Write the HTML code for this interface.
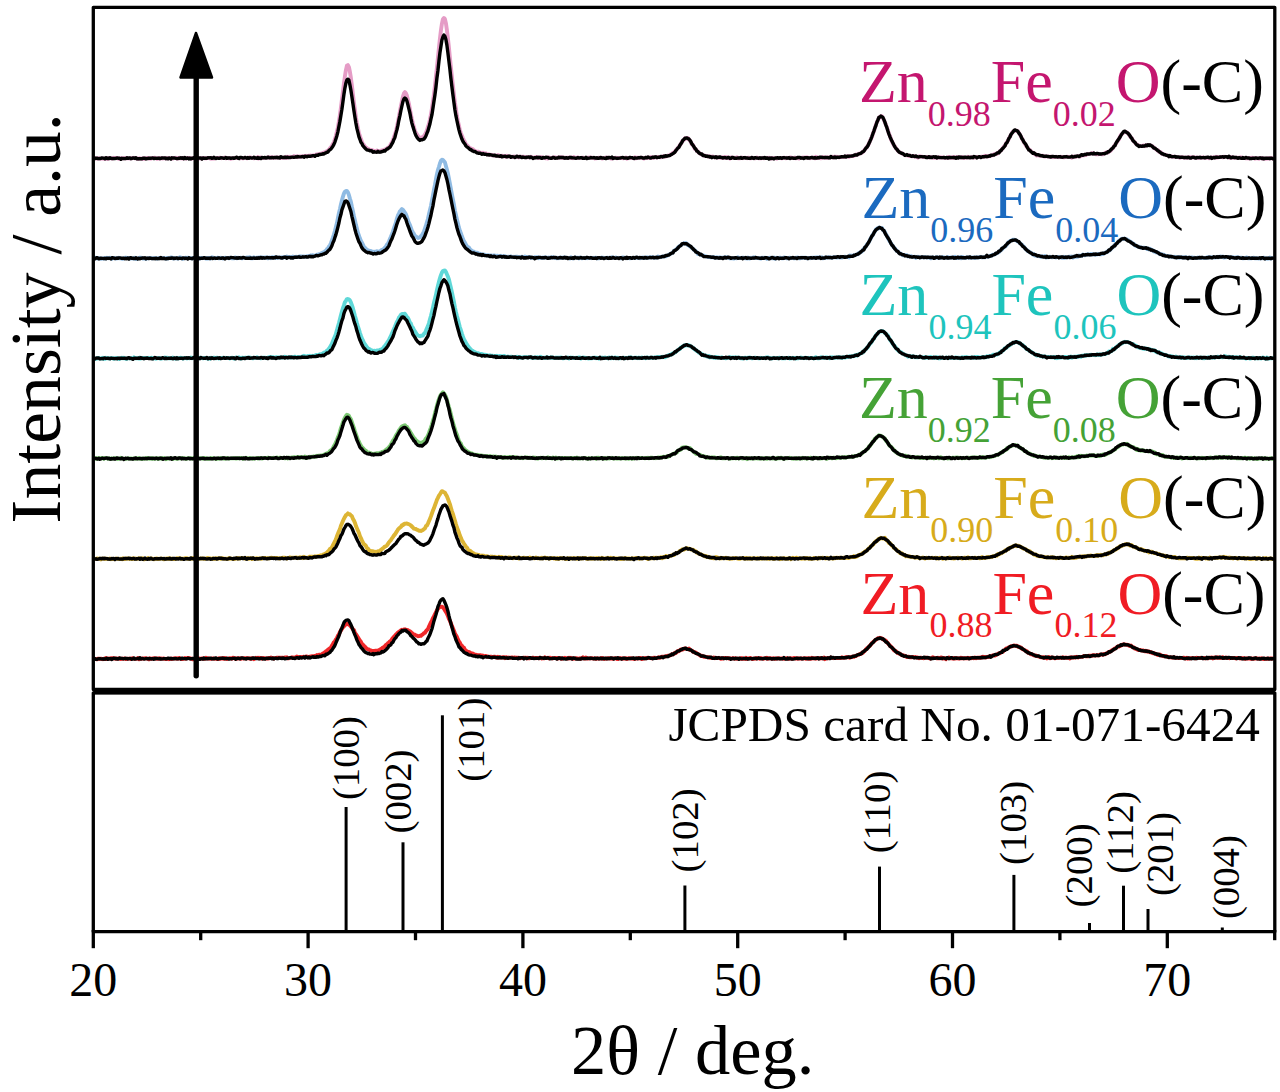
<!DOCTYPE html><html><head><meta charset="utf-8"><style>html,body{margin:0;padding:0;background:#fff;overflow:hidden}svg{display:block}</style></head><body><svg width="1280" height="1092" viewBox="0 0 1280 1092">
<rect width="1280" height="1092" fill="#fff"/>
<g fill="none" stroke-linejoin="round" stroke-linecap="round">
<path d="M94.9,158.0 95.9,158.4 96.9,158.6 97.9,158.5 98.9,158.1 99.9,158.7 100.9,158.6 101.9,158.6 102.9,158.6 103.9,158.7 104.9,159.0 105.9,158.2 106.9,158.4 107.9,158.9 108.9,157.9 109.9,158.4 110.9,158.1 111.9,158.3 112.9,158.5 113.9,157.8 114.9,158.0 115.9,157.9 116.9,158.3 117.9,158.1 118.9,158.8 119.9,158.2 120.9,158.8 121.9,158.2 122.9,158.4 123.9,158.3 124.9,158.3 125.9,158.0 126.9,158.4 127.9,158.4 128.9,158.4 129.9,158.5 130.9,158.1 131.9,158.2 132.9,158.1 133.9,157.8 134.9,158.4 135.9,158.1 136.9,158.3 137.9,159.0 138.9,158.4 139.9,158.3 140.9,158.6 141.9,158.7 142.9,158.8 143.9,158.1 144.9,158.8 145.9,158.3 146.9,158.0 147.9,158.0 148.9,158.6 149.9,158.5 150.9,158.7 151.9,158.0 152.9,158.2 153.9,157.9 154.9,157.7 155.9,158.3 156.9,158.8 157.9,158.6 158.9,158.0 159.9,158.6 160.9,158.1 161.9,158.4 162.9,158.5 163.9,158.1 164.9,158.0 165.9,158.5 166.9,158.2 167.9,158.1 168.9,158.4 169.9,158.2 170.9,158.4 171.9,158.0 172.9,158.5 173.9,158.0 174.9,158.1 175.9,157.7 176.9,158.6 177.9,158.3 178.9,158.4 179.9,157.7 180.9,158.3 181.9,158.1 182.9,158.6 183.9,157.8 184.9,158.3 185.9,158.5 186.9,157.9 187.9,158.2 188.9,157.9 189.9,158.2 190.9,158.3 191.9,158.6 192.9,158.2 193.9,158.0 194.9,158.4 195.9,158.2 196.9,158.5 197.9,158.0 198.9,158.6 199.9,158.2 200.9,158.2 201.9,158.5 202.9,158.0 203.9,158.0 204.9,158.3 205.9,158.1 206.9,158.2 207.9,158.0 208.9,158.0 209.9,158.4 210.9,158.7 211.9,157.7 212.9,158.6 213.9,158.3 214.9,158.5 215.9,158.2 216.9,157.9 217.9,158.0 218.9,157.8 219.9,157.6 220.9,158.1 221.9,158.2 222.9,158.0 223.9,158.1 224.9,157.6 225.9,158.4 226.9,158.0 227.9,158.1 228.9,158.3 229.9,157.9 230.9,158.8 231.9,158.4 232.9,158.4 233.9,158.1 234.9,157.8 235.9,158.1 236.9,157.8 237.9,158.1 238.9,158.0 239.9,158.3 240.9,158.1 241.9,158.0 242.9,158.4 243.9,157.9 244.9,157.8 245.9,157.8 246.9,158.4 247.9,157.9 248.9,157.7 249.9,157.3 250.9,157.6 251.9,158.0 252.9,158.0 253.9,158.3 254.9,157.6 255.9,158.0 256.9,158.2 257.9,157.1 258.9,158.5 259.9,157.4 260.9,157.4 261.9,158.0 262.9,157.9 263.9,158.1 264.9,157.9 265.9,157.8 266.9,157.6 267.9,157.4 268.9,157.8 269.9,157.1 270.9,157.6 271.9,157.8 272.9,157.2 273.9,157.8 274.9,157.8 275.9,157.5 276.9,157.4 277.9,157.6 278.9,157.6 279.9,157.3 280.9,158.0 281.9,157.8 282.9,157.6 283.9,157.7 284.9,157.7 285.9,156.8 286.9,158.0 287.9,156.8 288.9,157.2 289.9,156.8 290.9,157.3 291.9,157.2 292.9,157.1 293.9,156.1 294.9,157.1 295.9,156.9 296.9,156.2 297.9,157.2 298.9,156.6 299.9,156.4 300.9,156.7 301.9,156.3 302.9,156.5 303.9,156.2 304.9,156.0 305.9,155.8 306.9,156.3 307.9,156.0 308.9,155.7 309.9,155.6 310.9,155.4 311.9,156.2 312.9,155.5 313.9,155.3 314.9,155.5 315.9,154.7 316.9,154.4 317.9,154.3 318.9,154.3 319.9,153.9 320.9,153.6 321.9,153.5 322.9,152.9 323.9,152.4 324.9,152.5 325.9,151.7 326.9,151.1 327.9,150.7 328.9,149.8 329.9,148.4 330.9,147.3 331.9,145.7 332.9,143.9 333.9,142.2 334.9,139.2 335.9,135.7 336.9,131.5 337.9,127.5 338.9,121.4 339.9,115.1 340.9,107.8 341.9,99.7 342.9,91.9 343.9,83.6 344.9,76.4 345.9,70.1 346.9,65.7 347.9,65.0 348.9,67.0 349.9,71.7 350.9,77.9 351.9,85.6 352.9,94.2 353.9,102.4 354.9,109.5 355.9,117.3 356.9,123.1 357.9,128.0 358.9,133.2 359.9,135.8 360.9,139.0 361.9,141.4 362.9,144.1 363.9,145.0 364.9,146.7 365.9,147.6 366.9,148.1 367.9,149.0 368.9,149.1 369.9,150.1 370.9,149.9 371.9,150.2 372.9,150.9 373.9,150.7 374.9,151.5 375.9,151.4 376.9,150.5 377.9,151.1 378.9,150.9 379.9,151.5 380.9,150.6 381.9,150.4 382.9,150.3 383.9,149.9 384.9,149.4 385.9,149.2 386.9,148.4 387.9,147.6 388.9,147.4 389.9,145.8 390.9,144.0 391.9,142.2 392.9,140.3 393.9,137.4 394.9,134.3 395.9,131.4 396.9,126.8 397.9,122.0 398.9,117.0 399.9,111.4 400.9,106.1 401.9,101.5 402.9,96.6 403.9,93.5 404.9,92.1 405.9,93.3 406.9,95.6 407.9,99.6 408.9,103.7 409.9,109.2 410.9,114.3 411.9,119.2 412.9,123.4 413.9,127.0 414.9,130.6 415.9,132.8 416.9,134.2 417.9,135.9 418.9,137.2 419.9,137.9 420.9,137.6 421.9,137.3 422.9,137.2 423.9,136.1 424.9,134.6 425.9,132.8 426.9,130.2 427.9,126.9 428.9,123.9 429.9,119.6 430.9,114.7 431.9,108.6 432.9,101.8 433.9,94.4 434.9,86.2 435.9,76.7 436.9,67.7 437.9,57.9 438.9,48.3 439.9,39.0 440.9,30.5 441.9,23.8 442.9,19.2 443.9,18.0 444.9,19.0 445.9,23.1 446.9,30.0 447.9,38.2 448.9,47.1 449.9,57.6 450.9,67.2 451.9,76.7 452.9,85.7 453.9,94.2 454.9,102.5 455.9,108.7 456.9,116.0 457.9,121.1 458.9,125.5 459.9,130.1 460.9,133.1 461.9,135.6 462.9,138.3 463.9,140.2 464.9,142.0 465.9,144.4 466.9,145.1 467.9,146.1 468.9,147.3 469.9,148.1 470.9,148.4 471.9,149.0 472.9,149.2 473.9,150.6 474.9,150.7 475.9,151.5 476.9,151.6 477.9,151.6 478.9,152.1 479.9,153.0 480.9,152.7 481.9,153.3 482.9,152.7 483.9,153.4 484.9,154.1 485.9,153.4 486.9,154.5 487.9,154.2 488.9,154.3 489.9,155.1 490.9,154.7 491.9,155.3 492.9,155.0 493.9,155.3 494.9,155.7 495.9,155.8 496.9,155.5 497.9,155.0 498.9,156.3 499.9,155.7 500.9,156.3 501.9,155.8 502.9,155.9 503.9,156.2 504.9,156.2 505.9,156.9 506.9,155.8 507.9,156.2 508.9,156.5 509.9,156.6 510.9,156.6 511.9,156.7 512.9,157.0 513.9,156.5 514.9,156.6 515.9,156.8 516.9,157.0 517.9,156.4 518.9,157.5 519.9,156.8 520.9,156.8 521.9,156.9 522.9,156.7 523.9,156.8 524.9,157.0 525.9,157.3 526.9,157.4 527.9,157.1 528.9,157.1 529.9,157.4 530.9,156.7 531.9,157.2 532.9,157.6 533.9,157.8 534.9,157.3 535.9,157.0 536.9,157.2 537.9,157.8 538.9,158.0 539.9,157.4 540.9,157.0 541.9,157.5 542.9,157.7 543.9,157.8 544.9,157.6 545.9,158.3 546.9,157.6 547.9,158.4 548.9,157.3 549.9,158.0 550.9,158.0 551.9,157.9 552.9,157.4 553.9,157.6 554.9,157.3 555.9,157.7 556.9,157.8 557.9,157.9 558.9,157.3 559.9,157.5 560.9,157.1 561.9,157.8 562.9,157.4 563.9,158.1 564.9,157.6 565.9,157.9 566.9,157.7 567.9,157.8 568.9,157.7 569.9,157.4 570.9,158.1 571.9,157.5 572.9,158.2 573.9,157.1 574.9,157.7 575.9,158.1 576.9,158.1 577.9,157.3 578.9,157.9 579.9,157.9 580.9,157.9 581.9,157.7 582.9,157.6 583.9,157.9 584.9,158.0 585.9,158.2 586.9,157.9 587.9,157.6 588.9,158.1 589.9,157.5 590.9,157.7 591.9,157.7 592.9,157.9 593.9,158.0 594.9,158.5 595.9,158.1 596.9,158.2 597.9,157.8 598.9,157.6 599.9,157.8 600.9,157.8 601.9,158.6 602.9,158.4 603.9,158.2 604.9,157.9 605.9,157.5 606.9,157.8 607.9,157.8 608.9,157.7 609.9,158.1 610.9,158.5 611.9,158.6 612.9,157.9 613.9,158.0 614.9,158.0 615.9,157.7 616.9,158.3 617.9,158.1 618.9,158.0 619.9,158.1 620.9,157.8 621.9,157.9 622.9,158.3 623.9,158.2 624.9,158.0 625.9,157.5 626.9,158.7 627.9,158.0 628.9,158.2 629.9,157.6 630.9,158.1 631.9,158.1 632.9,158.0 633.9,158.2 634.9,157.3 635.9,158.2 636.9,157.7 637.9,157.7 638.9,157.8 639.9,157.9 640.9,157.8 641.9,157.7 642.9,157.9 643.9,158.6 644.9,157.9 645.9,157.6 646.9,158.0 647.9,157.9 648.9,157.4 649.9,158.0 650.9,157.1 651.9,157.7 652.9,158.0 653.9,157.1 654.9,157.2 655.9,157.1 656.9,157.7 657.9,157.0 658.9,157.1 659.9,157.2 660.9,157.2 661.9,157.1 662.9,156.4 663.9,156.0 664.9,156.7 665.9,156.2 666.9,156.2 667.9,155.5 668.9,155.4 669.9,155.4 670.9,154.1 671.9,153.9 672.9,152.8 673.9,152.9 674.9,151.6 675.9,150.2 676.9,148.9 677.9,148.1 678.9,146.7 679.9,145.1 680.9,144.0 681.9,141.7 682.9,140.8 683.9,139.8 684.9,138.3 685.9,138.3 686.9,138.5 687.9,138.1 688.9,139.3 689.9,140.3 690.9,142.3 691.9,144.3 692.9,144.8 693.9,146.8 694.9,149.0 695.9,149.3 696.9,150.8 697.9,151.8 698.9,152.4 699.9,153.6 700.9,154.1 701.9,154.5 702.9,155.0 703.9,155.8 704.9,155.8 705.9,155.8 706.9,156.1 707.9,156.5 708.9,156.7 709.9,156.3 710.9,157.1 711.9,156.6 712.9,156.5 713.9,157.0 714.9,157.3 715.9,157.6 716.9,157.0 717.9,157.3 718.9,157.7 719.9,157.5 720.9,157.9 721.9,157.8 722.9,157.1 723.9,157.4 724.9,157.9 725.9,157.0 726.9,158.0 727.9,157.7 728.9,157.5 729.9,158.5 730.9,157.5 731.9,157.6 732.9,157.7 733.9,157.7 734.9,158.0 735.9,158.0 736.9,157.2 737.9,158.2 738.9,158.2 739.9,158.2 740.9,158.1 741.9,157.5 742.9,158.2 743.9,157.8 744.9,157.6 745.9,158.0 746.9,158.2 747.9,157.7 748.9,157.7 749.9,158.2 750.9,158.3 751.9,157.8 752.9,158.1 753.9,158.0 754.9,158.4 755.9,158.1 756.9,157.5 757.9,157.8 758.9,158.4 759.9,158.4 760.9,158.4 761.9,158.0 762.9,157.8 763.9,158.3 764.9,158.0 765.9,158.0 766.9,157.8 767.9,158.1 768.9,157.8 769.9,157.9 770.9,158.6 771.9,158.0 772.9,158.4 773.9,158.1 774.9,158.2 775.9,158.1 776.9,158.7 777.9,158.1 778.9,158.1 779.9,158.1 780.9,157.9 781.9,158.4 782.9,157.8 783.9,157.6 784.9,158.1 785.9,158.2 786.9,157.7 787.9,158.1 788.9,158.0 789.9,157.5 790.9,157.4 791.9,158.1 792.9,158.0 793.9,158.2 794.9,157.6 795.9,158.3 796.9,158.0 797.9,158.1 798.9,158.5 799.9,157.9 800.9,157.9 801.9,157.8 802.9,157.5 803.9,157.9 804.9,157.5 805.9,157.6 806.9,157.3 807.9,158.1 808.9,157.8 809.9,158.2 810.9,157.7 811.9,157.7 812.9,157.6 813.9,157.5 814.9,158.3 815.9,156.9 816.9,158.1 817.9,158.1 818.9,157.6 819.9,157.7 820.9,158.2 821.9,157.7 822.9,157.0 823.9,157.4 824.9,158.0 825.9,157.3 826.9,157.9 827.9,157.4 828.9,157.7 829.9,157.3 830.9,157.2 831.9,157.3 832.9,156.7 833.9,157.5 834.9,156.6 835.9,157.2 836.9,156.8 837.9,157.2 838.9,157.5 839.9,157.0 840.9,156.9 841.9,157.0 842.9,157.0 843.9,157.0 844.9,156.5 845.9,156.9 846.9,156.2 847.9,156.3 848.9,156.9 849.9,156.2 850.9,156.2 851.9,156.0 852.9,155.8 853.9,156.1 854.9,155.3 855.9,154.5 856.9,154.7 857.9,154.5 858.9,153.8 859.9,153.4 860.9,153.4 861.9,152.5 862.9,152.1 863.9,150.8 864.9,149.4 865.9,148.4 866.9,147.0 867.9,145.3 868.9,143.8 869.9,141.0 870.9,139.1 871.9,137.1 872.9,133.6 873.9,131.3 874.9,128.1 875.9,124.7 876.9,122.1 877.9,120.3 878.9,117.8 879.9,116.7 880.9,116.2 881.9,116.2 882.9,118.1 883.9,119.9 884.9,122.2 885.9,124.7 886.9,127.4 887.9,130.3 888.9,133.8 889.9,135.6 890.9,139.1 891.9,141.3 892.9,143.4 893.9,145.2 894.9,146.5 895.9,148.0 896.9,149.5 897.9,150.7 898.9,151.8 899.9,152.3 900.9,153.0 901.9,153.2 902.9,154.2 903.9,154.4 904.9,155.2 905.9,155.2 906.9,155.2 907.9,155.0 908.9,156.0 909.9,155.5 910.9,156.0 911.9,156.3 912.9,156.4 913.9,155.9 914.9,156.1 915.9,156.8 916.9,156.8 917.9,157.6 918.9,156.5 919.9,156.3 920.9,156.5 921.9,156.6 922.9,156.8 923.9,157.1 924.9,157.1 925.9,157.0 926.9,156.9 927.9,157.3 928.9,157.0 929.9,157.5 930.9,157.2 931.9,157.1 932.9,157.7 933.9,157.7 934.9,157.8 935.9,157.1 936.9,157.7 937.9,157.8 938.9,157.5 939.9,157.2 940.9,157.4 941.9,157.7 942.9,157.5 943.9,157.5 944.9,157.8 945.9,158.1 946.9,158.0 947.9,157.2 948.9,157.0 949.9,158.0 950.9,157.9 951.9,157.5 952.9,157.0 953.9,158.0 954.9,157.4 955.9,157.3 956.9,157.4 957.9,157.5 958.9,157.0 959.9,157.1 960.9,157.5 961.9,157.5 962.9,157.0 963.9,158.1 964.9,157.8 965.9,157.6 966.9,157.6 967.9,156.7 968.9,157.3 969.9,157.5 970.9,157.3 971.9,157.3 972.9,157.4 973.9,157.6 974.9,157.5 975.9,156.9 976.9,157.4 977.9,156.9 978.9,157.0 979.9,157.0 980.9,156.8 981.9,156.7 982.9,156.8 983.9,156.7 984.9,155.8 985.9,156.4 986.9,156.0 987.9,156.6 988.9,156.0 989.9,155.6 990.9,155.8 991.9,155.4 992.9,155.3 993.9,154.2 994.9,154.3 995.9,153.7 996.9,153.9 997.9,153.1 998.9,152.1 999.9,151.4 1000.9,150.5 1001.9,149.3 1002.9,148.0 1003.9,146.5 1004.9,145.8 1005.9,143.6 1006.9,142.3 1007.9,140.6 1008.9,138.7 1009.9,136.6 1010.9,135.0 1011.9,133.0 1012.9,131.6 1013.9,131.2 1014.9,130.6 1015.9,130.7 1016.9,130.8 1017.9,131.2 1018.9,133.0 1019.9,134.5 1020.9,136.8 1021.9,138.1 1022.9,140.5 1023.9,142.1 1024.9,143.8 1025.9,145.4 1026.9,147.0 1027.9,147.8 1028.9,149.7 1029.9,149.9 1030.9,151.1 1031.9,151.9 1032.9,153.0 1033.9,153.2 1034.9,154.4 1035.9,154.1 1036.9,155.5 1037.9,155.2 1038.9,155.6 1039.9,155.6 1040.9,156.0 1041.9,155.7 1042.9,155.6 1043.9,156.4 1044.9,156.5 1045.9,156.3 1046.9,156.4 1047.9,156.5 1048.9,156.6 1049.9,156.9 1050.9,156.6 1051.9,156.9 1052.9,157.2 1053.9,156.8 1054.9,157.1 1055.9,156.7 1056.9,157.0 1057.9,156.9 1058.9,157.3 1059.9,156.9 1060.9,156.7 1061.9,157.1 1062.9,156.9 1063.9,157.4 1064.9,157.1 1065.9,156.9 1066.9,156.7 1067.9,157.0 1068.9,156.9 1069.9,156.9 1070.9,156.9 1071.9,157.8 1072.9,156.5 1073.9,156.7 1074.9,156.8 1075.9,156.8 1076.9,156.3 1077.9,156.3 1078.9,156.0 1079.9,156.5 1080.9,155.5 1081.9,155.6 1082.9,155.1 1083.9,155.3 1084.9,154.6 1085.9,155.1 1086.9,154.2 1087.9,154.1 1088.9,153.9 1089.9,153.9 1090.9,153.5 1091.9,153.1 1092.9,153.1 1093.9,153.6 1094.9,154.1 1095.9,154.2 1096.9,154.1 1097.9,154.3 1098.9,154.0 1099.9,154.0 1100.9,154.2 1101.9,154.4 1102.9,154.3 1103.9,153.8 1104.9,153.0 1105.9,152.9 1106.9,152.0 1107.9,152.5 1108.9,151.6 1109.9,151.2 1110.9,150.4 1111.9,149.0 1112.9,148.1 1113.9,146.6 1114.9,144.8 1115.9,143.8 1116.9,142.2 1117.9,140.5 1118.9,139.2 1119.9,136.7 1120.9,134.9 1121.9,134.2 1122.9,133.2 1123.9,132.2 1124.9,131.7 1125.9,131.9 1126.9,132.5 1127.9,133.4 1128.9,134.4 1129.9,136.3 1130.9,137.2 1131.9,138.5 1132.9,140.3 1133.9,141.4 1134.9,142.5 1135.9,144.0 1136.9,144.3 1137.9,145.0 1138.9,145.6 1139.9,145.8 1140.9,146.1 1141.9,146.1 1142.9,145.7 1143.9,145.4 1144.9,146.2 1145.9,145.4 1146.9,145.0 1147.9,145.1 1148.9,145.1 1149.9,145.2 1150.9,145.5 1151.9,146.0 1152.9,146.6 1153.9,148.0 1154.9,148.2 1155.9,149.2 1156.9,150.1 1157.9,150.1 1158.9,151.8 1159.9,152.2 1160.9,152.3 1161.9,153.8 1162.9,154.2 1163.9,154.4 1164.9,154.6 1165.9,154.8 1166.9,155.4 1167.9,155.6 1168.9,156.2 1169.9,156.3 1170.9,156.6 1171.9,156.5 1172.9,156.6 1173.9,156.7 1174.9,156.7 1175.9,156.9 1176.9,157.1 1177.9,157.1 1178.9,157.1 1179.9,157.9 1180.9,157.3 1181.9,157.4 1182.9,157.3 1183.9,157.7 1184.9,157.7 1185.9,157.5 1186.9,157.8 1187.9,157.7 1188.9,157.2 1189.9,157.2 1190.9,157.3 1191.9,157.7 1192.9,157.4 1193.9,157.2 1194.9,157.5 1195.9,157.7 1196.9,157.7 1197.9,157.8 1198.9,157.7 1199.9,157.8 1200.9,157.7 1201.9,157.5 1202.9,157.4 1203.9,157.7 1204.9,157.9 1205.9,157.6 1206.9,157.6 1207.9,157.9 1208.9,158.2 1209.9,158.1 1210.9,157.4 1211.9,157.4 1212.9,157.4 1213.9,157.5 1214.9,157.5 1215.9,156.8 1216.9,157.7 1217.9,157.5 1218.9,157.0 1219.9,157.2 1220.9,156.9 1221.9,157.0 1222.9,157.4 1223.9,156.6 1224.9,156.8 1225.9,156.9 1226.9,157.0 1227.9,157.2 1228.9,157.2 1229.9,157.9 1230.9,157.1 1231.9,157.7 1232.9,157.4 1233.9,157.7 1234.9,157.7 1235.9,157.7 1236.9,157.6 1237.9,157.8 1238.9,157.6 1239.9,157.8 1240.9,157.3 1241.9,157.9 1242.9,157.8 1243.9,158.0 1244.9,157.8 1245.9,158.4 1246.9,158.1 1247.9,158.1 1248.9,158.5 1249.9,157.9 1250.9,158.2 1251.9,157.8 1252.9,157.9 1253.9,158.0 1254.9,158.7 1255.9,158.0 1256.9,158.4 1257.9,158.4 1258.9,158.7 1259.9,158.2 1260.9,157.9 1261.9,157.9 1262.9,158.7 1263.9,158.5 1264.9,158.7 1265.9,158.8 1266.9,158.4 1267.9,158.3 1268.9,158.5 1269.9,157.9 1270.9,158.2 1271.9,158.3 1272.9,158.5" stroke="#e59cc6" stroke-width="3.9"/>
<path d="M94.9,158.5 95.9,158.2 96.9,158.2 97.9,158.5 98.9,158.7 99.9,158.5 100.9,158.3 101.9,157.9 102.9,158.1 103.9,158.2 104.9,158.7 105.9,157.7 106.9,158.5 107.9,158.2 108.9,158.5 109.9,157.8 110.9,158.3 111.9,158.5 112.9,158.4 113.9,158.6 114.9,158.5 115.9,158.4 116.9,158.0 117.9,158.2 118.9,158.1 119.9,158.3 120.9,159.3 121.9,158.3 122.9,158.6 123.9,158.5 124.9,158.6 125.9,158.6 126.9,157.7 127.9,158.4 128.9,157.9 129.9,157.9 130.9,158.7 131.9,158.3 132.9,158.0 133.9,157.9 134.9,158.4 135.9,157.8 136.9,158.8 137.9,158.6 138.9,158.7 139.9,158.7 140.9,158.6 141.9,158.8 142.9,158.2 143.9,158.4 144.9,158.1 145.9,158.9 146.9,158.4 147.9,158.5 148.9,158.1 149.9,158.2 150.9,158.2 151.9,158.1 152.9,158.0 153.9,158.6 154.9,158.2 155.9,158.4 156.9,158.3 157.9,158.1 158.9,158.2 159.9,158.6 160.9,158.3 161.9,158.0 162.9,158.0 163.9,158.1 164.9,158.0 165.9,158.7 166.9,158.3 167.9,158.8 168.9,158.0 169.9,158.1 170.9,159.0 171.9,157.8 172.9,158.1 173.9,158.0 174.9,158.2 175.9,158.4 176.9,158.6 177.9,158.6 178.9,158.1 179.9,158.3 180.9,157.8 181.9,158.4 182.9,157.8 183.9,158.7 184.9,157.6 185.9,158.5 186.9,158.3 187.9,157.9 188.9,158.9 189.9,158.1 190.9,158.9 191.9,158.2 192.9,158.3 193.9,157.6 194.9,158.0 195.9,158.3 196.9,158.0 197.9,158.0 198.9,157.9 199.9,158.1 200.9,158.0 201.9,159.0 202.9,157.9 203.9,158.2 204.9,158.3 205.9,158.2 206.9,158.3 207.9,157.8 208.9,157.9 209.9,157.8 210.9,157.6 211.9,158.4 212.9,158.1 213.9,157.3 214.9,158.1 215.9,158.5 216.9,158.0 217.9,158.2 218.9,158.2 219.9,158.2 220.9,157.8 221.9,157.9 222.9,158.0 223.9,158.4 224.9,158.0 225.9,157.5 226.9,158.3 227.9,157.9 228.9,158.0 229.9,157.9 230.9,158.4 231.9,158.0 232.9,158.0 233.9,158.3 234.9,158.0 235.9,157.6 236.9,157.2 237.9,158.1 238.9,158.5 239.9,157.4 240.9,157.5 241.9,157.7 242.9,158.1 243.9,158.0 244.9,157.5 245.9,157.8 246.9,158.3 247.9,157.6 248.9,158.2 249.9,157.6 250.9,157.8 251.9,158.1 252.9,157.9 253.9,157.3 254.9,158.2 255.9,158.0 256.9,158.3 257.9,157.5 258.9,158.3 259.9,157.9 260.9,158.5 261.9,157.5 262.9,157.6 263.9,157.8 264.9,157.5 265.9,158.0 266.9,157.9 267.9,157.1 268.9,157.6 269.9,157.9 270.9,157.8 271.9,157.4 272.9,157.7 273.9,157.7 274.9,157.5 275.9,157.7 276.9,157.3 277.9,157.9 278.9,157.4 279.9,157.9 280.9,156.7 281.9,157.4 282.9,157.5 283.9,157.5 284.9,157.2 285.9,157.6 286.9,157.3 287.9,157.3 288.9,157.6 289.9,157.5 290.9,157.3 291.9,157.1 292.9,157.1 293.9,157.4 294.9,157.2 295.9,156.8 296.9,157.1 297.9,156.5 298.9,156.9 299.9,156.9 300.9,156.9 301.9,156.6 302.9,156.5 303.9,157.2 304.9,156.2 305.9,156.4 306.9,156.7 307.9,156.1 308.9,156.2 309.9,156.4 310.9,156.1 311.9,155.8 312.9,155.6 313.9,155.6 314.9,156.3 315.9,155.2 316.9,155.2 317.9,155.4 318.9,154.5 319.9,154.5 320.9,154.3 321.9,154.2 322.9,153.7 323.9,154.1 324.9,153.2 325.9,152.9 326.9,152.2 327.9,152.2 328.9,150.6 329.9,149.7 330.9,149.1 331.9,147.6 332.9,146.3 333.9,144.4 334.9,142.1 335.9,139.0 336.9,135.7 337.9,131.8 338.9,126.6 339.9,121.4 340.9,115.4 341.9,109.2 342.9,101.9 343.9,94.6 344.9,88.1 345.9,83.1 346.9,79.9 347.9,79.2 348.9,80.0 349.9,84.8 350.9,90.2 351.9,96.7 352.9,103.4 353.9,110.5 354.9,117.0 355.9,123.1 356.9,128.4 357.9,132.3 358.9,136.7 359.9,139.3 360.9,142.2 361.9,143.5 362.9,145.7 363.9,146.8 364.9,148.0 365.9,149.0 366.9,149.8 367.9,150.1 368.9,150.2 369.9,150.8 370.9,150.7 371.9,151.0 372.9,152.2 373.9,151.7 374.9,152.1 375.9,152.1 376.9,152.2 377.9,151.3 378.9,152.0 379.9,152.2 380.9,152.0 381.9,151.5 382.9,151.5 383.9,150.7 384.9,151.0 385.9,149.9 386.9,149.0 387.9,148.8 388.9,147.7 389.9,147.2 390.9,145.7 391.9,143.9 392.9,142.1 393.9,139.4 394.9,137.4 395.9,133.4 396.9,129.9 397.9,125.4 398.9,120.0 399.9,115.6 400.9,110.5 401.9,106.0 402.9,101.6 403.9,99.0 404.9,98.0 405.9,98.8 406.9,100.9 407.9,104.7 408.9,108.8 409.9,113.0 410.9,118.4 411.9,123.1 412.9,126.6 413.9,129.7 414.9,132.8 415.9,135.5 416.9,137.2 417.9,138.6 418.9,139.7 419.9,140.4 420.9,139.7 421.9,139.8 422.9,139.4 423.9,139.1 424.9,137.8 425.9,136.0 426.9,133.3 427.9,131.0 428.9,127.6 429.9,124.0 430.9,119.2 431.9,114.9 432.9,108.6 433.9,101.8 434.9,95.2 435.9,87.5 436.9,78.3 437.9,70.7 438.9,61.5 439.9,53.0 440.9,46.4 441.9,40.0 442.9,36.9 443.9,35.1 444.9,36.3 445.9,39.5 446.9,45.1 447.9,52.9 448.9,61.1 449.9,69.2 450.9,78.5 451.9,86.8 452.9,94.7 453.9,102.3 454.9,109.8 455.9,115.7 456.9,120.5 457.9,125.2 458.9,129.6 459.9,133.2 460.9,136.2 461.9,139.1 462.9,141.2 463.9,142.7 464.9,144.0 465.9,145.9 466.9,146.9 467.9,147.5 468.9,148.3 469.9,149.5 470.9,149.5 471.9,150.6 472.9,151.0 473.9,151.6 474.9,151.4 475.9,152.1 476.9,152.8 477.9,153.0 478.9,153.4 479.9,153.2 480.9,153.6 481.9,154.2 482.9,153.7 483.9,154.0 484.9,154.4 485.9,154.3 486.9,154.8 487.9,154.6 488.9,155.0 489.9,154.7 490.9,154.9 491.9,155.1 492.9,155.5 493.9,155.6 494.9,155.2 495.9,156.0 496.9,155.8 497.9,156.0 498.9,156.1 499.9,156.4 500.9,155.8 501.9,156.8 502.9,156.5 503.9,156.3 504.9,156.1 505.9,156.6 506.9,156.8 507.9,156.5 508.9,156.2 509.9,156.2 510.9,157.3 511.9,156.7 512.9,156.9 513.9,156.9 514.9,157.5 515.9,157.0 516.9,156.2 517.9,156.8 518.9,157.0 519.9,156.5 520.9,157.2 521.9,157.5 522.9,156.9 523.9,157.4 524.9,157.5 525.9,157.6 526.9,157.2 527.9,157.1 528.9,157.0 529.9,157.7 530.9,156.9 531.9,157.4 532.9,158.4 533.9,157.9 534.9,157.6 535.9,157.9 536.9,157.3 537.9,157.8 538.9,157.3 539.9,157.5 540.9,158.0 541.9,158.3 542.9,157.5 543.9,157.8 544.9,157.8 545.9,157.3 546.9,157.4 547.9,157.4 548.9,158.1 549.9,158.1 550.9,158.3 551.9,158.2 552.9,157.5 553.9,157.4 554.9,158.3 555.9,158.1 556.9,158.0 557.9,158.0 558.9,157.2 559.9,157.7 560.9,157.4 561.9,157.5 562.9,157.4 563.9,157.8 564.9,158.2 565.9,157.8 566.9,157.8 567.9,158.2 568.9,157.7 569.9,157.5 570.9,157.5 571.9,157.8 572.9,157.9 573.9,157.9 574.9,158.1 575.9,158.2 576.9,158.1 577.9,157.6 578.9,158.0 579.9,157.9 580.9,157.6 581.9,157.6 582.9,158.4 583.9,158.3 584.9,158.3 585.9,157.4 586.9,158.5 587.9,158.2 588.9,158.1 589.9,158.0 590.9,157.5 591.9,157.9 592.9,157.9 593.9,157.5 594.9,158.0 595.9,158.2 596.9,157.7 597.9,158.4 598.9,157.9 599.9,158.2 600.9,157.5 601.9,158.1 602.9,158.0 603.9,158.0 604.9,158.4 605.9,158.6 606.9,157.5 607.9,158.2 608.9,157.5 609.9,157.7 610.9,157.8 611.9,157.1 612.9,158.5 613.9,158.0 614.9,158.0 615.9,158.1 616.9,158.3 617.9,158.3 618.9,158.1 619.9,158.1 620.9,157.8 621.9,157.6 622.9,157.4 623.9,158.0 624.9,158.0 625.9,158.0 626.9,157.9 627.9,158.4 628.9,157.8 629.9,157.5 630.9,157.6 631.9,157.6 632.9,158.1 633.9,158.5 634.9,157.8 635.9,158.0 636.9,158.1 637.9,157.8 638.9,157.8 639.9,157.7 640.9,157.4 641.9,157.7 642.9,158.0 643.9,158.2 644.9,157.8 645.9,157.5 646.9,157.9 647.9,156.9 648.9,157.5 649.9,157.9 650.9,158.0 651.9,157.5 652.9,157.1 653.9,157.5 654.9,157.0 655.9,156.8 656.9,157.6 657.9,157.4 658.9,157.1 659.9,157.2 660.9,156.5 661.9,156.7 662.9,157.0 663.9,156.2 664.9,156.5 665.9,155.7 666.9,156.2 667.9,155.9 668.9,155.6 669.9,155.6 670.9,154.6 671.9,154.4 672.9,153.4 673.9,152.9 674.9,152.1 675.9,150.5 676.9,149.3 677.9,148.0 678.9,147.4 679.9,145.2 680.9,143.7 681.9,142.3 682.9,140.1 683.9,139.5 684.9,138.2 685.9,138.2 686.9,137.9 687.9,138.6 688.9,138.9 689.9,140.3 690.9,141.8 691.9,143.9 692.9,145.1 693.9,146.7 694.9,148.3 695.9,149.3 696.9,151.1 697.9,151.6 698.9,152.8 699.9,153.5 700.9,154.1 701.9,153.9 702.9,155.5 703.9,155.5 704.9,155.6 705.9,156.4 706.9,156.0 707.9,156.5 708.9,156.3 709.9,157.0 710.9,156.6 711.9,157.7 712.9,157.0 713.9,157.1 714.9,157.6 715.9,156.7 716.9,157.7 717.9,157.1 718.9,157.3 719.9,157.0 720.9,157.3 721.9,157.6 722.9,158.1 723.9,157.6 724.9,157.5 725.9,157.9 726.9,158.1 727.9,157.5 728.9,157.5 729.9,158.3 730.9,158.4 731.9,157.5 732.9,157.4 733.9,158.0 734.9,158.3 735.9,158.3 736.9,158.2 737.9,158.0 738.9,157.9 739.9,158.1 740.9,157.5 741.9,158.3 742.9,158.1 743.9,157.6 744.9,157.7 745.9,158.0 746.9,157.9 747.9,158.2 748.9,158.2 749.9,158.1 750.9,158.2 751.9,157.4 752.9,158.1 753.9,158.5 754.9,157.7 755.9,157.8 756.9,158.0 757.9,158.2 758.9,158.2 759.9,157.8 760.9,158.3 761.9,158.0 762.9,158.0 763.9,158.2 764.9,157.5 765.9,158.3 766.9,158.0 767.9,158.0 768.9,158.9 769.9,158.0 770.9,158.6 771.9,158.0 772.9,158.4 773.9,158.8 774.9,158.1 775.9,157.9 776.9,158.1 777.9,157.7 778.9,158.2 779.9,157.7 780.9,158.0 781.9,158.3 782.9,157.6 783.9,157.6 784.9,157.9 785.9,157.9 786.9,158.2 787.9,157.8 788.9,157.6 789.9,158.5 790.9,158.2 791.9,158.0 792.9,157.9 793.9,158.4 794.9,158.2 795.9,158.2 796.9,157.8 797.9,157.4 798.9,157.5 799.9,157.5 800.9,158.2 801.9,157.9 802.9,158.2 803.9,158.5 804.9,157.6 805.9,157.9 806.9,157.7 807.9,158.1 808.9,157.8 809.9,158.0 810.9,157.6 811.9,157.4 812.9,157.8 813.9,158.0 814.9,157.7 815.9,158.1 816.9,158.0 817.9,157.5 818.9,157.9 819.9,157.2 820.9,157.1 821.9,157.3 822.9,157.5 823.9,157.6 824.9,157.5 825.9,157.4 826.9,157.6 827.9,157.4 828.9,157.9 829.9,157.9 830.9,156.5 831.9,157.4 832.9,157.5 833.9,157.6 834.9,156.9 835.9,157.7 836.9,157.1 837.9,157.4 838.9,157.3 839.9,157.2 840.9,157.0 841.9,156.6 842.9,156.9 843.9,156.9 844.9,156.1 845.9,157.0 846.9,156.5 847.9,156.2 848.9,156.2 849.9,156.1 850.9,156.1 851.9,156.0 852.9,155.9 853.9,155.3 854.9,155.0 855.9,154.8 856.9,155.0 857.9,154.3 858.9,153.8 859.9,153.6 860.9,153.4 861.9,152.3 862.9,151.7 863.9,151.2 864.9,149.6 865.9,148.1 866.9,147.2 867.9,145.7 868.9,143.5 869.9,141.4 870.9,139.1 871.9,136.5 872.9,133.7 873.9,131.1 874.9,128.0 875.9,125.5 876.9,122.3 877.9,120.0 878.9,117.5 879.9,117.2 880.9,116.0 881.9,116.8 882.9,117.4 883.9,119.6 884.9,122.1 885.9,125.1 886.9,127.7 887.9,131.0 888.9,134.0 889.9,136.6 890.9,138.9 891.9,141.1 892.9,143.1 893.9,145.0 894.9,146.8 895.9,148.4 896.9,149.3 897.9,150.8 898.9,151.8 899.9,152.5 900.9,152.9 901.9,153.3 902.9,153.7 903.9,154.4 904.9,155.4 905.9,155.2 906.9,154.6 907.9,155.3 908.9,155.4 909.9,155.5 910.9,156.1 911.9,156.4 912.9,155.8 913.9,156.3 914.9,156.5 915.9,156.0 916.9,156.7 917.9,156.8 918.9,157.0 919.9,156.6 920.9,156.6 921.9,156.6 922.9,156.8 923.9,156.9 924.9,156.7 925.9,157.6 926.9,157.3 927.9,157.5 928.9,156.7 929.9,157.5 930.9,157.2 931.9,157.5 932.9,156.9 933.9,156.8 934.9,157.3 935.9,156.8 936.9,158.0 937.9,157.1 938.9,157.4 939.9,157.6 940.9,157.6 941.9,157.6 942.9,157.6 943.9,157.5 944.9,157.8 945.9,157.7 946.9,157.5 947.9,158.0 948.9,157.5 949.9,157.5 950.9,157.5 951.9,157.6 952.9,157.5 953.9,157.3 954.9,157.7 955.9,158.2 956.9,157.2 957.9,158.0 958.9,156.9 959.9,157.6 960.9,157.2 961.9,157.5 962.9,157.5 963.9,157.6 964.9,157.2 965.9,157.3 966.9,157.6 967.9,157.3 968.9,157.3 969.9,157.7 970.9,157.2 971.9,157.5 972.9,157.7 973.9,156.4 974.9,156.9 975.9,156.9 976.9,157.9 977.9,157.3 978.9,156.8 979.9,156.8 980.9,157.5 981.9,157.0 982.9,156.6 983.9,156.7 984.9,156.6 985.9,156.3 986.9,156.7 987.9,156.4 988.9,155.9 989.9,156.2 990.9,155.3 991.9,155.2 992.9,155.1 993.9,155.0 994.9,154.3 995.9,154.1 996.9,153.2 997.9,152.8 998.9,152.9 999.9,151.1 1000.9,150.7 1001.9,149.2 1002.9,148.3 1003.9,147.2 1004.9,146.0 1005.9,143.6 1006.9,142.6 1007.9,140.7 1008.9,138.3 1009.9,137.0 1010.9,134.5 1011.9,133.2 1012.9,132.1 1013.9,130.7 1014.9,129.9 1015.9,130.3 1016.9,130.6 1017.9,131.5 1018.9,133.1 1019.9,134.4 1020.9,136.1 1021.9,138.7 1022.9,139.9 1023.9,142.1 1024.9,143.2 1025.9,144.6 1026.9,146.7 1027.9,148.4 1028.9,150.0 1029.9,150.4 1030.9,151.5 1031.9,152.3 1032.9,153.3 1033.9,152.8 1034.9,153.7 1035.9,154.5 1036.9,154.8 1037.9,154.7 1038.9,155.0 1039.9,155.5 1040.9,155.7 1041.9,155.7 1042.9,156.0 1043.9,156.3 1044.9,156.4 1045.9,156.2 1046.9,156.3 1047.9,156.5 1048.9,156.7 1049.9,156.7 1050.9,157.0 1051.9,156.5 1052.9,156.5 1053.9,156.6 1054.9,156.7 1055.9,156.6 1056.9,156.9 1057.9,157.0 1058.9,156.6 1059.9,156.7 1060.9,157.0 1061.9,157.2 1062.9,157.1 1063.9,156.8 1064.9,156.9 1065.9,156.8 1066.9,156.8 1067.9,157.0 1068.9,157.1 1069.9,157.1 1070.9,156.9 1071.9,156.3 1072.9,157.0 1073.9,156.8 1074.9,156.5 1075.9,156.6 1076.9,156.1 1077.9,156.0 1078.9,156.5 1079.9,156.2 1080.9,155.0 1081.9,154.6 1082.9,155.3 1083.9,154.8 1084.9,154.4 1085.9,154.6 1086.9,154.0 1087.9,153.9 1088.9,154.1 1089.9,153.9 1090.9,153.4 1091.9,153.6 1092.9,154.0 1093.9,153.1 1094.9,153.8 1095.9,153.8 1096.9,153.5 1097.9,153.5 1098.9,154.0 1099.9,153.8 1100.9,154.0 1101.9,153.8 1102.9,153.6 1103.9,153.6 1104.9,153.7 1105.9,153.0 1106.9,152.9 1107.9,151.8 1108.9,151.7 1109.9,150.8 1110.9,149.8 1111.9,148.6 1112.9,148.0 1113.9,146.4 1114.9,145.7 1115.9,143.4 1116.9,141.7 1117.9,140.2 1118.9,138.8 1119.9,137.3 1120.9,135.5 1121.9,133.8 1122.9,132.7 1123.9,131.4 1124.9,131.2 1125.9,131.9 1126.9,132.6 1127.9,133.0 1128.9,134.4 1129.9,135.6 1130.9,137.4 1131.9,138.5 1132.9,140.5 1133.9,141.5 1134.9,142.3 1135.9,143.7 1136.9,145.0 1137.9,145.2 1138.9,146.5 1139.9,146.0 1140.9,146.2 1141.9,146.3 1142.9,145.9 1143.9,146.2 1144.9,145.8 1145.9,145.1 1146.9,145.7 1147.9,144.7 1148.9,145.5 1149.9,144.8 1150.9,145.5 1151.9,146.0 1152.9,147.0 1153.9,148.0 1154.9,148.2 1155.9,149.1 1156.9,149.7 1157.9,150.8 1158.9,151.3 1159.9,152.2 1160.9,152.9 1161.9,153.7 1162.9,153.8 1163.9,154.5 1164.9,154.7 1165.9,155.1 1166.9,155.4 1167.9,155.5 1168.9,156.6 1169.9,155.5 1170.9,156.3 1171.9,156.7 1172.9,156.6 1173.9,156.6 1174.9,156.4 1175.9,157.2 1176.9,156.8 1177.9,157.1 1178.9,157.0 1179.9,157.4 1180.9,157.3 1181.9,157.1 1182.9,157.3 1183.9,157.5 1184.9,157.7 1185.9,157.5 1186.9,157.7 1187.9,157.2 1188.9,157.5 1189.9,158.0 1190.9,158.0 1191.9,157.4 1192.9,157.3 1193.9,157.4 1194.9,157.8 1195.9,158.1 1196.9,157.4 1197.9,157.6 1198.9,157.5 1199.9,157.3 1200.9,157.9 1201.9,157.6 1202.9,157.6 1203.9,157.4 1204.9,157.9 1205.9,157.5 1206.9,157.4 1207.9,157.2 1208.9,157.6 1209.9,157.7 1210.9,157.3 1211.9,158.4 1212.9,157.6 1213.9,157.4 1214.9,157.8 1215.9,157.3 1216.9,157.2 1217.9,157.4 1218.9,157.4 1219.9,156.9 1220.9,157.2 1221.9,156.9 1222.9,156.7 1223.9,157.2 1224.9,156.6 1225.9,156.9 1226.9,156.8 1227.9,157.5 1228.9,156.2 1229.9,157.1 1230.9,157.8 1231.9,157.5 1232.9,157.0 1233.9,157.5 1234.9,157.7 1235.9,157.4 1236.9,157.8 1237.9,158.3 1238.9,157.6 1239.9,158.0 1240.9,158.2 1241.9,158.3 1242.9,157.5 1243.9,158.3 1244.9,158.2 1245.9,157.5 1246.9,157.8 1247.9,158.1 1248.9,157.9 1249.9,158.6 1250.9,158.5 1251.9,158.5 1252.9,158.1 1253.9,158.3 1254.9,158.2 1255.9,158.0 1256.9,158.1 1257.9,158.4 1258.9,158.2 1259.9,158.0 1260.9,158.0 1261.9,158.5 1262.9,158.0 1263.9,158.8 1264.9,158.3 1265.9,158.2 1266.9,158.2 1267.9,158.4 1268.9,158.2 1269.9,158.6 1270.9,158.2 1271.9,158.2 1272.9,158.7" stroke="#000" stroke-width="3.4"/>
<path d="M94.9,258.0 95.9,257.7 96.9,258.5 97.9,258.5 98.9,258.2 99.9,258.4 100.9,258.8 101.9,258.6 102.9,258.5 103.9,258.5 104.9,258.0 105.9,258.6 106.9,257.8 107.9,258.2 108.9,258.1 109.9,257.7 110.9,258.2 111.9,258.8 112.9,258.2 113.9,257.9 114.9,258.2 115.9,258.5 116.9,258.3 117.9,258.3 118.9,257.8 119.9,258.4 120.9,258.4 121.9,258.7 122.9,258.7 123.9,258.5 124.9,257.8 125.9,257.8 126.9,257.9 127.9,258.3 128.9,258.0 129.9,258.6 130.9,258.3 131.9,258.4 132.9,258.5 133.9,258.3 134.9,257.8 135.9,259.0 136.9,258.7 137.9,258.7 138.9,258.0 139.9,257.7 140.9,257.8 141.9,257.9 142.9,258.5 143.9,258.5 144.9,258.7 145.9,258.9 146.9,258.4 147.9,258.3 148.9,258.1 149.9,258.1 150.9,257.9 151.9,258.4 152.9,258.3 153.9,258.1 154.9,258.0 155.9,258.4 156.9,258.6 157.9,258.2 158.9,258.3 159.9,258.0 160.9,258.1 161.9,258.1 162.9,258.1 163.9,258.0 164.9,258.3 165.9,258.6 166.9,257.9 167.9,258.6 168.9,258.1 169.9,258.1 170.9,257.5 171.9,257.5 172.9,258.4 173.9,257.9 174.9,258.4 175.9,258.2 176.9,258.3 177.9,258.6 178.9,258.2 179.9,257.2 180.9,257.6 181.9,258.5 182.9,258.8 183.9,258.1 184.9,257.9 185.9,257.7 186.9,258.3 187.9,257.6 188.9,257.8 189.9,258.2 190.9,258.2 191.9,258.1 192.9,258.5 193.9,257.8 194.9,257.8 195.9,258.0 196.9,258.1 197.9,258.0 198.9,258.7 199.9,257.9 200.9,258.3 201.9,257.9 202.9,258.2 203.9,258.0 204.9,258.0 205.9,258.6 206.9,258.0 207.9,258.6 208.9,257.9 209.9,257.9 210.9,258.4 211.9,257.3 212.9,257.6 213.9,258.1 214.9,258.2 215.9,258.2 216.9,258.0 217.9,257.6 218.9,258.3 219.9,258.2 220.9,257.7 221.9,258.1 222.9,258.6 223.9,258.1 224.9,257.7 225.9,257.9 226.9,257.9 227.9,258.1 228.9,258.3 229.9,257.7 230.9,257.8 231.9,258.3 232.9,258.2 233.9,258.4 234.9,257.5 235.9,257.7 236.9,258.3 237.9,257.7 238.9,258.0 239.9,257.9 240.9,257.7 241.9,258.4 242.9,257.9 243.9,257.8 244.9,257.9 245.9,258.0 246.9,257.4 247.9,257.6 248.9,257.5 249.9,257.2 250.9,258.2 251.9,258.3 252.9,258.2 253.9,257.3 254.9,257.9 255.9,258.0 256.9,257.6 257.9,258.0 258.9,257.4 259.9,257.4 260.9,257.5 261.9,257.5 262.9,257.4 263.9,258.0 264.9,257.4 265.9,257.5 266.9,257.5 267.9,258.3 268.9,257.4 269.9,257.8 270.9,258.2 271.9,257.2 272.9,257.3 273.9,257.5 274.9,257.1 275.9,257.9 276.9,257.4 277.9,257.8 278.9,257.6 279.9,257.5 280.9,257.7 281.9,257.3 282.9,257.7 283.9,257.0 284.9,257.1 285.9,257.7 286.9,256.6 287.9,257.4 288.9,257.1 289.9,257.0 290.9,256.9 291.9,257.5 292.9,256.6 293.9,257.3 294.9,257.1 295.9,256.8 296.9,256.9 297.9,257.0 298.9,256.6 299.9,256.3 300.9,256.8 301.9,256.4 302.9,256.4 303.9,256.5 304.9,256.6 305.9,256.9 306.9,256.3 307.9,256.2 308.9,256.3 309.9,256.0 310.9,255.3 311.9,255.5 312.9,255.2 313.9,255.6 314.9,255.7 315.9,255.2 316.9,254.6 317.9,254.9 318.9,254.1 319.9,254.2 320.9,253.4 321.9,252.9 322.9,252.4 323.9,252.3 324.9,251.3 325.9,250.8 326.9,249.2 327.9,248.5 328.9,246.6 329.9,245.4 330.9,243.2 331.9,240.4 332.9,237.7 333.9,234.5 334.9,231.0 335.9,226.9 336.9,223.1 337.9,218.2 338.9,213.1 339.9,209.1 340.9,204.5 341.9,200.6 342.9,196.8 343.9,193.7 344.9,191.7 345.9,190.9 346.9,190.9 347.9,192.3 348.9,194.9 349.9,198.5 350.9,201.8 351.9,206.7 352.9,211.1 353.9,215.9 354.9,220.1 355.9,224.6 356.9,228.5 357.9,232.6 358.9,235.4 359.9,238.3 360.9,240.9 361.9,242.5 362.9,244.6 363.9,246.9 364.9,247.8 365.9,248.7 366.9,249.9 367.9,250.2 368.9,250.7 369.9,251.0 370.9,250.9 371.9,251.9 372.9,251.7 373.9,251.9 374.9,251.8 375.9,251.7 376.9,251.1 377.9,251.7 378.9,252.0 379.9,251.4 380.9,250.6 381.9,249.8 382.9,249.5 383.9,248.7 384.9,247.6 385.9,246.7 386.9,244.7 387.9,243.7 388.9,241.5 389.9,239.1 390.9,236.8 391.9,234.3 392.9,231.6 393.9,228.3 394.9,225.4 395.9,222.8 396.9,218.5 397.9,215.5 398.9,213.6 399.9,211.3 400.9,210.3 401.9,209.1 402.9,209.8 403.9,211.1 404.9,212.7 405.9,214.1 406.9,216.9 407.9,219.9 408.9,223.0 409.9,224.9 410.9,227.6 411.9,230.6 412.9,232.3 413.9,233.9 414.9,236.0 415.9,236.3 416.9,237.3 417.9,238.1 418.9,237.6 419.9,237.5 420.9,236.0 421.9,235.3 422.9,233.5 423.9,231.7 424.9,228.6 425.9,225.7 426.9,222.4 427.9,219.0 428.9,214.4 429.9,210.2 430.9,206.1 431.9,200.8 432.9,195.6 433.9,190.0 434.9,185.2 435.9,179.5 436.9,174.5 437.9,170.2 438.9,167.0 439.9,163.5 440.9,160.9 441.9,159.8 442.9,159.9 443.9,161.1 444.9,162.2 445.9,166.0 446.9,169.5 447.9,173.4 448.9,178.3 449.9,183.7 450.9,188.8 451.9,194.3 452.9,199.3 453.9,204.3 454.9,210.6 455.9,214.6 456.9,219.1 457.9,223.3 458.9,227.4 459.9,230.7 460.9,233.2 461.9,236.3 462.9,238.8 463.9,241.2 464.9,242.7 465.9,244.7 466.9,246.1 467.9,247.7 468.9,247.5 469.9,249.3 470.9,250.1 471.9,250.9 472.9,251.3 473.9,251.6 474.9,252.5 475.9,252.8 476.9,252.7 477.9,252.9 478.9,253.7 479.9,253.6 480.9,254.2 481.9,254.7 482.9,254.5 483.9,254.7 484.9,254.8 485.9,255.3 486.9,255.5 487.9,255.2 488.9,255.5 489.9,255.4 490.9,255.4 491.9,255.8 492.9,255.7 493.9,255.5 494.9,255.4 495.9,256.3 496.9,255.8 497.9,255.8 498.9,256.1 499.9,256.5 500.9,255.8 501.9,256.6 502.9,256.6 503.9,256.1 504.9,256.2 505.9,256.5 506.9,257.2 507.9,256.6 508.9,257.1 509.9,257.1 510.9,256.3 511.9,256.9 512.9,257.2 513.9,256.8 514.9,257.3 515.9,256.7 516.9,256.6 517.9,256.9 518.9,257.3 519.9,257.0 520.9,257.4 521.9,256.7 522.9,257.0 523.9,257.6 524.9,256.5 525.9,257.4 526.9,257.0 527.9,257.1 528.9,257.2 529.9,256.9 530.9,257.7 531.9,257.6 532.9,257.8 533.9,257.5 534.9,257.2 535.9,257.7 536.9,257.1 537.9,257.2 538.9,258.2 539.9,257.9 540.9,257.7 541.9,258.0 542.9,257.5 543.9,257.8 544.9,257.4 545.9,257.5 546.9,257.7 547.9,258.1 548.9,257.4 549.9,258.0 550.9,257.7 551.9,257.2 552.9,257.1 553.9,257.5 554.9,258.0 555.9,257.8 556.9,258.3 557.9,257.8 558.9,258.2 559.9,257.8 560.9,257.5 561.9,258.0 562.9,257.6 563.9,257.4 564.9,257.6 565.9,257.7 566.9,257.9 567.9,258.1 568.9,258.0 569.9,258.5 570.9,257.2 571.9,257.8 572.9,258.6 573.9,257.8 574.9,257.5 575.9,257.6 576.9,257.6 577.9,257.7 578.9,258.4 579.9,257.5 580.9,257.7 581.9,258.3 582.9,258.0 583.9,258.0 584.9,257.8 585.9,258.2 586.9,257.6 587.9,258.2 588.9,258.0 589.9,257.9 590.9,257.8 591.9,258.2 592.9,258.0 593.9,257.8 594.9,258.0 595.9,257.6 596.9,258.3 597.9,258.4 598.9,258.3 599.9,258.0 600.9,258.1 601.9,257.5 602.9,257.8 603.9,257.9 604.9,257.9 605.9,258.1 606.9,257.8 607.9,257.7 608.9,258.3 609.9,257.9 610.9,257.8 611.9,257.3 612.9,257.5 613.9,257.9 614.9,258.0 615.9,257.4 616.9,257.9 617.9,258.0 618.9,257.8 619.9,258.0 620.9,258.4 621.9,257.7 622.9,257.4 623.9,257.8 624.9,257.7 625.9,257.9 626.9,258.1 627.9,258.2 628.9,258.0 629.9,258.3 630.9,258.0 631.9,258.2 632.9,258.0 633.9,258.0 634.9,257.7 635.9,257.9 636.9,257.7 637.9,257.8 638.9,257.9 639.9,258.2 640.9,257.7 641.9,258.0 642.9,257.4 643.9,257.7 644.9,258.1 645.9,257.8 646.9,257.2 647.9,257.7 648.9,257.6 649.9,257.3 650.9,257.1 651.9,257.3 652.9,257.2 653.9,257.7 654.9,257.6 655.9,257.6 656.9,257.7 657.9,256.6 658.9,257.1 659.9,257.2 660.9,256.8 661.9,256.6 662.9,256.4 663.9,256.5 664.9,256.2 665.9,256.3 666.9,255.7 667.9,255.2 668.9,254.7 669.9,253.9 670.9,253.6 671.9,253.2 672.9,252.3 673.9,251.0 674.9,250.1 675.9,249.8 676.9,248.7 677.9,247.8 678.9,246.5 679.9,246.1 680.9,245.3 681.9,244.3 682.9,244.1 683.9,243.3 684.9,243.4 685.9,243.0 686.9,243.9 687.9,245.2 688.9,245.4 689.9,246.5 690.9,247.0 691.9,247.9 692.9,248.8 693.9,249.6 694.9,250.8 695.9,251.2 696.9,252.3 697.9,254.0 698.9,253.8 699.9,254.1 700.9,255.1 701.9,255.4 702.9,255.5 703.9,255.6 704.9,256.2 705.9,256.4 706.9,256.7 707.9,257.0 708.9,257.1 709.9,256.9 710.9,257.4 711.9,257.4 712.9,257.0 713.9,257.6 714.9,257.5 715.9,257.7 716.9,257.3 717.9,257.5 718.9,257.6 719.9,257.3 720.9,257.9 721.9,257.6 722.9,257.9 723.9,257.5 724.9,257.4 725.9,257.5 726.9,257.2 727.9,257.6 728.9,258.0 729.9,258.3 730.9,258.2 731.9,258.3 732.9,258.3 733.9,258.6 734.9,258.0 735.9,258.2 736.9,258.2 737.9,257.2 738.9,258.0 739.9,258.0 740.9,258.1 741.9,257.8 742.9,257.8 743.9,257.8 744.9,258.2 745.9,258.2 746.9,258.5 747.9,257.6 748.9,258.4 749.9,258.6 750.9,257.8 751.9,258.1 752.9,257.6 753.9,257.2 754.9,257.6 755.9,258.0 756.9,258.1 757.9,257.9 758.9,258.2 759.9,258.2 760.9,258.6 761.9,257.6 762.9,257.8 763.9,257.9 764.9,257.8 765.9,257.9 766.9,258.8 767.9,257.9 768.9,258.2 769.9,257.6 770.9,257.8 771.9,258.3 772.9,258.4 773.9,257.5 774.9,258.7 775.9,258.2 776.9,257.8 777.9,258.2 778.9,257.8 779.9,257.6 780.9,258.1 781.9,258.3 782.9,258.4 783.9,257.5 784.9,257.7 785.9,258.0 786.9,258.4 787.9,258.4 788.9,257.9 789.9,257.6 790.9,258.2 791.9,257.9 792.9,258.1 793.9,258.3 794.9,258.2 795.9,257.7 796.9,257.6 797.9,257.5 798.9,258.2 799.9,258.3 800.9,257.6 801.9,257.8 802.9,257.7 803.9,257.9 804.9,257.7 805.9,257.7 806.9,258.3 807.9,258.2 808.9,257.9 809.9,258.2 810.9,257.7 811.9,258.0 812.9,257.6 813.9,257.6 814.9,258.1 815.9,257.4 816.9,257.7 817.9,257.4 818.9,257.4 819.9,257.8 820.9,257.8 821.9,257.3 822.9,258.4 823.9,258.2 824.9,257.4 825.9,257.8 826.9,257.7 827.9,257.4 828.9,257.2 829.9,257.6 830.9,257.5 831.9,257.9 832.9,257.5 833.9,257.1 834.9,257.2 835.9,257.4 836.9,257.6 837.9,256.9 838.9,257.3 839.9,257.6 840.9,256.7 841.9,257.6 842.9,256.9 843.9,257.0 844.9,256.7 845.9,256.9 846.9,256.9 847.9,256.8 848.9,257.4 849.9,255.6 850.9,256.1 851.9,255.6 852.9,255.7 853.9,255.3 854.9,255.2 855.9,254.9 856.9,254.3 857.9,254.3 858.9,252.9 859.9,252.6 860.9,252.0 861.9,251.5 862.9,249.7 863.9,248.6 864.9,247.9 865.9,246.4 866.9,244.5 867.9,243.7 868.9,241.8 869.9,239.8 870.9,238.0 871.9,236.4 872.9,234.5 873.9,233.0 874.9,231.4 875.9,229.6 876.9,228.4 877.9,228.6 878.9,227.5 879.9,228.1 880.9,228.0 881.9,227.9 882.9,229.9 883.9,230.8 884.9,232.0 885.9,234.3 886.9,235.7 887.9,237.8 888.9,240.0 889.9,241.7 890.9,243.1 891.9,244.7 892.9,246.2 893.9,247.4 894.9,248.5 895.9,249.8 896.9,251.0 897.9,251.6 898.9,252.5 899.9,253.3 900.9,253.6 901.9,254.7 902.9,255.2 903.9,255.2 904.9,255.2 905.9,255.1 906.9,255.2 907.9,256.5 908.9,256.4 909.9,256.3 910.9,256.1 911.9,256.6 912.9,257.0 913.9,256.9 914.9,256.6 915.9,257.9 916.9,257.2 917.9,256.7 918.9,257.3 919.9,257.3 920.9,257.4 921.9,257.4 922.9,256.9 923.9,257.4 924.9,257.1 925.9,257.4 926.9,257.4 927.9,257.6 928.9,257.5 929.9,257.4 930.9,258.3 931.9,257.4 932.9,257.4 933.9,257.7 934.9,257.7 935.9,257.9 936.9,257.2 937.9,257.4 938.9,258.0 939.9,257.7 940.9,257.7 941.9,257.2 942.9,257.2 943.9,257.4 944.9,257.7 945.9,257.9 946.9,257.9 947.9,257.1 948.9,257.7 949.9,257.7 950.9,257.5 951.9,257.6 952.9,257.3 953.9,257.6 954.9,256.9 955.9,258.1 956.9,257.7 957.9,258.1 958.9,257.4 959.9,257.1 960.9,258.2 961.9,257.0 962.9,257.2 963.9,257.8 964.9,258.0 965.9,257.4 966.9,257.5 967.9,257.5 968.9,257.7 969.9,257.2 970.9,257.7 971.9,257.7 972.9,257.4 973.9,257.4 974.9,258.1 975.9,257.5 976.9,257.2 977.9,257.6 978.9,257.6 979.9,257.0 980.9,256.8 981.9,257.5 982.9,257.4 983.9,257.3 984.9,257.3 985.9,256.3 986.9,256.0 987.9,256.7 988.9,256.5 989.9,256.0 990.9,255.9 991.9,255.2 992.9,254.7 993.9,254.6 994.9,254.3 995.9,253.8 996.9,253.0 997.9,252.6 998.9,252.0 999.9,251.0 1000.9,249.9 1001.9,249.6 1002.9,247.8 1003.9,247.2 1004.9,246.7 1005.9,245.9 1006.9,244.6 1007.9,243.0 1008.9,241.7 1009.9,241.3 1010.9,240.7 1011.9,240.3 1012.9,239.6 1013.9,239.6 1014.9,240.0 1015.9,240.2 1016.9,241.1 1017.9,241.5 1018.9,242.3 1019.9,242.9 1020.9,244.1 1021.9,244.5 1022.9,246.0 1023.9,246.6 1024.9,248.1 1025.9,249.2 1026.9,250.0 1027.9,251.3 1028.9,251.4 1029.9,252.3 1030.9,252.8 1031.9,253.5 1032.9,254.5 1033.9,254.1 1034.9,255.5 1035.9,255.7 1036.9,255.8 1037.9,255.8 1038.9,256.2 1039.9,256.2 1040.9,256.9 1041.9,256.3 1042.9,256.4 1043.9,256.8 1044.9,256.1 1045.9,257.4 1046.9,256.9 1047.9,257.3 1048.9,257.2 1049.9,256.6 1050.9,257.2 1051.9,257.4 1052.9,256.9 1053.9,257.0 1054.9,257.0 1055.9,257.5 1056.9,256.9 1057.9,257.0 1058.9,257.3 1059.9,257.3 1060.9,257.1 1061.9,257.8 1062.9,257.8 1063.9,256.9 1064.9,257.8 1065.9,257.3 1066.9,257.4 1067.9,257.4 1068.9,256.7 1069.9,256.6 1070.9,257.1 1071.9,256.6 1072.9,257.6 1073.9,256.5 1074.9,256.8 1075.9,256.1 1076.9,256.9 1077.9,256.7 1078.9,255.5 1079.9,255.9 1080.9,255.7 1081.9,255.9 1082.9,254.6 1083.9,255.0 1084.9,255.3 1085.9,254.7 1086.9,254.5 1087.9,254.2 1088.9,254.6 1089.9,254.4 1090.9,254.0 1091.9,254.4 1092.9,254.2 1093.9,254.5 1094.9,254.6 1095.9,254.7 1096.9,254.5 1097.9,254.0 1098.9,254.2 1099.9,254.1 1100.9,254.3 1101.9,253.6 1102.9,254.0 1103.9,253.2 1104.9,253.0 1105.9,252.2 1106.9,252.2 1107.9,251.0 1108.9,251.0 1109.9,249.9 1110.9,249.2 1111.9,248.2 1112.9,246.8 1113.9,246.5 1114.9,244.6 1115.9,244.0 1116.9,243.2 1117.9,242.3 1118.9,240.9 1119.9,240.2 1120.9,239.6 1121.9,238.8 1122.9,238.8 1123.9,238.5 1124.9,239.0 1125.9,239.1 1126.9,239.3 1127.9,239.9 1128.9,240.9 1129.9,241.3 1130.9,241.9 1131.9,242.8 1132.9,243.9 1133.9,244.0 1134.9,245.3 1135.9,246.1 1136.9,246.1 1137.9,246.7 1138.9,246.7 1139.9,247.1 1140.9,247.4 1141.9,247.9 1142.9,247.8 1143.9,247.7 1144.9,248.0 1145.9,247.9 1146.9,249.0 1147.9,248.4 1148.9,249.4 1149.9,248.7 1150.9,249.3 1151.9,250.4 1152.9,250.3 1153.9,251.5 1154.9,251.6 1155.9,252.3 1156.9,251.9 1157.9,252.9 1158.9,253.2 1159.9,254.2 1160.9,254.0 1161.9,254.5 1162.9,254.7 1163.9,254.7 1164.9,255.7 1165.9,255.7 1166.9,256.1 1167.9,255.9 1168.9,256.4 1169.9,256.3 1170.9,256.6 1171.9,256.9 1172.9,256.8 1173.9,257.2 1174.9,256.8 1175.9,257.1 1176.9,257.7 1177.9,257.1 1178.9,256.9 1179.9,257.8 1180.9,257.4 1181.9,257.2 1182.9,257.2 1183.9,257.7 1184.9,257.3 1185.9,257.1 1186.9,257.8 1187.9,257.7 1188.9,257.9 1189.9,257.5 1190.9,257.8 1191.9,257.4 1192.9,257.6 1193.9,257.8 1194.9,257.8 1195.9,258.1 1196.9,258.0 1197.9,257.5 1198.9,257.6 1199.9,258.0 1200.9,258.1 1201.9,257.9 1202.9,257.6 1203.9,257.8 1204.9,258.0 1205.9,258.0 1206.9,257.4 1207.9,257.3 1208.9,257.5 1209.9,257.3 1210.9,257.4 1211.9,257.1 1212.9,257.4 1213.9,257.4 1214.9,257.6 1215.9,257.5 1216.9,257.1 1217.9,256.7 1218.9,257.2 1219.9,256.7 1220.9,256.5 1221.9,256.8 1222.9,256.5 1223.9,257.5 1224.9,257.3 1225.9,257.4 1226.9,256.9 1227.9,257.0 1228.9,257.2 1229.9,257.1 1230.9,257.3 1231.9,257.5 1232.9,257.2 1233.9,257.5 1234.9,257.9 1235.9,257.7 1236.9,257.2 1237.9,257.5 1238.9,257.6 1239.9,257.7 1240.9,257.9 1241.9,257.7 1242.9,258.4 1243.9,257.9 1244.9,258.2 1245.9,257.8 1246.9,257.4 1247.9,258.2 1248.9,258.3 1249.9,258.4 1250.9,258.1 1251.9,258.2 1252.9,257.9 1253.9,257.7 1254.9,258.2 1255.9,258.3 1256.9,258.3 1257.9,258.4 1258.9,258.5 1259.9,258.4 1260.9,258.4 1261.9,258.3 1262.9,258.0 1263.9,257.6 1264.9,258.3 1265.9,258.6 1266.9,258.4 1267.9,258.8 1268.9,258.4 1269.9,257.6 1270.9,258.6 1271.9,258.0 1272.9,258.2" stroke="#8fbbe3" stroke-width="3.9"/>
<path d="M94.9,258.9 95.9,258.1 96.9,257.7 97.9,258.1 98.9,258.8 99.9,258.4 100.9,258.2 101.9,258.4 102.9,258.4 103.9,258.6 104.9,258.3 105.9,258.7 106.9,258.1 107.9,258.3 108.9,258.1 109.9,258.3 110.9,258.9 111.9,257.8 112.9,257.8 113.9,258.1 114.9,258.6 115.9,258.4 116.9,258.0 117.9,258.3 118.9,257.9 119.9,257.9 120.9,258.1 121.9,258.4 122.9,258.2 123.9,258.3 124.9,258.7 125.9,258.2 126.9,258.7 127.9,258.0 128.9,259.0 129.9,257.8 130.9,257.6 131.9,258.3 132.9,258.2 133.9,258.5 134.9,258.5 135.9,257.8 136.9,258.3 137.9,259.0 138.9,258.2 139.9,258.8 140.9,258.3 141.9,258.2 142.9,257.9 143.9,258.1 144.9,257.8 145.9,258.8 146.9,258.2 147.9,258.1 148.9,258.6 149.9,258.0 150.9,258.4 151.9,258.5 152.9,258.6 153.9,258.4 154.9,258.7 155.9,258.2 156.9,258.5 157.9,258.7 158.9,258.4 159.9,258.6 160.9,257.5 161.9,258.5 162.9,258.5 163.9,258.2 164.9,258.6 165.9,258.9 166.9,258.5 167.9,258.5 168.9,258.2 169.9,258.1 170.9,258.3 171.9,257.9 172.9,258.2 173.9,258.5 174.9,258.2 175.9,258.2 176.9,258.0 177.9,258.6 178.9,258.3 179.9,258.3 180.9,258.4 181.9,258.6 182.9,258.0 183.9,258.1 184.9,258.6 185.9,258.1 186.9,258.4 187.9,259.0 188.9,257.8 189.9,258.3 190.9,258.4 191.9,258.7 192.9,258.2 193.9,257.8 194.9,257.9 195.9,258.1 196.9,257.7 197.9,258.8 198.9,257.9 199.9,258.5 200.9,258.3 201.9,258.2 202.9,258.3 203.9,257.7 204.9,258.0 205.9,258.3 206.9,258.2 207.9,258.3 208.9,258.2 209.9,258.5 210.9,257.9 211.9,258.2 212.9,258.5 213.9,258.1 214.9,258.0 215.9,258.4 216.9,258.4 217.9,257.9 218.9,257.9 219.9,258.2 220.9,258.4 221.9,257.9 222.9,257.9 223.9,258.3 224.9,258.9 225.9,258.0 226.9,258.0 227.9,257.8 228.9,258.4 229.9,258.0 230.9,257.5 231.9,257.6 232.9,257.6 233.9,257.9 234.9,258.0 235.9,258.2 236.9,257.7 237.9,258.2 238.9,257.6 239.9,258.1 240.9,258.0 241.9,258.1 242.9,257.5 243.9,257.7 244.9,257.9 245.9,258.4 246.9,258.1 247.9,258.3 248.9,258.1 249.9,258.3 250.9,258.0 251.9,258.4 252.9,258.1 253.9,257.9 254.9,258.3 255.9,258.3 256.9,257.9 257.9,258.3 258.9,257.7 259.9,258.2 260.9,257.5 261.9,258.2 262.9,257.6 263.9,258.0 264.9,258.0 265.9,257.9 266.9,257.4 267.9,257.7 268.9,257.8 269.9,257.9 270.9,257.7 271.9,257.6 272.9,258.1 273.9,257.7 274.9,257.9 275.9,256.9 276.9,257.3 277.9,257.5 278.9,257.4 279.9,257.4 280.9,257.9 281.9,258.1 282.9,257.7 283.9,257.4 284.9,257.2 285.9,257.3 286.9,258.2 287.9,257.4 288.9,257.4 289.9,257.5 290.9,258.0 291.9,257.4 292.9,258.0 293.9,257.4 294.9,257.2 295.9,257.2 296.9,257.2 297.9,257.1 298.9,256.8 299.9,257.3 300.9,257.3 301.9,257.1 302.9,256.8 303.9,257.1 304.9,256.9 305.9,256.7 306.9,257.0 307.9,257.1 308.9,256.5 309.9,256.3 310.9,256.8 311.9,256.4 312.9,256.8 313.9,256.4 314.9,256.1 315.9,255.7 316.9,255.5 317.9,255.9 318.9,255.5 319.9,255.1 320.9,254.8 321.9,254.7 322.9,254.1 323.9,254.0 324.9,253.3 325.9,253.3 326.9,252.3 327.9,251.1 328.9,250.1 329.9,249.3 330.9,247.6 331.9,245.7 332.9,242.8 333.9,240.7 334.9,237.6 335.9,234.6 336.9,231.0 337.9,227.1 338.9,223.0 339.9,218.0 340.9,214.6 341.9,209.9 342.9,207.1 343.9,204.2 344.9,201.4 345.9,201.0 346.9,201.3 347.9,202.7 348.9,205.4 349.9,208.5 350.9,211.5 351.9,216.3 352.9,220.5 353.9,224.9 354.9,229.2 355.9,232.9 356.9,236.0 357.9,239.0 358.9,241.8 359.9,243.2 360.9,245.6 361.9,247.8 362.9,249.1 363.9,250.2 364.9,250.9 365.9,251.9 366.9,252.2 367.9,252.7 368.9,252.5 369.9,252.8 370.9,253.2 371.9,253.2 372.9,254.1 373.9,253.7 374.9,253.5 375.9,253.9 376.9,253.7 377.9,252.9 378.9,253.2 379.9,253.1 380.9,252.9 381.9,252.5 382.9,251.5 383.9,251.0 384.9,250.3 385.9,249.9 386.9,248.7 387.9,247.4 388.9,245.9 389.9,243.1 390.9,240.8 391.9,238.9 392.9,236.1 393.9,233.7 394.9,230.8 395.9,227.4 396.9,224.1 397.9,221.2 398.9,219.1 399.9,217.1 400.9,215.5 401.9,214.3 402.9,215.4 403.9,215.8 404.9,217.9 405.9,219.4 406.9,222.8 407.9,225.7 408.9,228.1 409.9,231.0 410.9,233.5 411.9,236.0 412.9,237.3 413.9,239.3 414.9,241.3 415.9,242.4 416.9,243.1 417.9,243.4 418.9,243.0 419.9,242.8 420.9,242.2 421.9,241.5 422.9,239.6 423.9,238.0 424.9,236.0 425.9,233.1 426.9,230.5 427.9,227.2 428.9,223.6 429.9,219.4 430.9,215.5 431.9,210.4 432.9,206.1 433.9,200.2 434.9,195.4 435.9,190.4 436.9,185.6 437.9,180.8 438.9,176.9 439.9,173.3 440.9,170.9 441.9,170.7 442.9,170.0 443.9,170.8 444.9,172.6 445.9,176.0 446.9,179.5 447.9,184.0 448.9,189.3 449.9,194.0 450.9,198.9 451.9,204.0 452.9,208.8 453.9,213.7 454.9,219.1 455.9,223.2 456.9,227.5 457.9,230.9 458.9,234.3 459.9,236.5 460.9,239.5 461.9,242.0 462.9,244.2 463.9,245.8 464.9,247.2 465.9,248.5 466.9,249.1 467.9,249.9 468.9,250.8 469.9,251.5 470.9,252.4 471.9,253.0 472.9,253.0 473.9,253.0 474.9,253.5 475.9,254.2 476.9,253.9 477.9,254.8 478.9,254.4 479.9,255.0 480.9,254.5 481.9,255.4 482.9,254.5 483.9,255.4 484.9,255.6 485.9,255.6 486.9,255.7 487.9,255.7 488.9,255.8 489.9,256.6 490.9,255.8 491.9,256.6 492.9,256.7 493.9,256.1 494.9,256.3 495.9,257.2 496.9,257.1 497.9,257.0 498.9,256.6 499.9,256.4 500.9,256.4 501.9,257.1 502.9,256.7 503.9,256.5 504.9,257.2 505.9,256.7 506.9,257.4 507.9,257.2 508.9,257.3 509.9,256.6 510.9,257.0 511.9,257.1 512.9,257.1 513.9,257.3 514.9,257.3 515.9,257.1 516.9,257.7 517.9,257.5 518.9,257.4 519.9,257.4 520.9,258.1 521.9,257.0 522.9,257.3 523.9,258.1 524.9,257.7 525.9,258.0 526.9,257.4 527.9,257.9 528.9,257.2 529.9,257.2 530.9,257.7 531.9,257.3 532.9,257.6 533.9,257.6 534.9,258.8 535.9,257.7 536.9,257.8 537.9,257.6 538.9,257.4 539.9,257.4 540.9,257.6 541.9,257.8 542.9,257.6 543.9,257.9 544.9,257.4 545.9,257.4 546.9,257.9 547.9,258.3 548.9,258.0 549.9,258.0 550.9,257.5 551.9,257.7 552.9,257.6 553.9,257.4 554.9,257.6 555.9,257.5 556.9,258.0 557.9,258.1 558.9,257.9 559.9,257.4 560.9,257.8 561.9,257.8 562.9,258.1 563.9,257.7 564.9,257.3 565.9,258.1 566.9,257.5 567.9,258.6 568.9,257.9 569.9,258.1 570.9,258.0 571.9,258.3 572.9,257.7 573.9,258.4 574.9,257.2 575.9,257.9 576.9,258.0 577.9,257.8 578.9,258.2 579.9,257.9 580.9,257.5 581.9,258.0 582.9,258.0 583.9,257.8 584.9,258.3 585.9,257.8 586.9,257.4 587.9,257.6 588.9,257.9 589.9,258.1 590.9,257.6 591.9,257.9 592.9,258.4 593.9,258.1 594.9,258.3 595.9,258.0 596.9,258.5 597.9,257.7 598.9,257.9 599.9,257.7 600.9,258.2 601.9,257.7 602.9,258.2 603.9,258.5 604.9,258.2 605.9,257.9 606.9,257.6 607.9,258.4 608.9,258.4 609.9,257.6 610.9,258.4 611.9,258.2 612.9,257.5 613.9,257.7 614.9,258.2 615.9,258.2 616.9,258.0 617.9,258.0 618.9,258.5 619.9,257.8 620.9,257.8 621.9,257.9 622.9,258.9 623.9,258.1 624.9,257.8 625.9,258.4 626.9,257.2 627.9,258.2 628.9,257.7 629.9,257.6 630.9,258.1 631.9,258.4 632.9,257.5 633.9,257.7 634.9,258.2 635.9,257.4 636.9,257.3 637.9,257.8 638.9,258.1 639.9,257.4 640.9,257.9 641.9,257.6 642.9,257.8 643.9,258.2 644.9,257.4 645.9,257.7 646.9,258.1 647.9,257.9 648.9,257.7 649.9,257.4 650.9,257.7 651.9,257.6 652.9,257.3 653.9,257.9 654.9,257.4 655.9,257.7 656.9,257.2 657.9,257.8 658.9,257.3 659.9,257.1 660.9,257.1 661.9,256.7 662.9,256.4 663.9,256.6 664.9,256.2 665.9,255.4 666.9,255.5 667.9,255.1 668.9,255.1 669.9,254.2 670.9,253.5 671.9,253.0 672.9,252.9 673.9,250.9 674.9,250.5 675.9,249.8 676.9,249.1 677.9,248.0 678.9,246.9 679.9,245.9 680.9,245.4 681.9,244.0 682.9,243.7 683.9,243.5 684.9,243.9 685.9,243.6 686.9,243.9 687.9,244.7 688.9,245.2 689.9,246.1 690.9,246.4 691.9,247.8 692.9,248.6 693.9,249.9 694.9,250.5 695.9,252.0 696.9,252.4 697.9,252.8 698.9,253.4 699.9,254.8 700.9,254.3 701.9,254.9 702.9,255.8 703.9,256.5 704.9,256.6 705.9,256.6 706.9,256.6 707.9,256.7 708.9,256.9 709.9,256.9 710.9,257.2 711.9,257.2 712.9,257.3 713.9,257.2 714.9,258.1 715.9,257.7 716.9,257.6 717.9,257.8 718.9,258.2 719.9,257.7 720.9,258.1 721.9,257.8 722.9,258.5 723.9,257.8 724.9,257.2 725.9,258.0 726.9,257.7 727.9,257.2 728.9,257.6 729.9,257.5 730.9,258.3 731.9,257.9 732.9,257.9 733.9,257.9 734.9,258.1 735.9,257.6 736.9,257.8 737.9,258.3 738.9,258.1 739.9,258.1 740.9,258.1 741.9,257.7 742.9,258.7 743.9,258.0 744.9,257.9 745.9,257.5 746.9,258.3 747.9,258.0 748.9,258.0 749.9,258.1 750.9,258.2 751.9,258.2 752.9,258.0 753.9,258.2 754.9,257.8 755.9,257.5 756.9,257.9 757.9,258.0 758.9,258.1 759.9,258.2 760.9,258.3 761.9,257.9 762.9,258.3 763.9,258.3 764.9,257.7 765.9,257.8 766.9,257.8 767.9,258.2 768.9,258.7 769.9,258.7 770.9,258.0 771.9,257.5 772.9,257.7 773.9,258.3 774.9,258.3 775.9,258.7 776.9,257.9 777.9,257.8 778.9,258.7 779.9,258.1 780.9,258.4 781.9,258.2 782.9,258.3 783.9,258.3 784.9,257.7 785.9,257.8 786.9,257.8 787.9,258.0 788.9,258.7 789.9,258.1 790.9,258.0 791.9,258.0 792.9,257.4 793.9,258.1 794.9,258.0 795.9,257.9 796.9,258.5 797.9,257.8 798.9,257.8 799.9,257.9 800.9,257.7 801.9,257.8 802.9,257.6 803.9,257.6 804.9,258.1 805.9,257.7 806.9,257.9 807.9,258.6 808.9,257.9 809.9,257.9 810.9,257.7 811.9,258.1 812.9,257.9 813.9,257.6 814.9,257.8 815.9,258.3 816.9,257.6 817.9,257.7 818.9,257.9 819.9,257.3 820.9,258.5 821.9,258.1 822.9,257.9 823.9,258.1 824.9,258.0 825.9,257.2 826.9,257.4 827.9,257.6 828.9,257.4 829.9,257.6 830.9,257.5 831.9,257.9 832.9,257.5 833.9,257.1 834.9,257.1 835.9,257.4 836.9,257.0 837.9,256.7 838.9,256.9 839.9,257.4 840.9,256.8 841.9,256.9 842.9,256.7 843.9,257.0 844.9,257.3 845.9,257.0 846.9,257.0 847.9,256.4 848.9,256.3 849.9,256.4 850.9,256.3 851.9,256.4 852.9,256.3 853.9,255.3 854.9,255.5 855.9,254.7 856.9,254.4 857.9,254.2 858.9,253.4 859.9,252.8 860.9,251.8 861.9,251.0 862.9,250.2 863.9,249.8 864.9,247.3 865.9,246.7 866.9,245.1 867.9,243.5 868.9,242.0 869.9,240.0 870.9,238.0 871.9,236.0 872.9,235.0 873.9,232.9 874.9,231.2 875.9,229.9 876.9,229.2 877.9,228.4 878.9,227.8 879.9,227.4 880.9,228.4 881.9,228.5 882.9,230.1 883.9,230.6 884.9,232.7 885.9,234.7 886.9,236.3 887.9,237.9 888.9,239.2 889.9,241.2 890.9,243.4 891.9,245.1 892.9,245.9 893.9,247.6 894.9,248.8 895.9,250.0 896.9,251.2 897.9,251.4 898.9,253.0 899.9,253.8 900.9,253.7 901.9,254.6 902.9,254.8 903.9,254.8 904.9,255.8 905.9,255.8 906.9,255.6 907.9,256.2 908.9,256.1 909.9,256.7 910.9,256.8 911.9,257.0 912.9,257.0 913.9,256.6 914.9,256.8 915.9,257.2 916.9,257.0 917.9,257.4 918.9,257.1 919.9,257.7 920.9,257.3 921.9,256.9 922.9,257.2 923.9,257.5 924.9,257.2 925.9,257.3 926.9,257.6 927.9,257.1 928.9,257.4 929.9,257.5 930.9,257.3 931.9,257.5 932.9,257.2 933.9,258.3 934.9,258.1 935.9,257.1 936.9,257.3 937.9,257.4 938.9,258.2 939.9,257.1 940.9,257.8 941.9,257.2 942.9,257.8 943.9,258.2 944.9,257.6 945.9,257.7 946.9,257.3 947.9,258.1 948.9,258.0 949.9,257.6 950.9,257.9 951.9,257.5 952.9,257.3 953.9,258.2 954.9,257.7 955.9,258.1 956.9,257.5 957.9,257.1 958.9,257.9 959.9,257.6 960.9,257.4 961.9,257.7 962.9,257.7 963.9,257.9 964.9,257.6 965.9,257.8 966.9,257.3 967.9,257.4 968.9,257.7 969.9,257.0 970.9,257.7 971.9,257.6 972.9,257.6 973.9,257.5 974.9,257.3 975.9,257.6 976.9,257.3 977.9,257.6 978.9,257.4 979.9,257.3 980.9,257.0 981.9,257.2 982.9,257.1 983.9,257.2 984.9,257.2 985.9,256.6 986.9,255.4 987.9,256.8 988.9,256.4 989.9,256.3 990.9,255.8 991.9,255.7 992.9,254.9 993.9,254.7 994.9,254.4 995.9,253.1 996.9,253.2 997.9,252.5 998.9,251.1 999.9,251.0 1000.9,250.1 1001.9,248.4 1002.9,248.1 1003.9,247.1 1004.9,246.4 1005.9,245.1 1006.9,244.1 1007.9,243.0 1008.9,242.3 1009.9,241.6 1010.9,240.7 1011.9,240.6 1012.9,240.2 1013.9,240.1 1014.9,239.9 1015.9,239.9 1016.9,240.8 1017.9,241.4 1018.9,241.7 1019.9,243.4 1020.9,244.0 1021.9,245.2 1022.9,246.5 1023.9,247.0 1024.9,248.3 1025.9,249.3 1026.9,250.1 1027.9,251.2 1028.9,251.6 1029.9,252.6 1030.9,252.8 1031.9,253.7 1032.9,254.4 1033.9,254.5 1034.9,254.7 1035.9,255.0 1036.9,255.7 1037.9,256.0 1038.9,255.6 1039.9,256.2 1040.9,256.4 1041.9,256.5 1042.9,256.8 1043.9,257.0 1044.9,256.8 1045.9,257.4 1046.9,256.4 1047.9,257.4 1048.9,257.3 1049.9,256.9 1050.9,257.1 1051.9,257.0 1052.9,256.4 1053.9,257.2 1054.9,257.2 1055.9,256.7 1056.9,257.0 1057.9,257.1 1058.9,257.7 1059.9,257.2 1060.9,257.2 1061.9,256.9 1062.9,257.0 1063.9,257.4 1064.9,257.4 1065.9,257.0 1066.9,257.5 1067.9,257.0 1068.9,256.9 1069.9,257.5 1070.9,257.4 1071.9,257.1 1072.9,256.9 1073.9,256.7 1074.9,256.1 1075.9,256.2 1076.9,255.5 1077.9,256.1 1078.9,256.0 1079.9,256.1 1080.9,255.8 1081.9,255.8 1082.9,254.6 1083.9,254.9 1084.9,255.0 1085.9,254.7 1086.9,254.8 1087.9,254.4 1088.9,254.7 1089.9,254.8 1090.9,254.7 1091.9,254.6 1092.9,254.6 1093.9,254.1 1094.9,254.6 1095.9,253.9 1096.9,254.4 1097.9,254.4 1098.9,254.1 1099.9,254.2 1100.9,253.5 1101.9,253.4 1102.9,253.1 1103.9,253.5 1104.9,253.0 1105.9,252.4 1106.9,252.2 1107.9,251.4 1108.9,249.9 1109.9,250.1 1110.9,248.9 1111.9,247.6 1112.9,247.2 1113.9,246.0 1114.9,245.8 1115.9,244.1 1116.9,243.3 1117.9,242.1 1118.9,241.2 1119.9,240.8 1120.9,239.5 1121.9,238.9 1122.9,238.8 1123.9,238.6 1124.9,238.5 1125.9,239.3 1126.9,240.0 1127.9,240.8 1128.9,241.1 1129.9,241.7 1130.9,242.3 1131.9,243.1 1132.9,243.5 1133.9,244.6 1134.9,245.2 1135.9,245.4 1136.9,246.0 1137.9,246.7 1138.9,247.1 1139.9,247.5 1140.9,247.5 1141.9,247.7 1142.9,248.4 1143.9,248.0 1144.9,248.2 1145.9,247.7 1146.9,248.5 1147.9,248.3 1148.9,249.1 1149.9,249.1 1150.9,250.1 1151.9,250.0 1152.9,250.7 1153.9,250.7 1154.9,251.2 1155.9,251.7 1156.9,252.1 1157.9,252.8 1158.9,253.3 1159.9,254.1 1160.9,254.3 1161.9,254.7 1162.9,255.5 1163.9,255.3 1164.9,255.8 1165.9,256.0 1166.9,256.1 1167.9,256.0 1168.9,256.8 1169.9,256.4 1170.9,256.4 1171.9,256.8 1172.9,256.9 1173.9,257.1 1174.9,257.5 1175.9,257.7 1176.9,257.1 1177.9,257.6 1178.9,257.1 1179.9,257.4 1180.9,257.2 1181.9,257.4 1182.9,257.9 1183.9,257.5 1184.9,257.8 1185.9,257.4 1186.9,257.8 1187.9,258.6 1188.9,257.4 1189.9,257.8 1190.9,257.7 1191.9,258.2 1192.9,258.4 1193.9,257.9 1194.9,258.0 1195.9,257.8 1196.9,258.0 1197.9,257.8 1198.9,257.8 1199.9,257.5 1200.9,257.8 1201.9,257.4 1202.9,257.7 1203.9,257.9 1204.9,257.9 1205.9,257.9 1206.9,257.6 1207.9,257.9 1208.9,257.2 1209.9,257.6 1210.9,257.4 1211.9,257.9 1212.9,257.4 1213.9,256.8 1214.9,257.1 1215.9,257.4 1216.9,256.8 1217.9,257.4 1218.9,256.6 1219.9,257.1 1220.9,257.0 1221.9,257.1 1222.9,256.6 1223.9,256.8 1224.9,257.0 1225.9,256.7 1226.9,256.7 1227.9,257.2 1228.9,257.0 1229.9,258.1 1230.9,257.0 1231.9,257.4 1232.9,257.7 1233.9,257.8 1234.9,258.1 1235.9,257.8 1236.9,258.2 1237.9,257.5 1238.9,257.7 1239.9,258.0 1240.9,258.2 1241.9,258.2 1242.9,257.6 1243.9,258.2 1244.9,258.2 1245.9,258.2 1246.9,258.3 1247.9,258.1 1248.9,257.9 1249.9,258.2 1250.9,258.4 1251.9,258.0 1252.9,258.3 1253.9,258.2 1254.9,258.2 1255.9,258.2 1256.9,258.2 1257.9,258.4 1258.9,258.2 1259.9,257.8 1260.9,258.5 1261.9,257.6 1262.9,257.6 1263.9,258.4 1264.9,258.8 1265.9,258.1 1266.9,258.4 1267.9,258.2 1268.9,258.1 1269.9,258.3 1270.9,258.6 1271.9,258.2 1272.9,258.1" stroke="#000" stroke-width="3.4"/>
<path d="M94.9,358.5 95.9,358.9 96.9,358.6 97.9,358.0 98.9,358.1 99.9,358.5 100.9,358.3 101.9,358.6 102.9,357.7 103.9,358.9 104.9,358.8 105.9,357.8 106.9,358.2 107.9,358.1 108.9,358.2 109.9,358.6 110.9,358.1 111.9,358.0 112.9,358.5 113.9,358.7 114.9,358.2 115.9,358.4 116.9,357.9 117.9,358.6 118.9,359.0 119.9,358.5 120.9,358.3 121.9,357.7 122.9,358.2 123.9,357.7 124.9,358.5 125.9,358.8 126.9,358.7 127.9,358.3 128.9,358.4 129.9,358.1 130.9,358.3 131.9,358.3 132.9,358.3 133.9,357.4 134.9,358.3 135.9,358.4 136.9,358.0 137.9,358.4 138.9,358.5 139.9,357.6 140.9,358.5 141.9,358.1 142.9,357.9 143.9,358.3 144.9,358.0 145.9,358.1 146.9,357.9 147.9,358.0 148.9,357.8 149.9,358.0 150.9,357.9 151.9,357.8 152.9,358.5 153.9,358.2 154.9,358.3 155.9,358.7 156.9,358.4 157.9,358.2 158.9,357.9 159.9,358.5 160.9,358.4 161.9,358.5 162.9,358.2 163.9,358.1 164.9,357.6 165.9,358.4 166.9,357.7 167.9,358.0 168.9,358.3 169.9,358.2 170.9,358.2 171.9,358.3 172.9,357.6 173.9,358.2 174.9,358.6 175.9,358.5 176.9,357.7 177.9,358.5 178.9,358.3 179.9,357.9 180.9,357.7 181.9,358.1 182.9,358.6 183.9,358.3 184.9,357.9 185.9,358.2 186.9,358.5 187.9,358.1 188.9,358.0 189.9,358.3 190.9,357.5 191.9,358.3 192.9,357.7 193.9,358.1 194.9,358.2 195.9,358.1 196.9,357.9 197.9,358.0 198.9,358.4 199.9,357.7 200.9,357.8 201.9,358.2 202.9,358.4 203.9,358.1 204.9,357.9 205.9,358.3 206.9,358.0 207.9,358.7 208.9,358.5 209.9,358.7 210.9,357.8 211.9,357.9 212.9,358.0 213.9,357.7 214.9,357.9 215.9,358.4 216.9,357.7 217.9,358.0 218.9,358.5 219.9,358.1 220.9,358.2 221.9,358.0 222.9,357.8 223.9,357.9 224.9,358.1 225.9,357.8 226.9,358.0 227.9,357.9 228.9,358.0 229.9,358.5 230.9,358.2 231.9,357.6 232.9,357.9 233.9,358.6 234.9,358.5 235.9,357.6 236.9,358.1 237.9,358.0 238.9,357.2 239.9,358.0 240.9,358.6 241.9,357.7 242.9,357.8 243.9,358.2 244.9,357.8 245.9,357.8 246.9,358.0 247.9,357.4 248.9,358.0 249.9,357.5 250.9,357.9 251.9,358.1 252.9,358.4 253.9,357.6 254.9,357.9 255.9,357.9 256.9,357.3 257.9,357.8 258.9,357.9 259.9,358.0 260.9,358.4 261.9,357.8 262.9,357.7 263.9,357.7 264.9,357.7 265.9,357.9 266.9,358.2 267.9,357.4 268.9,357.7 269.9,356.9 270.9,357.1 271.9,357.7 272.9,357.0 273.9,357.7 274.9,358.0 275.9,357.3 276.9,357.3 277.9,357.5 278.9,357.3 279.9,357.5 280.9,357.3 281.9,357.7 282.9,357.5 283.9,357.4 284.9,356.7 285.9,357.1 286.9,357.3 287.9,357.5 288.9,357.1 289.9,357.4 290.9,357.5 291.9,357.0 292.9,357.4 293.9,357.0 294.9,356.7 295.9,357.0 296.9,357.4 297.9,357.1 298.9,356.9 299.9,357.1 300.9,357.0 301.9,356.8 302.9,356.1 303.9,355.8 304.9,356.1 305.9,357.0 306.9,356.6 307.9,355.9 308.9,356.5 309.9,355.7 310.9,356.1 311.9,356.2 312.9,355.8 313.9,356.0 314.9,355.8 315.9,354.9 316.9,355.2 317.9,355.2 318.9,354.7 319.9,354.2 320.9,354.7 321.9,354.0 322.9,353.3 323.9,352.7 324.9,352.4 325.9,352.1 326.9,350.7 327.9,350.0 328.9,348.8 329.9,347.2 330.9,345.6 331.9,343.8 332.9,341.3 333.9,338.7 334.9,336.7 335.9,333.9 336.9,330.4 337.9,326.5 338.9,323.2 339.9,319.3 340.9,315.2 341.9,311.6 342.9,308.2 343.9,305.4 344.9,302.2 345.9,300.8 346.9,299.1 347.9,299.0 348.9,299.3 349.9,300.4 350.9,302.4 351.9,305.1 352.9,308.2 353.9,311.7 354.9,315.7 355.9,319.1 356.9,323.0 357.9,326.4 358.9,329.3 359.9,332.8 360.9,335.7 361.9,338.4 362.9,340.3 363.9,342.8 364.9,344.1 365.9,345.7 366.9,347.2 367.9,348.2 368.9,348.7 369.9,349.3 370.9,350.0 371.9,350.4 372.9,351.5 373.9,350.7 374.9,350.7 375.9,351.7 376.9,350.4 377.9,350.5 378.9,350.5 379.9,349.9 380.9,349.5 381.9,349.2 382.9,348.6 383.9,347.0 384.9,346.0 385.9,344.5 386.9,343.1 387.9,341.5 388.9,340.0 389.9,337.9 390.9,336.0 391.9,333.6 392.9,331.2 393.9,329.0 394.9,326.7 395.9,324.2 396.9,321.9 397.9,320.1 398.9,317.6 399.9,316.5 400.9,314.8 401.9,314.0 402.9,314.0 403.9,314.0 404.9,313.7 405.9,315.3 406.9,316.9 407.9,317.9 408.9,319.9 409.9,322.4 410.9,323.6 411.9,326.6 412.9,327.6 413.9,329.6 414.9,331.4 415.9,332.9 416.9,334.5 417.9,335.3 418.9,335.9 419.9,336.3 420.9,335.8 421.9,335.7 422.9,335.5 423.9,333.8 424.9,333.1 425.9,330.8 426.9,328.3 427.9,326.2 428.9,323.3 429.9,319.5 430.9,315.9 431.9,311.9 432.9,307.8 433.9,303.0 434.9,299.0 435.9,295.1 436.9,290.1 437.9,286.0 438.9,282.1 439.9,278.3 440.9,275.1 441.9,272.6 442.9,271.0 443.9,270.6 444.9,270.5 445.9,271.9 446.9,274.2 447.9,276.5 448.9,279.3 449.9,283.7 450.9,287.8 451.9,292.2 452.9,296.8 453.9,301.6 454.9,307.3 455.9,311.9 456.9,315.8 457.9,319.2 458.9,323.4 459.9,327.3 460.9,330.2 461.9,333.6 462.9,336.5 463.9,339.1 464.9,341.0 465.9,342.9 466.9,344.5 467.9,345.9 468.9,347.4 469.9,348.4 470.9,349.6 471.9,350.3 472.9,350.9 473.9,352.0 474.9,352.0 475.9,352.8 476.9,353.1 477.9,353.1 478.9,353.6 479.9,354.0 480.9,354.0 481.9,353.9 482.9,355.3 483.9,354.5 484.9,354.8 485.9,354.9 486.9,355.1 487.9,355.5 488.9,355.6 489.9,355.3 490.9,355.7 491.9,355.9 492.9,355.7 493.9,356.2 494.9,356.1 495.9,356.3 496.9,355.8 497.9,356.7 498.9,356.2 499.9,356.0 500.9,356.1 501.9,356.2 502.9,356.6 503.9,355.9 504.9,356.3 505.9,357.0 506.9,357.1 507.9,356.5 508.9,356.9 509.9,356.9 510.9,356.8 511.9,356.8 512.9,357.2 513.9,357.0 514.9,357.1 515.9,357.3 516.9,356.8 517.9,356.9 518.9,357.9 519.9,356.9 520.9,357.6 521.9,357.6 522.9,357.3 523.9,357.2 524.9,357.3 525.9,357.1 526.9,357.4 527.9,357.3 528.9,357.3 529.9,357.3 530.9,357.7 531.9,357.5 532.9,357.4 533.9,358.1 534.9,357.5 535.9,357.7 536.9,357.3 537.9,357.3 538.9,357.7 539.9,357.9 540.9,356.7 541.9,357.8 542.9,357.9 543.9,357.7 544.9,357.9 545.9,357.4 546.9,357.8 547.9,357.4 548.9,357.6 549.9,357.6 550.9,357.8 551.9,357.3 552.9,357.8 553.9,357.9 554.9,358.1 555.9,357.6 556.9,357.9 557.9,357.6 558.9,357.9 559.9,357.6 560.9,357.5 561.9,357.6 562.9,358.3 563.9,358.3 564.9,357.9 565.9,357.9 566.9,358.0 567.9,357.4 568.9,358.4 569.9,357.6 570.9,357.5 571.9,357.8 572.9,357.6 573.9,358.0 574.9,358.1 575.9,357.8 576.9,357.9 577.9,357.7 578.9,357.4 579.9,357.5 580.9,358.5 581.9,357.9 582.9,357.4 583.9,357.6 584.9,357.7 585.9,358.2 586.9,358.0 587.9,358.4 588.9,358.5 589.9,358.1 590.9,358.1 591.9,358.3 592.9,357.8 593.9,357.9 594.9,357.5 595.9,358.2 596.9,357.7 597.9,358.1 598.9,358.7 599.9,357.6 600.9,357.8 601.9,357.7 602.9,357.6 603.9,358.2 604.9,357.5 605.9,358.1 606.9,358.0 607.9,358.3 608.9,357.4 609.9,357.6 610.9,358.3 611.9,357.4 612.9,358.0 613.9,358.3 614.9,357.5 615.9,357.6 616.9,358.2 617.9,357.6 618.9,358.2 619.9,358.3 620.9,358.0 621.9,357.9 622.9,357.9 623.9,357.7 624.9,358.2 625.9,358.1 626.9,357.9 627.9,358.0 628.9,357.5 629.9,357.6 630.9,357.3 631.9,357.7 632.9,358.2 633.9,358.0 634.9,357.7 635.9,357.8 636.9,357.8 637.9,358.2 638.9,357.5 639.9,358.2 640.9,358.0 641.9,357.4 642.9,358.0 643.9,358.0 644.9,357.7 645.9,358.3 646.9,357.5 647.9,357.6 648.9,357.8 649.9,357.9 650.9,357.6 651.9,357.9 652.9,357.5 653.9,357.8 654.9,357.5 655.9,357.5 656.9,357.2 657.9,357.4 658.9,356.9 659.9,356.9 660.9,357.1 661.9,357.3 662.9,356.7 663.9,356.9 664.9,357.3 665.9,356.6 666.9,356.3 667.9,355.8 668.9,354.9 669.9,355.0 670.9,354.7 671.9,353.8 672.9,353.7 673.9,352.8 674.9,352.6 675.9,351.7 676.9,351.0 677.9,350.2 678.9,349.3 679.9,349.0 680.9,347.4 681.9,346.8 682.9,346.4 683.9,345.9 684.9,345.1 685.9,345.5 686.9,345.1 687.9,345.4 688.9,345.3 689.9,345.8 690.9,346.6 691.9,347.0 692.9,347.7 693.9,348.7 694.9,349.6 695.9,350.1 696.9,351.1 697.9,351.5 698.9,352.6 699.9,352.8 700.9,353.8 701.9,353.9 702.9,354.8 703.9,355.5 704.9,355.6 705.9,355.4 706.9,356.6 707.9,356.3 708.9,356.0 709.9,357.4 710.9,356.8 711.9,357.3 712.9,357.3 713.9,357.9 714.9,357.9 715.9,356.9 716.9,357.6 717.9,357.2 718.9,357.6 719.9,357.6 720.9,357.6 721.9,357.3 722.9,357.9 723.9,358.0 724.9,358.0 725.9,358.3 726.9,357.8 727.9,357.6 728.9,357.9 729.9,357.1 730.9,357.8 731.9,357.5 732.9,357.5 733.9,357.5 734.9,357.5 735.9,358.0 736.9,357.4 737.9,357.6 738.9,357.9 739.9,357.8 740.9,358.3 741.9,358.0 742.9,358.5 743.9,358.2 744.9,357.6 745.9,357.9 746.9,358.4 747.9,357.6 748.9,357.7 749.9,357.4 750.9,358.0 751.9,358.3 752.9,358.3 753.9,357.9 754.9,357.6 755.9,358.1 756.9,358.0 757.9,358.2 758.9,358.1 759.9,358.4 760.9,357.8 761.9,358.0 762.9,358.0 763.9,357.9 764.9,358.2 765.9,357.5 766.9,357.6 767.9,357.3 768.9,358.0 769.9,358.3 770.9,358.2 771.9,358.5 772.9,358.1 773.9,357.8 774.9,358.1 775.9,358.1 776.9,358.1 777.9,358.4 778.9,357.8 779.9,357.8 780.9,358.0 781.9,358.4 782.9,357.8 783.9,358.4 784.9,358.4 785.9,357.9 786.9,357.9 787.9,358.0 788.9,357.6 789.9,358.5 790.9,358.1 791.9,358.4 792.9,357.8 793.9,358.1 794.9,358.0 795.9,358.5 796.9,357.7 797.9,358.4 798.9,358.0 799.9,358.0 800.9,357.5 801.9,357.9 802.9,357.9 803.9,358.2 804.9,357.8 805.9,357.8 806.9,358.2 807.9,358.0 808.9,357.8 809.9,358.0 810.9,358.1 811.9,357.9 812.9,357.9 813.9,358.4 814.9,357.9 815.9,357.2 816.9,358.1 817.9,358.3 818.9,358.2 819.9,358.1 820.9,357.2 821.9,357.5 822.9,357.8 823.9,357.8 824.9,357.8 825.9,357.4 826.9,357.5 827.9,357.6 828.9,358.0 829.9,358.3 830.9,357.2 831.9,357.6 832.9,357.3 833.9,357.9 834.9,357.6 835.9,357.6 836.9,357.5 837.9,357.3 838.9,357.2 839.9,357.3 840.9,357.6 841.9,357.9 842.9,357.6 843.9,357.1 844.9,357.6 845.9,357.2 846.9,357.0 847.9,356.9 848.9,356.5 849.9,356.3 850.9,356.4 851.9,356.4 852.9,356.3 853.9,355.7 854.9,355.8 855.9,355.0 856.9,355.6 857.9,354.7 858.9,354.1 859.9,354.1 860.9,353.3 861.9,352.4 862.9,352.4 863.9,350.8 864.9,350.3 865.9,348.9 866.9,348.2 867.9,347.0 868.9,345.2 869.9,343.8 870.9,343.0 871.9,341.2 872.9,339.9 873.9,338.2 874.9,337.0 875.9,335.5 876.9,333.9 877.9,333.4 878.9,332.1 879.9,331.5 880.9,331.2 881.9,331.5 882.9,331.2 883.9,332.0 884.9,332.8 885.9,333.8 886.9,334.8 887.9,335.7 888.9,337.7 889.9,339.7 890.9,340.9 891.9,342.3 892.9,343.8 893.9,345.5 894.9,346.5 895.9,347.7 896.9,349.1 897.9,350.3 898.9,351.1 899.9,351.9 900.9,352.1 901.9,352.8 902.9,353.8 903.9,354.2 904.9,354.6 905.9,355.2 906.9,355.7 907.9,356.6 908.9,355.7 909.9,356.3 910.9,357.1 911.9,356.3 912.9,356.8 913.9,356.5 914.9,357.2 915.9,356.7 916.9,357.2 917.9,357.3 918.9,357.0 919.9,356.8 920.9,357.0 921.9,357.3 922.9,357.5 923.9,357.6 924.9,357.1 925.9,357.8 926.9,357.6 927.9,357.5 928.9,357.3 929.9,357.2 930.9,356.9 931.9,357.4 932.9,357.6 933.9,358.0 934.9,357.8 935.9,357.3 936.9,357.8 937.9,357.3 938.9,358.3 939.9,358.4 940.9,357.8 941.9,357.5 942.9,358.1 943.9,357.9 944.9,357.9 945.9,357.8 946.9,357.5 947.9,357.9 948.9,358.1 949.9,357.8 950.9,357.7 951.9,357.7 952.9,358.0 953.9,358.1 954.9,357.7 955.9,357.4 956.9,357.9 957.9,357.7 958.9,357.8 959.9,358.3 960.9,358.1 961.9,357.2 962.9,357.5 963.9,357.7 964.9,357.2 965.9,357.1 966.9,357.6 967.9,357.5 968.9,357.6 969.9,357.7 970.9,357.4 971.9,357.5 972.9,357.5 973.9,357.8 974.9,356.9 975.9,357.6 976.9,356.9 977.9,357.0 978.9,357.5 979.9,357.4 980.9,357.4 981.9,357.2 982.9,357.2 983.9,356.9 984.9,357.1 985.9,357.3 986.9,356.2 987.9,356.6 988.9,356.3 989.9,355.9 990.9,356.1 991.9,355.9 992.9,354.8 993.9,354.7 994.9,355.0 995.9,354.6 996.9,354.6 997.9,353.6 998.9,353.5 999.9,352.4 1000.9,351.6 1001.9,351.3 1002.9,350.3 1003.9,349.6 1004.9,348.1 1005.9,348.1 1006.9,347.1 1007.9,346.4 1008.9,345.6 1009.9,345.2 1010.9,344.0 1011.9,343.3 1012.9,343.1 1013.9,342.8 1014.9,342.3 1015.9,342.0 1016.9,342.0 1017.9,342.2 1018.9,342.6 1019.9,343.6 1020.9,343.8 1021.9,344.8 1022.9,345.2 1023.9,346.5 1024.9,347.1 1025.9,348.4 1026.9,349.0 1027.9,349.7 1028.9,350.2 1029.9,351.0 1030.9,351.7 1031.9,352.4 1032.9,352.9 1033.9,353.8 1034.9,354.3 1035.9,354.5 1036.9,355.5 1037.9,355.3 1038.9,355.2 1039.9,355.8 1040.9,356.2 1041.9,356.2 1042.9,356.6 1043.9,356.4 1044.9,356.7 1045.9,356.8 1046.9,357.1 1047.9,356.9 1048.9,356.9 1049.9,357.1 1050.9,357.3 1051.9,357.2 1052.9,357.2 1053.9,356.9 1054.9,357.8 1055.9,357.0 1056.9,358.1 1057.9,357.3 1058.9,357.8 1059.9,357.3 1060.9,357.5 1061.9,357.4 1062.9,357.3 1063.9,357.0 1064.9,357.2 1065.9,356.9 1066.9,357.7 1067.9,357.0 1068.9,357.8 1069.9,357.1 1070.9,356.6 1071.9,357.7 1072.9,357.3 1073.9,356.8 1074.9,356.7 1075.9,356.6 1076.9,357.0 1077.9,356.1 1078.9,356.3 1079.9,356.6 1080.9,356.7 1081.9,355.8 1082.9,355.7 1083.9,355.5 1084.9,355.9 1085.9,355.2 1086.9,355.2 1087.9,355.3 1088.9,355.3 1089.9,355.2 1090.9,354.7 1091.9,354.9 1092.9,354.9 1093.9,355.0 1094.9,355.2 1095.9,355.1 1096.9,354.5 1097.9,354.8 1098.9,354.4 1099.9,355.1 1100.9,354.5 1101.9,354.4 1102.9,354.4 1103.9,353.9 1104.9,354.1 1105.9,353.8 1106.9,353.3 1107.9,352.8 1108.9,351.4 1109.9,351.7 1110.9,351.4 1111.9,350.7 1112.9,348.9 1113.9,349.4 1114.9,348.7 1115.9,347.4 1116.9,346.6 1117.9,346.1 1118.9,345.0 1119.9,344.2 1120.9,343.4 1121.9,343.6 1122.9,342.8 1123.9,342.2 1124.9,341.8 1125.9,342.2 1126.9,341.9 1127.9,342.1 1128.9,342.5 1129.9,342.8 1130.9,343.5 1131.9,344.2 1132.9,344.0 1133.9,344.6 1134.9,345.6 1135.9,345.7 1136.9,346.4 1137.9,347.3 1138.9,347.4 1139.9,347.9 1140.9,348.2 1141.9,348.4 1142.9,348.4 1143.9,348.9 1144.9,348.4 1145.9,348.5 1146.9,349.0 1147.9,348.8 1148.9,349.2 1149.9,349.2 1150.9,349.9 1151.9,350.1 1152.9,350.6 1153.9,350.4 1154.9,350.4 1155.9,351.7 1156.9,352.3 1157.9,352.0 1158.9,352.3 1159.9,352.6 1160.9,353.8 1161.9,353.5 1162.9,354.3 1163.9,354.7 1164.9,354.8 1165.9,355.2 1166.9,355.4 1167.9,356.1 1168.9,356.5 1169.9,356.7 1170.9,356.0 1171.9,356.3 1172.9,356.6 1173.9,357.0 1174.9,357.2 1175.9,356.5 1176.9,357.3 1177.9,357.6 1178.9,357.4 1179.9,357.4 1180.9,356.9 1181.9,358.0 1182.9,357.7 1183.9,357.5 1184.9,357.5 1185.9,357.9 1186.9,358.1 1187.9,357.6 1188.9,357.3 1189.9,357.9 1190.9,357.5 1191.9,357.7 1192.9,357.7 1193.9,357.5 1194.9,358.2 1195.9,357.4 1196.9,358.2 1197.9,357.5 1198.9,357.7 1199.9,357.8 1200.9,357.9 1201.9,357.5 1202.9,358.3 1203.9,357.7 1204.9,358.2 1205.9,358.0 1206.9,357.7 1207.9,357.4 1208.9,357.7 1209.9,357.7 1210.9,357.3 1211.9,357.4 1212.9,357.6 1213.9,357.7 1214.9,357.2 1215.9,357.2 1216.9,356.9 1217.9,356.7 1218.9,357.3 1219.9,357.1 1220.9,356.9 1221.9,357.3 1222.9,357.2 1223.9,356.4 1224.9,356.2 1225.9,356.9 1226.9,356.8 1227.9,357.3 1228.9,356.7 1229.9,357.3 1230.9,357.3 1231.9,356.9 1232.9,357.9 1233.9,357.1 1234.9,357.5 1235.9,357.4 1236.9,357.4 1237.9,357.3 1238.9,357.5 1239.9,357.9 1240.9,357.3 1241.9,357.8 1242.9,357.9 1243.9,357.9 1244.9,358.0 1245.9,358.6 1246.9,358.0 1247.9,358.0 1248.9,357.9 1249.9,358.5 1250.9,358.5 1251.9,357.8 1252.9,357.8 1253.9,357.8 1254.9,358.4 1255.9,358.2 1256.9,358.4 1257.9,357.9 1258.9,358.2 1259.9,358.2 1260.9,358.5 1261.9,358.0 1262.9,357.4 1263.9,358.1 1264.9,358.5 1265.9,358.8 1266.9,357.6 1267.9,358.4 1268.9,358.5 1269.9,358.3 1270.9,358.1 1271.9,358.4 1272.9,358.2" stroke="#5fd8d8" stroke-width="3.9"/>
<path d="M94.9,358.9 95.9,358.1 96.9,358.0 97.9,358.2 98.9,358.0 99.9,358.8 100.9,358.6 101.9,358.5 102.9,358.7 103.9,358.1 104.9,357.9 105.9,358.4 106.9,358.4 107.9,358.1 108.9,358.5 109.9,358.7 110.9,358.1 111.9,358.4 112.9,358.4 113.9,358.5 114.9,358.6 115.9,358.5 116.9,358.7 117.9,358.1 118.9,358.2 119.9,358.5 120.9,358.2 121.9,358.1 122.9,358.3 123.9,358.4 124.9,358.1 125.9,358.5 126.9,358.7 127.9,357.8 128.9,357.6 129.9,358.5 130.9,358.1 131.9,358.7 132.9,359.2 133.9,358.2 134.9,358.2 135.9,358.3 136.9,358.4 137.9,358.3 138.9,358.0 139.9,358.4 140.9,357.7 141.9,358.4 142.9,358.3 143.9,358.7 144.9,358.3 145.9,358.4 146.9,358.0 147.9,358.3 148.9,358.5 149.9,358.6 150.9,358.3 151.9,358.8 152.9,358.7 153.9,358.1 154.9,357.5 155.9,357.9 156.9,358.3 157.9,358.3 158.9,358.2 159.9,358.1 160.9,358.5 161.9,358.1 162.9,357.6 163.9,358.2 164.9,358.6 165.9,358.0 166.9,358.5 167.9,358.4 168.9,358.3 169.9,358.4 170.9,358.0 171.9,358.3 172.9,358.7 173.9,358.2 174.9,357.9 175.9,358.7 176.9,357.8 177.9,358.7 178.9,358.3 179.9,358.4 180.9,358.3 181.9,358.2 182.9,358.6 183.9,358.2 184.9,358.0 185.9,358.2 186.9,357.7 187.9,358.2 188.9,357.7 189.9,358.2 190.9,358.4 191.9,358.4 192.9,358.2 193.9,357.4 194.9,358.1 195.9,358.6 196.9,358.0 197.9,358.4 198.9,358.0 199.9,358.7 200.9,357.6 201.9,358.1 202.9,358.1 203.9,358.4 204.9,358.2 205.9,358.2 206.9,357.5 207.9,358.8 208.9,358.2 209.9,358.0 210.9,358.6 211.9,357.8 212.9,358.3 213.9,358.5 214.9,358.4 215.9,358.2 216.9,358.1 217.9,357.9 218.9,358.3 219.9,357.8 220.9,358.5 221.9,358.4 222.9,358.2 223.9,357.6 224.9,358.3 225.9,358.3 226.9,357.8 227.9,358.0 228.9,358.2 229.9,358.3 230.9,358.0 231.9,357.9 232.9,358.0 233.9,357.8 234.9,358.6 235.9,358.7 236.9,357.5 237.9,358.0 238.9,358.6 239.9,358.5 240.9,358.7 241.9,358.5 242.9,358.2 243.9,358.2 244.9,358.5 245.9,358.2 246.9,357.6 247.9,358.1 248.9,357.5 249.9,358.3 250.9,358.1 251.9,358.0 252.9,358.1 253.9,357.5 254.9,357.9 255.9,357.8 256.9,358.0 257.9,357.9 258.9,358.0 259.9,358.0 260.9,357.5 261.9,357.6 262.9,358.3 263.9,357.7 264.9,357.9 265.9,358.2 266.9,357.8 267.9,358.6 268.9,357.6 269.9,357.7 270.9,357.3 271.9,358.1 272.9,357.7 273.9,358.0 274.9,358.0 275.9,358.5 276.9,358.0 277.9,357.7 278.9,357.6 279.9,358.0 280.9,357.2 281.9,357.6 282.9,357.3 283.9,357.4 284.9,358.0 285.9,357.4 286.9,357.5 287.9,357.9 288.9,357.1 289.9,357.6 290.9,357.2 291.9,357.6 292.9,357.4 293.9,357.8 294.9,357.4 295.9,357.6 296.9,357.8 297.9,357.4 298.9,357.7 299.9,357.5 300.9,357.6 301.9,357.0 302.9,357.3 303.9,357.2 304.9,357.3 305.9,357.4 306.9,357.3 307.9,357.2 308.9,356.7 309.9,356.7 310.9,356.9 311.9,356.4 312.9,356.5 313.9,356.5 314.9,356.6 315.9,356.5 316.9,355.9 317.9,356.3 318.9,355.4 319.9,355.6 320.9,355.9 321.9,355.4 322.9,355.3 323.9,355.7 324.9,354.5 325.9,354.1 326.9,353.0 327.9,353.1 328.9,352.7 329.9,351.4 330.9,350.2 331.9,349.7 332.9,347.3 333.9,345.4 334.9,343.2 335.9,340.4 336.9,338.1 337.9,335.2 338.9,331.9 339.9,328.3 340.9,324.2 341.9,320.6 342.9,318.1 343.9,313.6 344.9,310.8 345.9,309.0 346.9,307.1 347.9,306.7 348.9,307.1 349.9,308.5 350.9,311.0 351.9,314.0 352.9,317.0 353.9,320.7 354.9,323.9 355.9,326.8 356.9,330.8 357.9,333.8 358.9,337.3 359.9,340.1 360.9,342.2 361.9,344.5 362.9,346.5 363.9,348.2 364.9,348.9 365.9,350.4 366.9,350.9 367.9,351.9 368.9,351.4 369.9,352.5 370.9,353.0 371.9,352.7 372.9,352.5 373.9,353.0 374.9,353.3 375.9,353.4 376.9,353.4 377.9,353.1 378.9,352.4 379.9,352.2 380.9,352.3 381.9,352.0 382.9,351.2 383.9,351.0 384.9,349.4 385.9,348.5 386.9,347.4 387.9,345.9 388.9,344.0 389.9,342.3 390.9,340.8 391.9,338.8 392.9,336.9 393.9,334.0 394.9,330.7 395.9,328.6 396.9,326.0 397.9,323.9 398.9,322.1 399.9,320.2 400.9,318.7 401.9,317.2 402.9,317.0 403.9,317.3 404.9,318.6 405.9,319.6 406.9,320.7 407.9,323.0 408.9,324.9 409.9,327.0 410.9,329.3 411.9,331.2 412.9,334.4 413.9,335.9 414.9,337.4 415.9,339.2 416.9,340.6 417.9,341.8 418.9,342.5 419.9,343.7 420.9,342.9 421.9,343.6 422.9,342.9 423.9,342.5 424.9,340.9 425.9,339.3 426.9,337.8 427.9,336.2 428.9,332.7 429.9,330.3 430.9,327.2 431.9,323.3 432.9,319.2 433.9,315.6 434.9,310.6 435.9,306.3 436.9,301.5 437.9,297.1 438.9,292.5 439.9,288.5 440.9,285.8 441.9,282.7 442.9,281.1 443.9,279.7 444.9,280.5 445.9,281.8 446.9,283.6 447.9,286.0 448.9,290.3 449.9,293.7 450.9,298.8 451.9,303.6 452.9,307.6 453.9,312.4 454.9,316.8 455.9,321.2 456.9,325.1 457.9,328.8 458.9,332.2 459.9,336.0 460.9,338.7 461.9,341.4 462.9,343.1 463.9,345.5 464.9,346.4 465.9,348.1 466.9,349.2 467.9,350.0 468.9,350.9 469.9,351.5 470.9,352.5 471.9,352.8 472.9,353.5 473.9,353.9 474.9,354.0 475.9,354.2 476.9,354.5 477.9,355.1 478.9,355.1 479.9,355.1 480.9,355.3 481.9,356.0 482.9,355.5 483.9,355.7 484.9,356.1 485.9,355.8 486.9,355.6 487.9,355.9 488.9,356.1 489.9,356.3 490.9,356.3 491.9,356.2 492.9,356.6 493.9,356.8 494.9,356.3 495.9,357.4 496.9,356.5 497.9,357.3 498.9,357.3 499.9,357.3 500.9,357.3 501.9,356.7 502.9,356.9 503.9,357.3 504.9,356.9 505.9,357.4 506.9,356.9 507.9,356.9 508.9,357.3 509.9,357.1 510.9,357.4 511.9,357.2 512.9,356.9 513.9,357.5 514.9,357.0 515.9,357.3 516.9,357.8 517.9,357.9 518.9,357.3 519.9,357.4 520.9,357.6 521.9,357.8 522.9,358.0 523.9,357.5 524.9,357.4 525.9,357.4 526.9,357.5 527.9,357.9 528.9,357.1 529.9,357.2 530.9,357.0 531.9,357.7 532.9,358.0 533.9,357.6 534.9,357.4 535.9,357.7 536.9,357.8 537.9,358.0 538.9,357.8 539.9,357.5 540.9,357.9 541.9,358.3 542.9,357.6 543.9,357.9 544.9,357.9 545.9,357.8 546.9,357.1 547.9,358.1 548.9,357.6 549.9,357.8 550.9,357.3 551.9,357.5 552.9,357.4 553.9,357.8 554.9,358.1 555.9,357.9 556.9,358.0 557.9,358.0 558.9,358.2 559.9,358.0 560.9,358.1 561.9,357.7 562.9,358.1 563.9,357.7 564.9,358.0 565.9,357.2 566.9,357.8 567.9,358.1 568.9,357.9 569.9,357.6 570.9,358.2 571.9,357.6 572.9,357.9 573.9,357.9 574.9,357.9 575.9,358.3 576.9,357.7 577.9,358.4 578.9,358.4 579.9,358.1 580.9,358.2 581.9,357.8 582.9,357.8 583.9,358.2 584.9,358.1 585.9,358.4 586.9,358.0 587.9,358.2 588.9,357.7 589.9,358.3 590.9,358.3 591.9,358.3 592.9,357.8 593.9,357.7 594.9,358.0 595.9,358.1 596.9,358.4 597.9,358.3 598.9,358.1 599.9,357.3 600.9,358.7 601.9,358.5 602.9,358.2 603.9,358.3 604.9,358.1 605.9,358.1 606.9,358.1 607.9,357.9 608.9,358.6 609.9,357.7 610.9,358.2 611.9,357.5 612.9,358.2 613.9,358.2 614.9,357.7 615.9,358.6 616.9,358.1 617.9,358.5 618.9,358.3 619.9,357.7 620.9,357.8 621.9,358.4 622.9,357.5 623.9,358.7 624.9,358.3 625.9,358.0 626.9,357.9 627.9,358.4 628.9,357.5 629.9,358.2 630.9,357.4 631.9,358.2 632.9,358.2 633.9,357.9 634.9,357.8 635.9,357.8 636.9,358.1 637.9,358.0 638.9,357.8 639.9,358.0 640.9,358.0 641.9,358.3 642.9,357.7 643.9,357.9 644.9,357.4 645.9,358.1 646.9,357.5 647.9,357.8 648.9,358.0 649.9,357.8 650.9,357.5 651.9,357.4 652.9,358.0 653.9,357.9 654.9,357.4 655.9,358.2 656.9,357.4 657.9,357.5 658.9,357.6 659.9,357.5 660.9,357.3 661.9,356.9 662.9,357.2 663.9,356.6 664.9,356.4 665.9,356.1 666.9,356.0 667.9,355.9 668.9,355.6 669.9,355.0 670.9,354.9 671.9,354.4 672.9,353.8 673.9,353.0 674.9,351.7 675.9,351.9 676.9,350.7 677.9,350.0 678.9,349.4 679.9,348.7 680.9,347.7 681.9,347.2 682.9,346.4 683.9,345.5 684.9,345.3 685.9,344.9 686.9,344.6 687.9,345.3 688.9,345.7 689.9,345.9 690.9,346.1 691.9,347.0 692.9,348.0 693.9,348.2 694.9,349.2 695.9,350.1 696.9,350.6 697.9,351.6 698.9,351.9 699.9,352.8 700.9,354.0 701.9,355.2 702.9,354.7 703.9,355.5 704.9,355.3 705.9,355.9 706.9,356.2 707.9,356.4 708.9,356.9 709.9,357.1 710.9,357.0 711.9,356.9 712.9,357.1 713.9,357.3 714.9,357.3 715.9,357.5 716.9,357.6 717.9,357.7 718.9,357.6 719.9,357.9 720.9,358.2 721.9,357.6 722.9,358.0 723.9,357.6 724.9,357.8 725.9,357.3 726.9,357.9 727.9,357.5 728.9,357.4 729.9,357.8 730.9,358.5 731.9,357.7 732.9,357.6 733.9,358.1 734.9,358.2 735.9,357.4 736.9,358.4 737.9,357.7 738.9,357.4 739.9,358.0 740.9,358.1 741.9,357.9 742.9,358.0 743.9,358.5 744.9,357.9 745.9,358.1 746.9,358.3 747.9,357.9 748.9,357.8 749.9,357.8 750.9,357.9 751.9,357.8 752.9,358.0 753.9,357.6 754.9,358.4 755.9,358.3 756.9,357.7 757.9,358.1 758.9,358.0 759.9,358.3 760.9,358.1 761.9,358.0 762.9,358.4 763.9,357.9 764.9,358.1 765.9,358.5 766.9,357.7 767.9,357.9 768.9,358.0 769.9,358.8 770.9,358.3 771.9,358.5 772.9,358.1 773.9,357.9 774.9,358.3 775.9,358.4 776.9,358.0 777.9,358.2 778.9,358.5 779.9,358.2 780.9,358.0 781.9,357.6 782.9,358.3 783.9,358.2 784.9,357.9 785.9,358.0 786.9,357.6 787.9,358.3 788.9,358.1 789.9,357.8 790.9,358.4 791.9,358.2 792.9,358.0 793.9,358.7 794.9,358.5 795.9,358.3 796.9,357.6 797.9,357.9 798.9,357.9 799.9,357.8 800.9,358.0 801.9,358.1 802.9,358.1 803.9,358.2 804.9,357.6 805.9,358.1 806.9,357.8 807.9,358.0 808.9,358.5 809.9,358.3 810.9,357.9 811.9,358.0 812.9,358.4 813.9,358.5 814.9,358.1 815.9,358.2 816.9,358.0 817.9,358.1 818.9,357.8 819.9,358.1 820.9,357.9 821.9,357.7 822.9,357.4 823.9,357.7 824.9,357.8 825.9,357.8 826.9,358.2 827.9,357.6 828.9,357.8 829.9,357.5 830.9,358.1 831.9,358.3 832.9,358.0 833.9,357.6 834.9,357.5 835.9,357.4 836.9,357.3 837.9,357.6 838.9,357.2 839.9,357.5 840.9,357.3 841.9,357.7 842.9,357.2 843.9,357.4 844.9,357.4 845.9,356.7 846.9,356.5 847.9,356.7 848.9,356.9 849.9,356.5 850.9,357.0 851.9,356.2 852.9,356.3 853.9,356.2 854.9,355.5 855.9,355.3 856.9,355.0 857.9,355.5 858.9,354.6 859.9,353.6 860.9,353.4 861.9,353.0 862.9,351.4 863.9,351.6 864.9,349.9 865.9,349.2 866.9,347.7 867.9,346.7 868.9,345.1 869.9,343.5 870.9,342.5 871.9,341.3 872.9,339.6 873.9,338.7 874.9,336.7 875.9,335.4 876.9,334.4 877.9,333.2 878.9,331.9 879.9,331.5 880.9,330.9 881.9,331.3 882.9,331.2 883.9,331.7 884.9,333.0 885.9,333.7 886.9,335.4 887.9,336.3 888.9,338.2 889.9,339.5 890.9,340.5 891.9,342.1 892.9,344.0 893.9,345.2 894.9,346.9 895.9,348.4 896.9,349.0 897.9,349.5 898.9,351.1 899.9,352.1 900.9,352.7 901.9,353.4 902.9,353.9 903.9,354.1 904.9,354.9 905.9,355.1 906.9,355.5 907.9,355.7 908.9,356.2 909.9,355.9 910.9,356.7 911.9,357.2 912.9,356.2 913.9,356.5 914.9,357.2 915.9,356.7 916.9,357.0 917.9,357.1 918.9,357.2 919.9,356.2 920.9,356.9 921.9,357.3 922.9,357.9 923.9,357.7 924.9,357.8 925.9,356.9 926.9,357.4 927.9,357.4 928.9,358.0 929.9,357.6 930.9,357.7 931.9,357.6 932.9,357.7 933.9,357.2 934.9,357.7 935.9,357.5 936.9,357.8 937.9,358.1 938.9,357.6 939.9,357.3 940.9,357.9 941.9,357.4 942.9,357.2 943.9,358.2 944.9,358.3 945.9,357.4 946.9,357.7 947.9,358.5 948.9,357.3 949.9,357.5 950.9,357.9 951.9,356.9 952.9,357.5 953.9,358.1 954.9,358.0 955.9,357.6 956.9,357.7 957.9,358.0 958.9,357.9 959.9,358.1 960.9,358.3 961.9,357.7 962.9,358.3 963.9,358.0 964.9,357.6 965.9,357.9 966.9,357.5 967.9,357.9 968.9,357.8 969.9,357.7 970.9,358.1 971.9,357.3 972.9,357.8 973.9,357.5 974.9,357.7 975.9,357.8 976.9,358.0 977.9,357.6 978.9,357.8 979.9,357.7 980.9,357.7 981.9,357.5 982.9,357.0 983.9,357.7 984.9,357.3 985.9,357.3 986.9,356.8 987.9,356.7 988.9,356.7 989.9,356.3 990.9,356.4 991.9,356.3 992.9,355.9 993.9,355.8 994.9,354.6 995.9,354.4 996.9,354.2 997.9,354.0 998.9,353.6 999.9,352.7 1000.9,352.6 1001.9,350.9 1002.9,350.7 1003.9,349.6 1004.9,348.5 1005.9,348.0 1006.9,347.0 1007.9,345.8 1008.9,345.4 1009.9,344.7 1010.9,343.9 1011.9,343.8 1012.9,342.5 1013.9,342.8 1014.9,342.2 1015.9,341.7 1016.9,342.1 1017.9,342.5 1018.9,343.0 1019.9,342.9 1020.9,344.0 1021.9,344.8 1022.9,345.8 1023.9,346.4 1024.9,346.9 1025.9,348.2 1026.9,349.2 1027.9,349.6 1028.9,350.1 1029.9,351.3 1030.9,351.9 1031.9,352.7 1032.9,352.9 1033.9,353.6 1034.9,354.6 1035.9,354.8 1036.9,354.6 1037.9,355.4 1038.9,355.1 1039.9,355.8 1040.9,356.0 1041.9,356.2 1042.9,356.7 1043.9,356.5 1044.9,356.3 1045.9,357.1 1046.9,357.9 1047.9,357.1 1048.9,357.4 1049.9,357.4 1050.9,356.9 1051.9,357.4 1052.9,357.3 1053.9,357.2 1054.9,357.6 1055.9,357.4 1056.9,356.8 1057.9,357.4 1058.9,356.6 1059.9,357.2 1060.9,357.2 1061.9,357.2 1062.9,356.9 1063.9,357.6 1064.9,357.8 1065.9,357.6 1066.9,357.6 1067.9,357.9 1068.9,356.9 1069.9,357.4 1070.9,356.8 1071.9,357.0 1072.9,356.9 1073.9,357.2 1074.9,356.7 1075.9,357.2 1076.9,356.6 1077.9,356.6 1078.9,356.3 1079.9,356.1 1080.9,356.0 1081.9,355.9 1082.9,356.1 1083.9,355.9 1084.9,355.3 1085.9,355.6 1086.9,355.2 1087.9,355.1 1088.9,355.3 1089.9,355.0 1090.9,355.2 1091.9,354.6 1092.9,354.6 1093.9,354.9 1094.9,354.6 1095.9,355.0 1096.9,354.4 1097.9,354.7 1098.9,354.6 1099.9,354.4 1100.9,354.8 1101.9,354.5 1102.9,354.0 1103.9,353.8 1104.9,354.2 1105.9,353.4 1106.9,353.0 1107.9,353.0 1108.9,353.0 1109.9,351.7 1110.9,351.4 1111.9,351.0 1112.9,349.7 1113.9,349.6 1114.9,348.4 1115.9,347.6 1116.9,347.0 1117.9,346.2 1118.9,345.3 1119.9,344.3 1120.9,343.7 1121.9,342.9 1122.9,342.5 1123.9,342.2 1124.9,342.0 1125.9,342.2 1126.9,342.0 1127.9,342.2 1128.9,342.5 1129.9,342.6 1130.9,343.7 1131.9,343.6 1132.9,344.9 1133.9,345.1 1134.9,345.8 1135.9,346.5 1136.9,346.6 1137.9,346.6 1138.9,347.0 1139.9,347.7 1140.9,347.9 1141.9,347.5 1142.9,348.4 1143.9,348.0 1144.9,348.5 1145.9,348.4 1146.9,349.0 1147.9,348.6 1148.9,349.7 1149.9,349.4 1150.9,350.6 1151.9,350.0 1152.9,350.3 1153.9,350.4 1154.9,350.4 1155.9,351.3 1156.9,351.9 1157.9,352.5 1158.9,352.3 1159.9,353.5 1160.9,353.6 1161.9,354.0 1162.9,354.4 1163.9,354.6 1164.9,355.3 1165.9,354.9 1166.9,355.4 1167.9,356.0 1168.9,356.2 1169.9,356.3 1170.9,356.6 1171.9,357.2 1172.9,356.8 1173.9,356.9 1174.9,357.3 1175.9,357.4 1176.9,357.1 1177.9,357.3 1178.9,357.6 1179.9,357.2 1180.9,357.9 1181.9,357.4 1182.9,357.5 1183.9,358.0 1184.9,358.1 1185.9,357.9 1186.9,357.4 1187.9,357.5 1188.9,357.5 1189.9,357.8 1190.9,358.0 1191.9,357.6 1192.9,358.0 1193.9,357.9 1194.9,357.8 1195.9,357.8 1196.9,357.2 1197.9,357.7 1198.9,358.0 1199.9,357.5 1200.9,357.3 1201.9,358.0 1202.9,357.5 1203.9,357.7 1204.9,357.4 1205.9,357.8 1206.9,357.8 1207.9,358.0 1208.9,357.4 1209.9,358.0 1210.9,356.8 1211.9,357.6 1212.9,357.4 1213.9,356.9 1214.9,357.5 1215.9,356.8 1216.9,357.2 1217.9,357.2 1218.9,357.3 1219.9,357.2 1220.9,356.3 1221.9,356.6 1222.9,357.0 1223.9,356.3 1224.9,357.2 1225.9,357.1 1226.9,357.3 1227.9,357.1 1228.9,357.6 1229.9,356.9 1230.9,357.4 1231.9,357.6 1232.9,357.0 1233.9,358.0 1234.9,357.7 1235.9,357.5 1236.9,357.4 1237.9,357.9 1238.9,357.9 1239.9,357.0 1240.9,357.9 1241.9,357.7 1242.9,357.8 1243.9,357.2 1244.9,358.1 1245.9,358.2 1246.9,358.2 1247.9,358.2 1248.9,357.8 1249.9,358.2 1250.9,357.9 1251.9,358.2 1252.9,358.3 1253.9,358.2 1254.9,358.6 1255.9,357.9 1256.9,357.7 1257.9,358.5 1258.9,358.0 1259.9,357.8 1260.9,358.4 1261.9,358.4 1262.9,357.8 1263.9,358.1 1264.9,358.5 1265.9,358.9 1266.9,358.1 1267.9,358.7 1268.9,358.4 1269.9,358.1 1270.9,357.7 1271.9,358.2 1272.9,358.2" stroke="#000" stroke-width="3.4"/>
<path d="M94.9,458.8 95.9,458.1 96.9,458.7 97.9,458.2 98.9,458.8 99.9,458.0 100.9,458.3 101.9,458.3 102.9,457.9 103.9,458.8 104.9,458.0 105.9,458.1 106.9,458.3 107.9,458.7 108.9,458.3 109.9,459.1 110.9,458.5 111.9,458.4 112.9,458.6 113.9,458.5 114.9,458.2 115.9,458.3 116.9,458.5 117.9,459.0 118.9,458.6 119.9,458.6 120.9,457.8 121.9,458.4 122.9,458.5 123.9,459.0 124.9,459.0 125.9,458.5 126.9,458.6 127.9,458.5 128.9,458.3 129.9,458.5 130.9,458.4 131.9,458.6 132.9,458.7 133.9,458.4 134.9,458.8 135.9,458.1 136.9,458.5 137.9,458.5 138.9,457.9 139.9,458.7 140.9,458.7 141.9,459.0 142.9,458.5 143.9,458.7 144.9,458.7 145.9,458.0 146.9,458.6 147.9,458.0 148.9,458.6 149.9,458.7 150.9,458.6 151.9,457.9 152.9,458.9 153.9,458.6 154.9,458.8 155.9,458.3 156.9,458.3 157.9,459.1 158.9,458.4 159.9,458.3 160.9,458.3 161.9,458.8 162.9,458.0 163.9,458.4 164.9,458.2 165.9,459.2 166.9,458.8 167.9,458.5 168.9,458.5 169.9,458.4 170.9,458.3 171.9,458.4 172.9,459.0 173.9,458.4 174.9,458.4 175.9,458.5 176.9,458.9 177.9,458.6 178.9,458.1 179.9,458.5 180.9,458.4 181.9,458.0 182.9,458.2 183.9,458.5 184.9,458.3 185.9,458.9 186.9,458.5 187.9,458.3 188.9,458.4 189.9,458.1 190.9,458.2 191.9,458.6 192.9,458.4 193.9,457.8 194.9,458.0 195.9,458.6 196.9,458.1 197.9,458.3 198.9,458.7 199.9,458.3 200.9,458.3 201.9,458.3 202.9,458.7 203.9,458.2 204.9,458.0 205.9,458.4 206.9,458.9 207.9,458.5 208.9,458.9 209.9,458.8 210.9,458.0 211.9,458.4 212.9,458.3 213.9,458.4 214.9,458.7 215.9,458.8 216.9,458.6 217.9,458.7 218.9,458.2 219.9,458.6 220.9,458.0 221.9,458.3 222.9,458.0 223.9,458.7 224.9,458.2 225.9,458.6 226.9,458.0 227.9,458.4 228.9,458.6 229.9,458.4 230.9,458.4 231.9,458.4 232.9,458.3 233.9,458.2 234.9,458.1 235.9,458.6 236.9,458.3 237.9,458.3 238.9,458.4 239.9,457.9 240.9,457.9 241.9,457.9 242.9,458.8 243.9,458.2 244.9,458.5 245.9,457.7 246.9,458.1 247.9,458.3 248.9,458.1 249.9,458.6 250.9,458.1 251.9,458.2 252.9,458.6 253.9,458.7 254.9,458.3 255.9,458.1 256.9,458.1 257.9,458.6 258.9,457.9 259.9,457.9 260.9,457.9 261.9,458.5 262.9,458.3 263.9,457.9 264.9,457.9 265.9,458.1 266.9,457.9 267.9,457.8 268.9,457.8 269.9,458.0 270.9,457.9 271.9,458.0 272.9,457.9 273.9,457.8 274.9,458.1 275.9,458.1 276.9,457.4 277.9,458.0 278.9,457.8 279.9,457.6 280.9,458.1 281.9,458.0 282.9,458.0 283.9,457.7 284.9,458.4 285.9,458.0 286.9,457.6 287.9,458.4 288.9,457.5 289.9,458.2 290.9,457.6 291.9,457.5 292.9,457.4 293.9,457.3 294.9,457.3 295.9,457.7 296.9,457.5 297.9,457.0 298.9,457.5 299.9,457.0 300.9,457.5 301.9,457.2 302.9,457.2 303.9,457.6 304.9,456.6 305.9,457.8 306.9,458.0 307.9,457.4 308.9,457.2 309.9,456.7 310.9,457.2 311.9,456.7 312.9,456.6 313.9,456.3 314.9,456.9 315.9,456.6 316.9,455.8 317.9,456.1 318.9,455.6 319.9,456.1 320.9,455.4 321.9,455.4 322.9,455.3 323.9,454.8 324.9,454.2 325.9,454.0 326.9,453.2 327.9,453.5 328.9,452.6 329.9,451.0 330.9,450.2 331.9,450.0 332.9,448.1 333.9,446.2 334.9,444.7 335.9,442.4 336.9,440.2 337.9,437.2 338.9,435.0 339.9,431.7 340.9,428.1 341.9,425.4 342.9,422.4 343.9,419.9 344.9,417.7 345.9,416.0 346.9,414.8 347.9,415.1 348.9,415.7 349.9,418.0 350.9,419.3 351.9,422.2 352.9,425.1 353.9,427.9 354.9,431.4 355.9,434.2 356.9,437.0 357.9,439.9 358.9,441.5 359.9,443.9 360.9,445.6 361.9,447.2 362.9,448.0 363.9,449.2 364.9,450.7 365.9,450.8 366.9,452.1 367.9,452.8 368.9,452.5 369.9,453.1 370.9,453.2 371.9,453.8 372.9,454.1 373.9,453.8 374.9,453.8 375.9,453.9 376.9,453.1 377.9,453.3 378.9,453.4 379.9,452.8 380.9,453.2 381.9,452.0 382.9,451.8 383.9,451.4 384.9,451.0 385.9,449.8 386.9,449.1 387.9,448.4 388.9,447.2 389.9,446.2 390.9,444.4 391.9,442.8 392.9,440.7 393.9,439.4 394.9,437.8 395.9,435.6 396.9,434.0 397.9,432.5 398.9,430.4 399.9,429.1 400.9,427.7 401.9,426.4 402.9,425.9 403.9,425.7 404.9,425.2 405.9,426.7 406.9,426.7 407.9,428.5 408.9,429.7 409.9,431.3 410.9,433.2 411.9,434.7 412.9,436.3 413.9,437.8 414.9,438.9 415.9,440.4 416.9,441.0 417.9,442.2 418.9,442.2 419.9,443.0 420.9,442.8 421.9,443.1 422.9,441.9 423.9,441.8 424.9,440.2 425.9,438.4 426.9,437.6 427.9,435.5 428.9,433.4 429.9,430.1 430.9,427.6 431.9,424.6 432.9,420.7 433.9,417.9 434.9,413.3 435.9,409.9 436.9,405.6 437.9,402.2 438.9,399.1 439.9,396.5 440.9,394.6 441.9,393.5 442.9,392.3 443.9,393.5 444.9,394.8 445.9,396.6 446.9,399.7 447.9,403.5 448.9,407.1 449.9,410.3 450.9,414.5 451.9,418.4 452.9,422.7 453.9,425.8 454.9,429.0 455.9,432.4 456.9,434.5 457.9,437.9 458.9,440.5 459.9,442.5 460.9,443.6 461.9,446.5 462.9,447.4 463.9,448.4 464.9,449.5 465.9,450.6 466.9,451.1 467.9,451.8 468.9,452.6 469.9,452.6 470.9,453.5 471.9,453.4 472.9,454.1 473.9,454.6 474.9,454.7 475.9,455.0 476.9,454.8 477.9,454.9 478.9,455.6 479.9,455.4 480.9,455.4 481.9,455.6 482.9,455.6 483.9,456.2 484.9,456.3 485.9,456.6 486.9,455.9 487.9,456.4 488.9,456.4 489.9,455.9 490.9,456.6 491.9,456.8 492.9,456.5 493.9,456.4 494.9,457.5 495.9,456.5 496.9,457.4 497.9,457.1 498.9,457.2 499.9,456.9 500.9,456.9 501.9,457.6 502.9,457.8 503.9,457.0 504.9,457.7 505.9,457.3 506.9,457.6 507.9,457.3 508.9,457.2 509.9,457.0 510.9,457.0 511.9,457.5 512.9,457.5 513.9,457.2 514.9,457.1 515.9,457.4 516.9,457.8 517.9,457.9 518.9,458.0 519.9,457.7 520.9,457.9 521.9,457.4 522.9,458.2 523.9,457.8 524.9,457.5 525.9,457.5 526.9,457.5 527.9,457.7 528.9,458.1 529.9,457.6 530.9,458.1 531.9,457.9 532.9,457.4 533.9,457.6 534.9,457.6 535.9,457.8 536.9,458.5 537.9,458.6 538.9,458.0 539.9,458.0 540.9,457.7 541.9,458.3 542.9,457.7 543.9,457.8 544.9,458.0 545.9,458.3 546.9,458.1 547.9,457.3 548.9,458.1 549.9,457.9 550.9,458.2 551.9,458.5 552.9,457.6 553.9,458.1 554.9,458.4 555.9,457.6 556.9,458.5 557.9,458.3 558.9,458.2 559.9,457.9 560.9,458.2 561.9,458.3 562.9,457.9 563.9,458.0 564.9,457.9 565.9,458.2 566.9,458.2 567.9,458.4 568.9,458.3 569.9,458.0 570.9,458.2 571.9,457.9 572.9,458.5 573.9,457.9 574.9,457.9 575.9,458.2 576.9,457.6 577.9,458.3 578.9,458.6 579.9,458.4 580.9,458.4 581.9,458.4 582.9,458.2 583.9,458.2 584.9,457.9 585.9,458.3 586.9,458.5 587.9,458.8 588.9,458.1 589.9,458.4 590.9,458.4 591.9,458.1 592.9,458.1 593.9,458.1 594.9,458.2 595.9,458.7 596.9,457.8 597.9,457.9 598.9,457.8 599.9,458.4 600.9,458.4 601.9,458.0 602.9,458.5 603.9,458.0 604.9,458.7 605.9,458.3 606.9,458.5 607.9,457.8 608.9,458.5 609.9,458.3 610.9,458.1 611.9,457.8 612.9,458.5 613.9,458.5 614.9,458.2 615.9,458.5 616.9,458.5 617.9,458.6 618.9,458.0 619.9,458.5 620.9,458.3 621.9,458.0 622.9,458.3 623.9,458.1 624.9,458.6 625.9,458.2 626.9,458.4 627.9,458.5 628.9,458.8 629.9,458.4 630.9,457.9 631.9,458.7 632.9,458.3 633.9,458.5 634.9,458.2 635.9,458.1 636.9,457.8 637.9,458.2 638.9,458.4 639.9,458.0 640.9,458.0 641.9,457.9 642.9,458.1 643.9,458.1 644.9,458.3 645.9,458.0 646.9,458.1 647.9,457.7 648.9,458.3 649.9,458.0 650.9,457.6 651.9,457.7 652.9,457.9 653.9,458.2 654.9,457.9 655.9,458.3 656.9,457.9 657.9,457.4 658.9,457.4 659.9,458.1 660.9,457.3 661.9,457.2 662.9,457.0 663.9,456.7 664.9,457.2 665.9,457.1 666.9,456.2 667.9,456.8 668.9,456.3 669.9,455.5 670.9,454.8 671.9,454.6 672.9,454.1 673.9,453.9 674.9,453.0 675.9,452.7 676.9,452.5 677.9,450.8 678.9,450.1 679.9,450.0 680.9,449.5 681.9,447.8 682.9,447.7 683.9,447.1 684.9,447.5 685.9,447.5 686.9,447.4 687.9,448.0 688.9,448.8 689.9,448.1 690.9,449.2 691.9,450.1 692.9,451.1 693.9,451.9 694.9,452.6 695.9,453.7 696.9,453.8 697.9,454.1 698.9,454.6 699.9,454.6 700.9,455.6 701.9,456.2 702.9,456.0 703.9,456.8 704.9,456.4 705.9,457.2 706.9,457.1 707.9,457.8 708.9,457.5 709.9,457.6 710.9,457.5 711.9,457.3 712.9,457.5 713.9,457.5 714.9,457.4 715.9,458.2 716.9,458.2 717.9,458.1 718.9,458.1 719.9,457.6 720.9,457.2 721.9,458.2 722.9,458.2 723.9,458.2 724.9,458.4 725.9,458.3 726.9,457.9 727.9,458.3 728.9,458.3 729.9,458.7 730.9,458.4 731.9,458.3 732.9,458.3 733.9,458.0 734.9,458.1 735.9,458.5 736.9,457.7 737.9,458.0 738.9,458.5 739.9,458.1 740.9,457.8 741.9,458.4 742.9,458.5 743.9,458.4 744.9,458.4 745.9,457.9 746.9,459.1 747.9,458.1 748.9,458.1 749.9,458.5 750.9,458.5 751.9,458.3 752.9,458.4 753.9,458.5 754.9,458.5 755.9,458.1 756.9,458.4 757.9,458.5 758.9,458.5 759.9,458.3 760.9,458.0 761.9,458.5 762.9,458.6 763.9,458.5 764.9,457.9 765.9,458.5 766.9,458.8 767.9,458.5 768.9,458.2 769.9,458.4 770.9,458.3 771.9,458.3 772.9,458.5 773.9,458.4 774.9,458.1 775.9,458.9 776.9,458.7 777.9,457.8 778.9,458.3 779.9,458.3 780.9,457.6 781.9,458.0 782.9,458.7 783.9,458.3 784.9,458.5 785.9,458.4 786.9,458.3 787.9,458.2 788.9,457.9 789.9,457.8 790.9,458.1 791.9,458.6 792.9,458.6 793.9,458.7 794.9,458.3 795.9,458.0 796.9,458.7 797.9,458.6 798.9,458.4 799.9,458.4 800.9,458.1 801.9,458.6 802.9,457.7 803.9,458.1 804.9,458.4 805.9,458.3 806.9,458.7 807.9,458.4 808.9,458.0 809.9,458.0 810.9,457.6 811.9,458.6 812.9,458.2 813.9,458.4 814.9,457.8 815.9,457.9 816.9,458.3 817.9,458.0 818.9,458.1 819.9,458.6 820.9,458.3 821.9,458.2 822.9,458.2 823.9,457.9 824.9,458.3 825.9,458.1 826.9,458.8 827.9,458.2 828.9,457.5 829.9,457.9 830.9,457.7 831.9,458.4 832.9,457.9 833.9,457.5 834.9,457.8 835.9,458.2 836.9,458.1 837.9,457.8 838.9,457.8 839.9,457.3 840.9,457.5 841.9,457.6 842.9,457.3 843.9,457.6 844.9,457.1 845.9,457.7 846.9,457.1 847.9,456.9 848.9,456.8 849.9,456.9 850.9,457.0 851.9,456.8 852.9,456.4 853.9,456.5 854.9,455.9 855.9,455.9 856.9,455.8 857.9,455.4 858.9,454.8 859.9,454.3 860.9,454.1 861.9,453.4 862.9,452.2 863.9,451.7 864.9,451.1 865.9,450.3 866.9,449.2 867.9,448.6 868.9,446.6 869.9,446.1 870.9,444.3 871.9,443.2 872.9,441.6 873.9,440.5 874.9,438.7 875.9,438.5 876.9,436.9 877.9,436.3 878.9,435.2 879.9,435.7 880.9,435.6 881.9,436.5 882.9,437.1 883.9,437.8 884.9,438.6 885.9,440.7 886.9,441.5 887.9,443.2 888.9,444.6 889.9,446.0 890.9,446.5 891.9,447.7 892.9,449.0 893.9,450.0 894.9,451.3 895.9,452.0 896.9,452.9 897.9,453.4 898.9,454.1 899.9,454.6 900.9,455.0 901.9,455.2 902.9,456.0 903.9,455.8 904.9,455.7 905.9,455.8 906.9,456.7 907.9,456.6 908.9,456.7 909.9,456.6 910.9,457.1 911.9,457.5 912.9,457.3 913.9,457.0 914.9,457.3 915.9,457.5 916.9,457.2 917.9,457.2 918.9,457.2 919.9,458.1 920.9,458.1 921.9,457.6 922.9,457.8 923.9,458.1 924.9,458.1 925.9,458.0 926.9,457.6 927.9,457.6 928.9,457.8 929.9,458.1 930.9,458.1 931.9,457.9 932.9,457.7 933.9,458.4 934.9,457.7 935.9,458.0 936.9,458.0 937.9,458.1 938.9,458.4 939.9,457.4 940.9,457.2 941.9,458.1 942.9,458.3 943.9,458.3 944.9,458.2 945.9,458.0 946.9,458.0 947.9,458.6 948.9,457.8 949.9,458.4 950.9,458.0 951.9,458.0 952.9,457.7 953.9,457.9 954.9,457.8 955.9,457.5 956.9,457.6 957.9,457.4 958.9,458.2 959.9,457.6 960.9,457.8 961.9,458.4 962.9,458.1 963.9,457.8 964.9,458.2 965.9,457.9 966.9,458.0 967.9,457.6 968.9,458.1 969.9,457.9 970.9,457.7 971.9,457.5 972.9,457.7 973.9,457.5 974.9,457.7 975.9,457.7 976.9,457.4 977.9,458.0 978.9,457.8 979.9,457.2 980.9,458.0 981.9,457.3 982.9,457.0 983.9,457.4 984.9,457.7 985.9,457.7 986.9,457.0 987.9,457.2 988.9,457.0 989.9,457.2 990.9,456.9 991.9,456.6 992.9,456.4 993.9,456.1 994.9,455.8 995.9,455.3 996.9,454.8 997.9,454.9 998.9,454.1 999.9,453.6 1000.9,452.9 1001.9,452.4 1002.9,451.5 1003.9,451.1 1004.9,450.2 1005.9,449.9 1006.9,448.2 1007.9,448.4 1008.9,447.4 1009.9,446.4 1010.9,446.3 1011.9,445.5 1012.9,445.4 1013.9,445.1 1014.9,445.2 1015.9,445.3 1016.9,445.5 1017.9,445.9 1018.9,446.8 1019.9,447.5 1020.9,448.2 1021.9,448.6 1022.9,449.5 1023.9,450.3 1024.9,451.0 1025.9,451.6 1026.9,452.4 1027.9,452.7 1028.9,453.6 1029.9,453.7 1030.9,454.4 1031.9,454.7 1032.9,455.1 1033.9,455.9 1034.9,455.5 1035.9,456.1 1036.9,456.3 1037.9,456.7 1038.9,456.4 1039.9,456.5 1040.9,456.8 1041.9,457.1 1042.9,457.3 1043.9,457.7 1044.9,457.8 1045.9,457.6 1046.9,457.5 1047.9,457.8 1048.9,457.7 1049.9,457.5 1050.9,457.5 1051.9,458.2 1052.9,457.8 1053.9,457.5 1054.9,458.0 1055.9,457.5 1056.9,457.6 1057.9,457.8 1058.9,457.7 1059.9,457.6 1060.9,457.6 1061.9,457.5 1062.9,457.4 1063.9,457.8 1064.9,458.0 1065.9,457.4 1066.9,457.8 1067.9,457.8 1068.9,457.2 1069.9,457.8 1070.9,457.7 1071.9,457.4 1072.9,457.2 1073.9,457.5 1074.9,457.3 1075.9,456.9 1076.9,456.3 1077.9,457.3 1078.9,456.0 1079.9,456.7 1080.9,455.8 1081.9,456.3 1082.9,456.1 1083.9,456.2 1084.9,456.2 1085.9,456.1 1086.9,455.5 1087.9,456.0 1088.9,455.8 1089.9,455.4 1090.9,455.7 1091.9,455.3 1092.9,455.6 1093.9,455.2 1094.9,455.6 1095.9,455.9 1096.9,455.4 1097.9,455.6 1098.9,456.0 1099.9,456.2 1100.9,455.0 1101.9,455.1 1102.9,454.4 1103.9,454.4 1104.9,455.1 1105.9,454.2 1106.9,453.8 1107.9,453.4 1108.9,453.3 1109.9,452.1 1110.9,451.7 1111.9,451.2 1112.9,450.4 1113.9,449.9 1114.9,449.5 1115.9,448.2 1116.9,447.6 1117.9,447.2 1118.9,446.1 1119.9,445.1 1120.9,445.0 1121.9,444.6 1122.9,444.5 1123.9,443.9 1124.9,444.2 1125.9,444.5 1126.9,443.8 1127.9,444.7 1128.9,445.8 1129.9,445.6 1130.9,446.8 1131.9,447.0 1132.9,447.2 1133.9,447.4 1134.9,448.4 1135.9,448.7 1136.9,450.0 1137.9,449.1 1138.9,450.3 1139.9,450.2 1140.9,450.7 1141.9,450.1 1142.9,450.7 1143.9,450.4 1144.9,450.9 1145.9,451.2 1146.9,451.0 1147.9,451.0 1148.9,451.4 1149.9,451.6 1150.9,451.4 1151.9,451.3 1152.9,452.1 1153.9,452.0 1154.9,452.7 1155.9,454.1 1156.9,454.2 1157.9,454.0 1158.9,454.6 1159.9,455.3 1160.9,455.1 1161.9,454.9 1162.9,455.2 1163.9,456.4 1164.9,456.7 1165.9,456.8 1166.9,456.8 1167.9,456.9 1168.9,457.1 1169.9,457.0 1170.9,457.3 1171.9,457.5 1172.9,457.1 1173.9,458.1 1174.9,457.8 1175.9,457.9 1176.9,457.5 1177.9,457.7 1178.9,457.7 1179.9,457.5 1180.9,457.7 1181.9,458.6 1182.9,458.0 1183.9,458.2 1184.9,458.0 1185.9,458.0 1186.9,457.8 1187.9,458.2 1188.9,457.8 1189.9,458.2 1190.9,457.7 1191.9,457.9 1192.9,458.0 1193.9,458.2 1194.9,457.8 1195.9,458.2 1196.9,458.2 1197.9,458.3 1198.9,458.1 1199.9,458.2 1200.9,458.1 1201.9,457.7 1202.9,458.2 1203.9,457.9 1204.9,458.1 1205.9,458.5 1206.9,458.2 1207.9,458.0 1208.9,457.8 1209.9,457.7 1210.9,457.5 1211.9,457.8 1212.9,458.2 1213.9,457.8 1214.9,457.4 1215.9,457.9 1216.9,457.3 1217.9,457.3 1218.9,457.8 1219.9,457.6 1220.9,457.9 1221.9,457.1 1222.9,457.5 1223.9,457.5 1224.9,457.4 1225.9,457.5 1226.9,457.0 1227.9,457.6 1228.9,457.3 1229.9,457.7 1230.9,457.5 1231.9,458.0 1232.9,457.9 1233.9,457.9 1234.9,458.0 1235.9,457.8 1236.9,458.4 1237.9,458.2 1238.9,458.2 1239.9,458.2 1240.9,458.2 1241.9,458.3 1242.9,458.1 1243.9,457.9 1244.9,457.7 1245.9,457.9 1246.9,458.6 1247.9,458.1 1248.9,458.5 1249.9,458.8 1250.9,458.4 1251.9,458.3 1252.9,458.4 1253.9,458.7 1254.9,458.2 1255.9,458.6 1256.9,459.1 1257.9,458.7 1258.9,458.6 1259.9,458.6 1260.9,458.4 1261.9,458.1 1262.9,458.7 1263.9,458.7 1264.9,458.0 1265.9,458.5 1266.9,458.9 1267.9,458.8 1268.9,458.7 1269.9,458.3 1270.9,458.2 1271.9,458.5 1272.9,458.9" stroke="#7cc873" stroke-width="3.9"/>
<path d="M94.9,458.4 95.9,458.4 96.9,458.8 97.9,459.0 98.9,458.2 99.9,459.2 100.9,458.8 101.9,458.3 102.9,458.3 103.9,458.5 104.9,458.4 105.9,458.1 106.9,457.9 107.9,458.7 108.9,458.2 109.9,459.0 110.9,459.2 111.9,458.4 112.9,458.9 113.9,458.3 114.9,459.1 115.9,458.7 116.9,458.0 117.9,458.3 118.9,458.4 119.9,458.6 120.9,458.9 121.9,457.9 122.9,458.5 123.9,459.4 124.9,458.4 125.9,458.3 126.9,458.5 127.9,458.1 128.9,458.7 129.9,458.6 130.9,458.8 131.9,458.8 132.9,459.1 133.9,458.4 134.9,458.6 135.9,457.9 136.9,458.8 137.9,458.6 138.9,458.6 139.9,458.4 140.9,458.5 141.9,458.8 142.9,458.4 143.9,458.5 144.9,458.4 145.9,458.5 146.9,458.7 147.9,458.3 148.9,458.3 149.9,458.3 150.9,458.4 151.9,458.5 152.9,458.3 153.9,458.4 154.9,458.7 155.9,458.3 156.9,458.3 157.9,458.8 158.9,458.4 159.9,458.6 160.9,458.1 161.9,458.4 162.9,459.2 163.9,458.7 164.9,458.5 165.9,458.6 166.9,458.2 167.9,458.2 168.9,458.4 169.9,458.7 170.9,457.8 171.9,459.2 172.9,458.2 173.9,458.3 174.9,457.7 175.9,458.1 176.9,458.5 177.9,458.6 178.9,458.0 179.9,458.0 180.9,458.1 181.9,458.9 182.9,458.3 183.9,458.7 184.9,458.5 185.9,458.9 186.9,458.6 187.9,458.3 188.9,458.2 189.9,458.8 190.9,458.5 191.9,458.6 192.9,458.8 193.9,458.5 194.9,458.6 195.9,458.3 196.9,458.1 197.9,458.1 198.9,458.3 199.9,458.8 200.9,458.5 201.9,458.4 202.9,458.1 203.9,458.4 204.9,458.9 205.9,458.7 206.9,458.5 207.9,458.4 208.9,458.6 209.9,458.4 210.9,458.7 211.9,458.7 212.9,458.7 213.9,458.2 214.9,458.1 215.9,458.9 216.9,458.1 217.9,458.1 218.9,458.4 219.9,458.5 220.9,458.4 221.9,458.7 222.9,458.0 223.9,458.0 224.9,458.2 225.9,458.6 226.9,458.5 227.9,458.2 228.9,458.6 229.9,458.4 230.9,458.3 231.9,458.2 232.9,458.4 233.9,458.2 234.9,458.4 235.9,458.1 236.9,458.2 237.9,458.3 238.9,458.2 239.9,458.5 240.9,458.4 241.9,458.3 242.9,458.6 243.9,457.9 244.9,458.7 245.9,457.8 246.9,458.6 247.9,458.7 248.9,458.8 249.9,458.4 250.9,458.5 251.9,458.6 252.9,458.3 253.9,458.4 254.9,458.5 255.9,458.4 256.9,458.2 257.9,458.3 258.9,458.3 259.9,458.6 260.9,458.0 261.9,458.0 262.9,458.4 263.9,458.1 264.9,457.9 265.9,458.2 266.9,458.4 267.9,458.5 268.9,457.8 269.9,458.0 270.9,458.2 271.9,458.2 272.9,458.3 273.9,458.2 274.9,458.0 275.9,457.7 276.9,458.0 277.9,458.6 278.9,458.5 279.9,458.2 280.9,457.7 281.9,457.9 282.9,458.3 283.9,457.5 284.9,457.7 285.9,458.1 286.9,457.4 287.9,458.1 288.9,457.7 289.9,458.5 290.9,457.9 291.9,458.0 292.9,458.0 293.9,458.3 294.9,457.7 295.9,457.9 296.9,457.6 297.9,457.2 298.9,457.7 299.9,457.7 300.9,457.4 301.9,457.3 302.9,457.6 303.9,457.5 304.9,457.4 305.9,458.2 306.9,457.3 307.9,457.7 308.9,456.9 309.9,457.7 310.9,457.0 311.9,456.9 312.9,456.9 313.9,456.9 314.9,456.6 315.9,456.4 316.9,456.6 317.9,456.2 318.9,456.3 319.9,456.2 320.9,455.9 321.9,456.0 322.9,455.7 323.9,455.5 324.9,455.0 325.9,454.3 326.9,455.3 327.9,454.3 328.9,453.5 329.9,453.1 330.9,452.2 331.9,451.2 332.9,449.6 333.9,448.2 334.9,447.2 335.9,445.4 336.9,443.3 337.9,440.0 338.9,437.9 339.9,435.5 340.9,431.9 341.9,428.7 342.9,425.6 343.9,422.0 344.9,420.4 345.9,418.7 346.9,417.4 347.9,417.2 348.9,418.3 349.9,420.2 350.9,422.8 351.9,425.3 352.9,428.5 353.9,431.5 354.9,434.3 355.9,437.1 356.9,440.1 357.9,442.4 358.9,444.6 359.9,447.2 360.9,448.3 361.9,449.0 362.9,450.7 363.9,451.5 364.9,452.7 365.9,452.9 366.9,453.6 367.9,453.8 368.9,454.0 369.9,453.5 370.9,454.5 371.9,454.9 372.9,454.3 373.9,455.0 374.9,454.1 375.9,454.5 376.9,454.5 377.9,454.6 378.9,454.5 379.9,453.9 380.9,454.4 381.9,453.2 382.9,453.0 383.9,452.7 384.9,451.7 385.9,451.4 386.9,451.1 387.9,450.8 388.9,449.7 389.9,448.2 390.9,447.1 391.9,444.7 392.9,444.0 393.9,442.7 394.9,440.2 395.9,438.9 396.9,436.3 397.9,434.7 398.9,432.8 399.9,431.2 400.9,429.7 401.9,428.9 402.9,427.9 403.9,427.4 404.9,427.5 405.9,428.0 406.9,429.2 407.9,430.2 408.9,431.8 409.9,434.3 410.9,436.0 411.9,437.7 412.9,439.0 413.9,440.8 414.9,441.5 415.9,443.4 416.9,444.4 417.9,445.4 418.9,445.6 419.9,445.9 420.9,445.5 421.9,446.1 422.9,445.3 423.9,444.4 424.9,443.7 425.9,442.8 426.9,441.4 427.9,438.7 428.9,436.1 429.9,433.8 430.9,431.0 431.9,427.7 432.9,424.3 433.9,420.3 434.9,416.4 435.9,412.6 436.9,407.8 437.9,404.5 438.9,401.1 439.9,397.6 440.9,395.4 441.9,394.2 442.9,394.1 443.9,393.6 444.9,396.0 445.9,398.3 446.9,400.6 447.9,405.3 448.9,408.9 449.9,414.0 450.9,418.0 451.9,421.2 452.9,425.7 453.9,428.9 454.9,432.5 455.9,435.9 456.9,438.4 457.9,440.9 458.9,442.3 459.9,444.3 460.9,446.1 461.9,448.1 462.9,449.4 463.9,450.3 464.9,451.2 465.9,451.6 466.9,452.7 467.9,453.3 468.9,453.3 469.9,453.9 470.9,454.6 471.9,454.1 472.9,454.5 473.9,455.0 474.9,455.0 475.9,454.9 476.9,455.4 477.9,455.6 478.9,455.9 479.9,456.3 480.9,455.6 481.9,455.8 482.9,456.6 483.9,456.3 484.9,456.3 485.9,456.3 486.9,456.8 487.9,456.4 488.9,456.9 489.9,456.7 490.9,456.8 491.9,456.6 492.9,457.3 493.9,457.4 494.9,456.8 495.9,457.3 496.9,458.2 497.9,457.0 498.9,457.1 499.9,457.5 500.9,457.0 501.9,457.5 502.9,457.8 503.9,457.7 504.9,457.5 505.9,457.6 506.9,457.6 507.9,457.7 508.9,457.6 509.9,457.5 510.9,458.2 511.9,457.7 512.9,457.0 513.9,457.7 514.9,457.8 515.9,458.1 516.9,457.5 517.9,457.5 518.9,457.8 519.9,458.1 520.9,458.0 521.9,457.6 522.9,458.0 523.9,457.7 524.9,457.4 525.9,457.6 526.9,458.0 527.9,457.7 528.9,458.1 529.9,457.8 530.9,458.0 531.9,457.7 532.9,458.3 533.9,458.1 534.9,458.5 535.9,458.3 536.9,458.0 537.9,458.3 538.9,457.9 539.9,458.0 540.9,458.0 541.9,457.6 542.9,457.7 543.9,458.2 544.9,458.0 545.9,458.2 546.9,457.8 547.9,458.2 548.9,458.3 549.9,458.0 550.9,458.3 551.9,458.2 552.9,458.2 553.9,457.9 554.9,458.9 555.9,458.0 556.9,458.4 557.9,458.1 558.9,457.9 559.9,458.2 560.9,458.8 561.9,458.0 562.9,458.6 563.9,458.4 564.9,458.1 565.9,458.4 566.9,458.2 567.9,458.2 568.9,458.3 569.9,458.4 570.9,458.0 571.9,458.5 572.9,458.4 573.9,458.5 574.9,458.1 575.9,458.5 576.9,458.0 577.9,458.5 578.9,458.1 579.9,458.5 580.9,458.4 581.9,457.9 582.9,458.5 583.9,457.8 584.9,458.0 585.9,458.5 586.9,458.5 587.9,458.9 588.9,458.3 589.9,458.6 590.9,458.7 591.9,458.0 592.9,458.5 593.9,458.4 594.9,458.3 595.9,458.2 596.9,458.6 597.9,458.4 598.9,458.5 599.9,458.4 600.9,457.9 601.9,457.7 602.9,459.0 603.9,458.1 604.9,458.4 605.9,458.3 606.9,458.6 607.9,458.0 608.9,457.8 609.9,457.9 610.9,458.2 611.9,458.3 612.9,458.0 613.9,458.6 614.9,458.4 615.9,457.7 616.9,458.4 617.9,458.3 618.9,458.3 619.9,458.3 620.9,458.6 621.9,458.3 622.9,458.4 623.9,458.4 624.9,458.0 625.9,458.5 626.9,458.2 627.9,458.3 628.9,458.4 629.9,458.0 630.9,458.2 631.9,458.6 632.9,458.0 633.9,458.2 634.9,458.5 635.9,458.0 636.9,458.7 637.9,457.8 638.9,457.9 639.9,458.4 640.9,458.4 641.9,457.9 642.9,458.2 643.9,458.4 644.9,458.2 645.9,458.3 646.9,458.3 647.9,458.1 648.9,458.4 649.9,458.0 650.9,458.3 651.9,457.9 652.9,458.0 653.9,458.2 654.9,457.7 655.9,457.7 656.9,457.6 657.9,458.0 658.9,458.1 659.9,457.7 660.9,457.7 661.9,457.7 662.9,457.1 663.9,457.0 664.9,457.2 665.9,457.4 666.9,456.6 667.9,456.1 668.9,455.6 669.9,456.0 670.9,454.9 671.9,454.7 672.9,454.0 673.9,453.7 674.9,453.9 675.9,452.8 676.9,451.4 677.9,450.4 678.9,450.3 679.9,449.4 680.9,449.2 681.9,448.7 682.9,448.0 683.9,447.9 684.9,447.7 685.9,447.4 686.9,447.7 687.9,447.6 688.9,448.9 689.9,449.3 690.9,449.4 691.9,450.2 692.9,451.0 693.9,451.9 694.9,452.0 695.9,452.4 696.9,453.2 697.9,454.0 698.9,454.5 699.9,455.9 700.9,456.1 701.9,456.2 702.9,456.1 703.9,456.5 704.9,457.0 705.9,457.7 706.9,456.9 707.9,457.2 708.9,457.4 709.9,457.8 710.9,457.8 711.9,457.6 712.9,457.9 713.9,457.9 714.9,457.9 715.9,458.1 716.9,458.0 717.9,457.7 718.9,458.1 719.9,457.9 720.9,458.3 721.9,457.9 722.9,458.1 723.9,457.9 724.9,458.0 725.9,458.3 726.9,457.8 727.9,457.7 728.9,458.7 729.9,458.5 730.9,458.2 731.9,458.0 732.9,458.3 733.9,458.0 734.9,458.4 735.9,458.2 736.9,458.3 737.9,458.2 738.9,458.5 739.9,458.0 740.9,457.8 741.9,457.9 742.9,457.8 743.9,458.2 744.9,458.2 745.9,458.2 746.9,458.0 747.9,458.6 748.9,458.2 749.9,458.3 750.9,458.2 751.9,458.0 752.9,458.7 753.9,457.9 754.9,457.8 755.9,458.1 756.9,458.2 757.9,458.0 758.9,457.6 759.9,458.5 760.9,458.6 761.9,458.1 762.9,458.2 763.9,458.7 764.9,458.5 765.9,458.0 766.9,457.9 767.9,458.2 768.9,458.2 769.9,458.5 770.9,458.5 771.9,458.1 772.9,457.4 773.9,457.8 774.9,458.6 775.9,458.9 776.9,458.3 777.9,458.2 778.9,458.0 779.9,458.2 780.9,458.0 781.9,458.0 782.9,458.4 783.9,459.1 784.9,458.0 785.9,457.9 786.9,458.2 787.9,458.0 788.9,458.3 789.9,458.4 790.9,458.4 791.9,458.3 792.9,458.4 793.9,458.2 794.9,458.3 795.9,458.6 796.9,458.1 797.9,458.4 798.9,458.0 799.9,458.7 800.9,458.1 801.9,458.2 802.9,458.0 803.9,458.2 804.9,458.0 805.9,457.9 806.9,458.6 807.9,457.9 808.9,458.4 809.9,458.4 810.9,458.5 811.9,458.0 812.9,458.8 813.9,457.6 814.9,458.2 815.9,458.0 816.9,457.9 817.9,458.6 818.9,458.5 819.9,457.6 820.9,458.0 821.9,458.4 822.9,458.1 823.9,458.0 824.9,457.6 825.9,458.5 826.9,457.3 827.9,457.4 828.9,458.1 829.9,457.8 830.9,457.6 831.9,458.1 832.9,457.7 833.9,458.0 834.9,458.1 835.9,457.6 836.9,457.0 837.9,457.3 838.9,457.4 839.9,457.7 840.9,457.7 841.9,457.2 842.9,457.4 843.9,457.5 844.9,457.3 845.9,457.6 846.9,457.4 847.9,457.0 848.9,457.0 849.9,456.7 850.9,456.8 851.9,456.3 852.9,457.1 853.9,456.6 854.9,456.2 855.9,455.9 856.9,455.8 857.9,455.4 858.9,454.8 859.9,455.4 860.9,454.1 861.9,453.0 862.9,452.5 863.9,451.7 864.9,451.3 865.9,450.1 866.9,449.4 867.9,448.4 868.9,447.0 869.9,445.7 870.9,444.5 871.9,443.0 872.9,441.7 873.9,441.0 874.9,439.3 875.9,438.2 876.9,437.4 877.9,436.4 878.9,435.7 879.9,435.8 880.9,435.9 881.9,436.5 882.9,436.9 883.9,437.9 884.9,439.0 885.9,440.1 886.9,441.5 887.9,442.9 888.9,444.8 889.9,445.9 890.9,446.9 891.9,447.9 892.9,449.5 893.9,450.6 894.9,450.6 895.9,452.1 896.9,452.3 897.9,453.6 898.9,454.1 899.9,454.4 900.9,455.1 901.9,454.9 902.9,455.2 903.9,455.9 904.9,456.2 905.9,456.6 906.9,456.6 907.9,456.3 908.9,456.4 909.9,457.2 910.9,457.3 911.9,457.0 912.9,456.7 913.9,456.9 914.9,457.5 915.9,457.4 916.9,457.6 917.9,457.3 918.9,457.6 919.9,457.5 920.9,457.5 921.9,457.0 922.9,457.7 923.9,457.6 924.9,457.6 925.9,457.4 926.9,458.5 927.9,457.4 928.9,457.9 929.9,457.2 930.9,457.5 931.9,457.9 932.9,457.8 933.9,457.8 934.9,457.9 935.9,458.1 936.9,457.4 937.9,457.3 938.9,457.8 939.9,457.9 940.9,457.9 941.9,458.1 942.9,458.0 943.9,458.6 944.9,457.8 945.9,458.3 946.9,457.4 947.9,457.9 948.9,457.4 949.9,457.7 950.9,458.5 951.9,458.6 952.9,457.8 953.9,458.2 954.9,458.5 955.9,457.9 956.9,457.7 957.9,458.3 958.9,457.9 959.9,458.0 960.9,457.6 961.9,458.2 962.9,457.7 963.9,458.1 964.9,458.1 965.9,457.7 966.9,457.4 967.9,458.1 968.9,458.5 969.9,458.2 970.9,457.6 971.9,458.0 972.9,457.5 973.9,457.8 974.9,457.5 975.9,457.6 976.9,458.0 977.9,457.7 978.9,457.6 979.9,456.9 980.9,457.4 981.9,457.5 982.9,457.4 983.9,457.6 984.9,457.5 985.9,457.5 986.9,456.9 987.9,456.6 988.9,457.0 989.9,456.5 990.9,456.6 991.9,456.4 992.9,456.3 993.9,455.9 994.9,455.7 995.9,454.9 996.9,454.8 997.9,454.8 998.9,454.1 999.9,453.4 1000.9,452.8 1001.9,452.0 1002.9,452.0 1003.9,450.6 1004.9,450.3 1005.9,449.4 1006.9,449.1 1007.9,447.8 1008.9,447.0 1009.9,446.5 1010.9,446.1 1011.9,445.5 1012.9,444.7 1013.9,445.1 1014.9,445.1 1015.9,445.7 1016.9,445.7 1017.9,445.5 1018.9,447.2 1019.9,447.4 1020.9,448.2 1021.9,448.8 1022.9,448.9 1023.9,450.2 1024.9,451.4 1025.9,451.2 1026.9,452.4 1027.9,453.2 1028.9,453.6 1029.9,454.1 1030.9,454.4 1031.9,454.9 1032.9,454.9 1033.9,455.3 1034.9,455.7 1035.9,456.0 1036.9,456.3 1037.9,457.0 1038.9,456.7 1039.9,456.5 1040.9,456.8 1041.9,457.1 1042.9,456.7 1043.9,457.2 1044.9,457.4 1045.9,457.6 1046.9,457.5 1047.9,457.9 1048.9,457.8 1049.9,457.3 1050.9,457.2 1051.9,458.0 1052.9,457.8 1053.9,457.2 1054.9,457.3 1055.9,457.8 1056.9,457.5 1057.9,457.9 1058.9,458.2 1059.9,457.6 1060.9,457.4 1061.9,458.0 1062.9,457.6 1063.9,457.2 1064.9,457.7 1065.9,457.0 1066.9,457.8 1067.9,457.6 1068.9,458.2 1069.9,457.8 1070.9,457.6 1071.9,457.5 1072.9,457.7 1073.9,457.6 1074.9,457.4 1075.9,457.5 1076.9,456.8 1077.9,456.8 1078.9,456.0 1079.9,457.0 1080.9,456.5 1081.9,456.1 1082.9,456.1 1083.9,456.3 1084.9,456.2 1085.9,456.1 1086.9,455.9 1087.9,456.0 1088.9,455.4 1089.9,455.3 1090.9,455.4 1091.9,455.1 1092.9,455.3 1093.9,455.2 1094.9,455.8 1095.9,456.3 1096.9,456.0 1097.9,455.2 1098.9,455.5 1099.9,455.3 1100.9,455.4 1101.9,455.5 1102.9,455.1 1103.9,455.1 1104.9,454.0 1105.9,454.0 1106.9,453.7 1107.9,453.1 1108.9,452.6 1109.9,452.3 1110.9,452.0 1111.9,451.4 1112.9,450.4 1113.9,450.0 1114.9,449.2 1115.9,447.7 1116.9,447.2 1117.9,446.3 1118.9,445.9 1119.9,445.4 1120.9,444.8 1121.9,444.3 1122.9,444.3 1123.9,443.7 1124.9,443.9 1125.9,444.4 1126.9,444.5 1127.9,444.5 1128.9,445.5 1129.9,446.0 1130.9,446.6 1131.9,447.0 1132.9,447.3 1133.9,448.2 1134.9,448.8 1135.9,449.1 1136.9,449.0 1137.9,449.6 1138.9,450.3 1139.9,450.3 1140.9,450.4 1141.9,450.3 1142.9,450.3 1143.9,450.7 1144.9,451.1 1145.9,451.3 1146.9,450.6 1147.9,451.5 1148.9,451.4 1149.9,450.6 1150.9,451.5 1151.9,452.0 1152.9,452.4 1153.9,453.3 1154.9,453.4 1155.9,453.2 1156.9,453.7 1157.9,453.8 1158.9,453.9 1159.9,455.2 1160.9,455.2 1161.9,455.9 1162.9,455.6 1163.9,456.2 1164.9,456.5 1165.9,456.4 1166.9,456.7 1167.9,456.8 1168.9,456.5 1169.9,457.1 1170.9,457.5 1171.9,456.8 1172.9,456.9 1173.9,457.7 1174.9,457.4 1175.9,458.0 1176.9,457.5 1177.9,458.3 1178.9,458.0 1179.9,457.7 1180.9,457.3 1181.9,457.7 1182.9,458.1 1183.9,458.4 1184.9,458.0 1185.9,457.7 1186.9,457.6 1187.9,458.1 1188.9,458.4 1189.9,458.3 1190.9,458.3 1191.9,458.1 1192.9,458.3 1193.9,457.5 1194.9,457.8 1195.9,458.3 1196.9,458.6 1197.9,458.0 1198.9,458.0 1199.9,458.1 1200.9,458.1 1201.9,458.3 1202.9,458.3 1203.9,458.1 1204.9,458.1 1205.9,458.5 1206.9,457.7 1207.9,458.1 1208.9,458.0 1209.9,458.1 1210.9,457.9 1211.9,457.9 1212.9,457.8 1213.9,458.1 1214.9,457.5 1215.9,457.3 1216.9,457.8 1217.9,457.8 1218.9,457.0 1219.9,457.0 1220.9,457.6 1221.9,457.4 1222.9,457.7 1223.9,456.9 1224.9,457.3 1225.9,457.5 1226.9,457.4 1227.9,458.0 1228.9,457.2 1229.9,457.4 1230.9,458.1 1231.9,457.1 1232.9,457.8 1233.9,457.9 1234.9,457.7 1235.9,457.9 1236.9,458.0 1237.9,457.4 1238.9,458.1 1239.9,458.1 1240.9,457.8 1241.9,458.1 1242.9,458.5 1243.9,458.3 1244.9,458.1 1245.9,458.6 1246.9,458.8 1247.9,458.1 1248.9,458.1 1249.9,458.2 1250.9,458.3 1251.9,458.3 1252.9,458.8 1253.9,458.7 1254.9,458.3 1255.9,458.5 1256.9,458.2 1257.9,458.6 1258.9,458.0 1259.9,458.1 1260.9,458.4 1261.9,458.0 1262.9,459.1 1263.9,458.5 1264.9,458.2 1265.9,458.6 1266.9,458.4 1267.9,458.4 1268.9,459.0 1269.9,458.6 1270.9,458.6 1271.9,458.3 1272.9,458.4" stroke="#000" stroke-width="3.4"/>
<path d="M94.9,558.9 95.9,558.9 96.9,558.5 97.9,558.7 98.9,558.7 99.9,558.7 100.9,559.4 101.9,558.6 102.9,558.6 103.9,558.6 104.9,559.0 105.9,558.6 106.9,558.7 107.9,559.0 108.9,558.9 109.9,558.4 110.9,559.2 111.9,558.8 112.9,559.0 113.9,558.8 114.9,559.2 115.9,558.6 116.9,558.5 117.9,558.8 118.9,559.1 119.9,558.7 120.9,559.0 121.9,559.2 122.9,558.3 123.9,559.1 124.9,559.0 125.9,558.5 126.9,558.7 127.9,558.5 128.9,558.9 129.9,558.5 130.9,558.9 131.9,559.1 132.9,558.2 133.9,558.8 134.9,558.7 135.9,558.5 136.9,558.8 137.9,558.6 138.9,558.2 139.9,558.5 140.9,558.7 141.9,558.4 142.9,558.3 143.9,559.4 144.9,559.1 145.9,559.1 146.9,558.7 147.9,558.0 148.9,558.6 149.9,558.8 150.9,558.5 151.9,558.5 152.9,558.8 153.9,559.3 154.9,558.8 155.9,558.7 156.9,558.4 157.9,559.1 158.9,558.8 159.9,558.7 160.9,558.6 161.9,558.5 162.9,558.8 163.9,559.3 164.9,558.7 165.9,558.9 166.9,558.5 167.9,558.8 168.9,558.3 169.9,559.1 170.9,558.5 171.9,558.8 172.9,558.7 173.9,559.1 174.9,558.9 175.9,558.9 176.9,558.2 177.9,558.4 178.9,558.3 179.9,558.4 180.9,558.4 181.9,558.9 182.9,558.6 183.9,558.6 184.9,558.3 185.9,558.3 186.9,558.2 187.9,558.9 188.9,558.6 189.9,558.8 190.9,558.7 191.9,558.3 192.9,558.6 193.9,558.0 194.9,558.8 195.9,558.6 196.9,558.7 197.9,558.6 198.9,558.8 199.9,558.5 200.9,558.6 201.9,558.4 202.9,558.5 203.9,558.7 204.9,558.8 205.9,558.5 206.9,558.1 207.9,558.0 208.9,558.5 209.9,558.3 210.9,558.7 211.9,559.0 212.9,558.3 213.9,558.9 214.9,558.9 215.9,558.2 216.9,558.4 217.9,558.8 218.9,558.3 219.9,558.2 220.9,558.8 221.9,558.3 222.9,558.3 223.9,558.7 224.9,558.6 225.9,558.6 226.9,559.0 227.9,558.9 228.9,558.0 229.9,558.8 230.9,558.5 231.9,558.6 232.9,558.8 233.9,559.1 234.9,558.7 235.9,558.5 236.9,558.6 237.9,558.0 238.9,558.6 239.9,558.5 240.9,558.1 241.9,558.0 242.9,558.1 243.9,558.2 244.9,558.6 245.9,558.4 246.9,558.2 247.9,558.3 248.9,558.8 249.9,558.3 250.9,558.2 251.9,559.0 252.9,558.1 253.9,558.5 254.9,558.6 255.9,558.4 256.9,558.3 257.9,558.7 258.9,558.4 259.9,558.5 260.9,558.3 261.9,558.8 262.9,558.0 263.9,557.9 264.9,558.0 265.9,558.2 266.9,558.2 267.9,558.3 268.9,558.1 269.9,558.4 270.9,557.8 271.9,557.8 272.9,558.1 273.9,558.0 274.9,557.9 275.9,558.0 276.9,557.9 277.9,558.2 278.9,558.3 279.9,558.5 280.9,558.1 281.9,557.9 282.9,557.7 283.9,557.7 284.9,557.6 285.9,558.2 286.9,558.5 287.9,557.9 288.9,558.0 289.9,557.3 290.9,557.9 291.9,557.7 292.9,557.9 293.9,557.6 294.9,557.6 295.9,557.5 296.9,557.5 297.9,558.3 298.9,557.9 299.9,557.2 300.9,557.5 301.9,557.4 302.9,558.1 303.9,556.9 304.9,557.6 305.9,557.6 306.9,557.9 307.9,557.8 308.9,557.1 309.9,556.6 310.9,556.8 311.9,556.8 312.9,556.8 313.9,556.6 314.9,556.3 315.9,556.7 316.9,556.5 317.9,556.1 318.9,555.9 319.9,555.7 320.9,555.3 321.9,556.0 322.9,554.8 323.9,554.3 324.9,554.4 325.9,553.2 326.9,552.7 327.9,551.4 328.9,550.6 329.9,549.0 330.9,548.4 331.9,547.4 332.9,545.2 333.9,543.3 334.9,541.5 335.9,539.3 336.9,536.3 337.9,533.8 338.9,531.3 339.9,529.2 340.9,525.8 341.9,523.4 342.9,521.0 343.9,518.8 344.9,516.9 345.9,515.2 346.9,514.6 347.9,513.4 348.9,514.2 349.9,514.2 350.9,515.4 351.9,516.3 352.9,518.7 353.9,520.4 354.9,522.7 355.9,525.9 356.9,528.2 357.9,530.5 358.9,532.7 359.9,536.0 360.9,538.1 361.9,540.4 362.9,542.4 363.9,544.3 364.9,544.8 365.9,545.9 366.9,548.2 367.9,548.5 368.9,550.2 369.9,550.6 370.9,551.0 371.9,551.4 372.9,551.2 373.9,551.8 374.9,551.8 375.9,551.9 376.9,552.2 377.9,551.1 378.9,551.2 379.9,551.0 380.9,549.8 381.9,549.1 382.9,548.4 383.9,547.5 384.9,546.5 385.9,546.2 386.9,545.4 387.9,544.0 388.9,542.4 389.9,541.1 390.9,540.1 391.9,538.4 392.9,537.1 393.9,535.5 394.9,534.5 395.9,532.9 396.9,531.4 397.9,529.6 398.9,528.5 399.9,527.6 400.9,526.9 401.9,525.2 402.9,525.4 403.9,524.0 404.9,523.6 405.9,523.7 406.9,523.4 407.9,523.9 408.9,524.3 409.9,524.7 410.9,525.5 411.9,526.5 412.9,527.5 413.9,528.6 414.9,528.8 415.9,529.0 416.9,529.9 417.9,530.0 418.9,530.8 419.9,530.7 420.9,531.0 421.9,530.5 422.9,530.0 423.9,529.1 424.9,528.6 425.9,526.2 426.9,525.5 427.9,523.6 428.9,521.3 429.9,518.9 430.9,516.4 431.9,513.5 432.9,510.6 433.9,508.3 434.9,505.5 435.9,502.8 436.9,499.9 437.9,497.9 438.9,495.7 439.9,494.4 440.9,492.6 441.9,491.2 442.9,491.4 443.9,492.2 444.9,492.6 445.9,494.7 446.9,496.2 447.9,498.8 448.9,501.5 449.9,504.1 450.9,507.7 451.9,511.1 452.9,513.9 453.9,517.3 454.9,520.5 455.9,524.1 456.9,527.3 457.9,529.7 458.9,532.5 459.9,535.5 460.9,537.7 461.9,540.4 462.9,541.9 463.9,543.5 464.9,545.0 465.9,546.6 466.9,547.6 467.9,549.3 468.9,550.7 469.9,550.6 470.9,551.4 471.9,552.2 472.9,553.0 473.9,553.3 474.9,554.3 475.9,554.7 476.9,554.5 477.9,554.9 478.9,555.0 479.9,555.6 480.9,556.2 481.9,555.5 482.9,555.8 483.9,555.7 484.9,556.3 485.9,556.4 486.9,556.2 487.9,556.4 488.9,557.3 489.9,557.3 490.9,556.5 491.9,556.8 492.9,556.8 493.9,557.1 494.9,556.7 495.9,557.2 496.9,557.4 497.9,557.5 498.9,556.8 499.9,557.8 500.9,557.0 501.9,556.9 502.9,557.7 503.9,557.7 504.9,557.5 505.9,557.8 506.9,557.8 507.9,557.7 508.9,557.3 509.9,557.5 510.9,557.7 511.9,558.1 512.9,558.2 513.9,557.7 514.9,557.6 515.9,557.6 516.9,558.1 517.9,557.6 518.9,558.5 519.9,557.9 520.9,557.9 521.9,558.1 522.9,557.9 523.9,557.7 524.9,558.0 525.9,558.1 526.9,557.9 527.9,558.0 528.9,558.0 529.9,557.5 530.9,557.8 531.9,558.0 532.9,557.8 533.9,558.3 534.9,558.3 535.9,557.5 536.9,558.0 537.9,558.3 538.9,558.1 539.9,558.3 540.9,558.4 541.9,557.7 542.9,558.3 543.9,558.0 544.9,557.5 545.9,558.4 546.9,558.0 547.9,558.2 548.9,558.5 549.9,558.6 550.9,558.2 551.9,558.0 552.9,558.1 553.9,558.6 554.9,558.2 555.9,558.9 556.9,558.8 557.9,558.1 558.9,558.9 559.9,558.2 560.9,558.3 561.9,558.3 562.9,558.0 563.9,558.4 564.9,558.6 565.9,559.1 566.9,558.8 567.9,558.2 568.9,558.5 569.9,558.7 570.9,558.4 571.9,558.2 572.9,558.4 573.9,558.1 574.9,558.4 575.9,558.3 576.9,558.8 577.9,558.3 578.9,558.0 579.9,558.6 580.9,558.3 581.9,558.1 582.9,558.5 583.9,558.2 584.9,557.9 585.9,558.1 586.9,558.8 587.9,558.9 588.9,558.3 589.9,558.5 590.9,557.9 591.9,558.7 592.9,558.4 593.9,558.6 594.9,558.3 595.9,558.4 596.9,557.9 597.9,558.5 598.9,558.2 599.9,558.5 600.9,558.9 601.9,557.7 602.9,558.7 603.9,558.5 604.9,558.5 605.9,558.7 606.9,558.3 607.9,557.8 608.9,558.2 609.9,558.3 610.9,557.7 611.9,558.5 612.9,558.5 613.9,558.0 614.9,558.4 615.9,558.4 616.9,558.4 617.9,558.4 618.9,558.7 619.9,558.4 620.9,559.0 621.9,558.4 622.9,558.8 623.9,558.8 624.9,557.9 625.9,558.4 626.9,558.5 627.9,558.5 628.9,558.5 629.9,558.7 630.9,558.6 631.9,558.3 632.9,558.7 633.9,558.3 634.9,558.5 635.9,558.2 636.9,557.9 637.9,558.0 638.9,558.8 639.9,558.5 640.9,558.1 641.9,558.5 642.9,558.0 643.9,558.0 644.9,557.7 645.9,558.1 646.9,558.4 647.9,559.0 648.9,558.1 649.9,558.3 650.9,558.3 651.9,558.4 652.9,557.9 653.9,557.7 654.9,558.3 655.9,557.6 656.9,558.1 657.9,557.8 658.9,557.9 659.9,557.9 660.9,557.2 661.9,558.3 662.9,557.1 663.9,557.0 664.9,557.4 665.9,556.1 666.9,556.6 667.9,556.7 668.9,556.2 669.9,556.0 670.9,555.6 671.9,555.2 672.9,554.8 673.9,555.0 674.9,554.1 675.9,553.1 676.9,552.8 677.9,552.6 678.9,552.2 679.9,550.8 680.9,550.6 681.9,549.4 682.9,549.4 683.9,549.7 684.9,549.1 685.9,548.5 686.9,548.1 687.9,548.5 688.9,548.6 689.9,548.9 690.9,549.4 691.9,549.7 692.9,549.6 693.9,550.4 694.9,551.1 695.9,551.4 696.9,552.8 697.9,552.6 698.9,553.6 699.9,554.1 700.9,554.5 701.9,554.9 702.9,555.1 703.9,555.7 704.9,556.3 705.9,556.0 706.9,557.0 707.9,556.6 708.9,557.3 709.9,557.1 710.9,557.9 711.9,558.0 712.9,558.1 713.9,558.4 714.9,557.7 715.9,556.9 716.9,557.4 717.9,557.6 718.9,558.3 719.9,558.3 720.9,557.7 721.9,558.3 722.9,558.0 723.9,558.0 724.9,558.2 725.9,557.7 726.9,558.4 727.9,558.4 728.9,558.8 729.9,558.5 730.9,558.4 731.9,558.7 732.9,558.3 733.9,558.4 734.9,558.0 735.9,558.1 736.9,558.3 737.9,558.7 738.9,558.9 739.9,558.9 740.9,558.3 741.9,558.4 742.9,558.1 743.9,557.9 744.9,558.7 745.9,558.0 746.9,558.6 747.9,558.3 748.9,558.4 749.9,558.8 750.9,558.2 751.9,558.6 752.9,558.2 753.9,558.4 754.9,558.4 755.9,558.5 756.9,558.1 757.9,558.4 758.9,558.6 759.9,558.2 760.9,558.6 761.9,558.6 762.9,558.4 763.9,558.3 764.9,558.5 765.9,558.2 766.9,558.6 767.9,558.5 768.9,558.9 769.9,558.4 770.9,558.1 771.9,558.6 772.9,558.3 773.9,558.9 774.9,558.1 775.9,558.2 776.9,558.4 777.9,558.4 778.9,558.5 779.9,559.2 780.9,558.4 781.9,558.9 782.9,558.3 783.9,558.3 784.9,558.4 785.9,558.9 786.9,558.5 787.9,558.6 788.9,558.3 789.9,558.4 790.9,559.2 791.9,558.1 792.9,557.8 793.9,558.4 794.9,558.1 795.9,558.0 796.9,557.7 797.9,558.5 798.9,558.4 799.9,558.3 800.9,558.6 801.9,558.7 802.9,558.4 803.9,558.6 804.9,557.9 805.9,558.5 806.9,558.0 807.9,558.3 808.9,558.8 809.9,558.3 810.9,558.9 811.9,558.7 812.9,558.6 813.9,557.9 814.9,558.3 815.9,558.4 816.9,558.6 817.9,558.3 818.9,557.8 819.9,558.5 820.9,557.8 821.9,558.0 822.9,557.6 823.9,558.2 824.9,558.4 825.9,558.5 826.9,557.8 827.9,558.3 828.9,558.2 829.9,558.3 830.9,558.4 831.9,558.2 832.9,558.6 833.9,557.7 834.9,558.2 835.9,558.1 836.9,557.6 837.9,558.0 838.9,557.9 839.9,557.6 840.9,558.0 841.9,557.8 842.9,558.1 843.9,557.6 844.9,558.1 845.9,557.7 846.9,557.6 847.9,557.8 848.9,558.0 849.9,557.3 850.9,557.2 851.9,557.0 852.9,557.0 853.9,556.1 854.9,557.0 855.9,556.8 856.9,556.5 857.9,555.7 858.9,554.8 859.9,554.6 860.9,554.5 861.9,553.8 862.9,552.9 863.9,552.6 864.9,551.6 865.9,550.9 866.9,550.5 867.9,549.3 868.9,548.2 869.9,547.4 870.9,546.4 871.9,545.7 872.9,544.7 873.9,543.6 874.9,542.2 875.9,541.2 876.9,541.0 877.9,539.6 878.9,538.8 879.9,538.7 880.9,537.8 881.9,538.4 882.9,538.6 883.9,538.6 884.9,537.9 885.9,539.6 886.9,540.5 887.9,541.3 888.9,543.0 889.9,543.0 890.9,544.2 891.9,545.7 892.9,546.5 893.9,547.8 894.9,548.5 895.9,549.3 896.9,550.0 897.9,551.1 898.9,551.8 899.9,552.9 900.9,553.4 901.9,553.3 902.9,554.7 903.9,554.7 904.9,554.9 905.9,556.3 906.9,555.9 907.9,556.3 908.9,556.6 909.9,556.3 910.9,556.9 911.9,557.1 912.9,556.9 913.9,557.3 914.9,557.6 915.9,557.5 916.9,556.9 917.9,557.5 918.9,557.7 919.9,558.2 920.9,557.9 921.9,557.9 922.9,557.5 923.9,558.0 924.9,558.6 925.9,557.9 926.9,557.8 927.9,558.0 928.9,558.2 929.9,557.9 930.9,558.1 931.9,557.7 932.9,558.0 933.9,558.1 934.9,557.9 935.9,557.8 936.9,558.6 937.9,558.1 938.9,558.4 939.9,557.7 940.9,558.1 941.9,558.1 942.9,558.8 943.9,558.4 944.9,558.1 945.9,558.4 946.9,558.2 947.9,558.3 948.9,557.7 949.9,557.5 950.9,558.2 951.9,558.2 952.9,558.2 953.9,558.6 954.9,558.1 955.9,558.2 956.9,558.0 957.9,557.6 958.9,557.8 959.9,558.0 960.9,558.1 961.9,558.6 962.9,558.3 963.9,558.1 964.9,557.6 965.9,558.3 966.9,558.0 967.9,557.3 968.9,558.2 969.9,558.1 970.9,558.2 971.9,558.1 972.9,557.8 973.9,558.0 974.9,557.7 975.9,557.9 976.9,558.0 977.9,558.0 978.9,557.6 979.9,558.3 980.9,557.7 981.9,557.1 982.9,558.1 983.9,557.9 984.9,558.0 985.9,557.4 986.9,557.3 987.9,557.0 988.9,557.3 989.9,557.2 990.9,557.0 991.9,556.8 992.9,556.1 993.9,556.2 994.9,556.0 995.9,555.5 996.9,555.7 997.9,554.1 998.9,554.4 999.9,553.8 1000.9,553.4 1001.9,552.8 1002.9,552.2 1003.9,551.7 1004.9,551.0 1005.9,550.0 1006.9,550.0 1007.9,549.3 1008.9,548.1 1009.9,548.1 1010.9,547.3 1011.9,547.0 1012.9,546.4 1013.9,545.8 1014.9,546.0 1015.9,545.2 1016.9,546.2 1017.9,545.6 1018.9,545.8 1019.9,546.6 1020.9,546.8 1021.9,547.5 1022.9,548.4 1023.9,548.7 1024.9,549.0 1025.9,549.4 1026.9,550.3 1027.9,550.6 1028.9,551.6 1029.9,551.3 1030.9,552.5 1031.9,553.1 1032.9,553.5 1033.9,554.4 1034.9,554.9 1035.9,554.4 1036.9,555.8 1037.9,555.6 1038.9,556.1 1039.9,556.4 1040.9,556.4 1041.9,556.7 1042.9,557.0 1043.9,556.8 1044.9,557.2 1045.9,557.5 1046.9,557.3 1047.9,557.4 1048.9,557.4 1049.9,557.4 1050.9,557.5 1051.9,557.2 1052.9,557.7 1053.9,557.5 1054.9,557.9 1055.9,558.3 1056.9,558.1 1057.9,557.7 1058.9,558.0 1059.9,557.8 1060.9,557.6 1061.9,558.0 1062.9,558.2 1063.9,558.0 1064.9,557.8 1065.9,557.5 1066.9,557.7 1067.9,557.9 1068.9,557.8 1069.9,557.9 1070.9,557.5 1071.9,556.8 1072.9,557.8 1073.9,557.7 1074.9,557.9 1075.9,557.8 1076.9,557.5 1077.9,557.0 1078.9,556.6 1079.9,556.8 1080.9,556.6 1081.9,556.3 1082.9,556.5 1083.9,556.8 1084.9,556.2 1085.9,556.4 1086.9,556.4 1087.9,555.8 1088.9,555.9 1089.9,555.7 1090.9,555.4 1091.9,556.0 1092.9,556.0 1093.9,555.9 1094.9,555.6 1095.9,555.3 1096.9,555.9 1097.9,554.9 1098.9,555.5 1099.9,555.2 1100.9,554.8 1101.9,555.4 1102.9,555.4 1103.9,554.6 1104.9,554.3 1105.9,554.2 1106.9,553.8 1107.9,554.1 1108.9,552.8 1109.9,552.4 1110.9,552.3 1111.9,551.5 1112.9,550.9 1113.9,550.3 1114.9,549.8 1115.9,549.5 1116.9,548.2 1117.9,548.2 1118.9,547.0 1119.9,546.3 1120.9,546.3 1121.9,545.7 1122.9,545.4 1123.9,545.0 1124.9,544.4 1125.9,544.1 1126.9,544.4 1127.9,544.2 1128.9,544.6 1129.9,545.5 1130.9,544.9 1131.9,545.3 1132.9,546.4 1133.9,546.9 1134.9,547.0 1135.9,547.6 1136.9,547.9 1137.9,548.3 1138.9,548.9 1139.9,549.5 1140.9,549.1 1141.9,549.4 1142.9,550.2 1143.9,550.2 1144.9,550.9 1145.9,550.9 1146.9,550.9 1147.9,551.3 1148.9,552.4 1149.9,551.7 1150.9,551.7 1151.9,551.6 1152.9,552.6 1153.9,553.1 1154.9,553.0 1155.9,553.3 1156.9,553.5 1157.9,554.0 1158.9,554.1 1159.9,554.6 1160.9,554.9 1161.9,555.1 1162.9,555.9 1163.9,555.5 1164.9,555.8 1165.9,555.9 1166.9,556.3 1167.9,556.6 1168.9,557.2 1169.9,556.8 1170.9,557.0 1171.9,557.2 1172.9,557.0 1173.9,557.4 1174.9,556.9 1175.9,557.8 1176.9,557.9 1177.9,558.0 1178.9,558.3 1179.9,558.1 1180.9,558.3 1181.9,558.2 1182.9,558.1 1183.9,558.2 1184.9,558.3 1185.9,558.3 1186.9,557.7 1187.9,557.8 1188.9,558.0 1189.9,557.8 1190.9,558.0 1191.9,557.9 1192.9,557.9 1193.9,558.2 1194.9,558.6 1195.9,558.7 1196.9,558.7 1197.9,558.7 1198.9,557.5 1199.9,558.8 1200.9,558.3 1201.9,557.8 1202.9,558.0 1203.9,558.0 1204.9,557.9 1205.9,558.5 1206.9,558.1 1207.9,558.7 1208.9,558.6 1209.9,557.5 1210.9,557.9 1211.9,558.2 1212.9,558.1 1213.9,557.9 1214.9,557.8 1215.9,557.7 1216.9,557.6 1217.9,557.9 1218.9,557.7 1219.9,557.4 1220.9,557.1 1221.9,557.7 1222.9,557.6 1223.9,556.8 1224.9,557.6 1225.9,557.2 1226.9,557.7 1227.9,557.6 1228.9,558.0 1229.9,557.4 1230.9,558.2 1231.9,557.8 1232.9,558.5 1233.9,558.0 1234.9,558.0 1235.9,557.8 1236.9,558.6 1237.9,558.6 1238.9,558.3 1239.9,558.1 1240.9,558.1 1241.9,558.2 1242.9,558.4 1243.9,558.1 1244.9,558.2 1245.9,558.5 1246.9,558.3 1247.9,558.3 1248.9,558.8 1249.9,559.0 1250.9,558.7 1251.9,558.7 1252.9,558.7 1253.9,558.6 1254.9,558.6 1255.9,558.7 1256.9,558.3 1257.9,558.2 1258.9,558.4 1259.9,558.4 1260.9,558.8 1261.9,558.9 1262.9,558.6 1263.9,558.3 1264.9,558.3 1265.9,558.1 1266.9,558.6 1267.9,558.9 1268.9,558.4 1269.9,558.5 1270.9,558.7 1271.9,558.6 1272.9,558.8" stroke="#ddb535" stroke-width="3.9"/>
<path d="M94.9,559.0 95.9,558.8 96.9,559.4 97.9,559.1 98.9,558.8 99.9,558.5 100.9,558.5 101.9,558.8 102.9,558.2 103.9,558.8 104.9,558.3 105.9,558.5 106.9,558.6 107.9,559.1 108.9,558.9 109.9,559.2 110.9,559.0 111.9,558.5 112.9,558.8 113.9,558.5 114.9,559.4 115.9,558.5 116.9,558.9 117.9,558.4 118.9,558.8 119.9,559.1 120.9,559.0 121.9,559.0 122.9,559.1 123.9,558.5 124.9,558.5 125.9,558.5 126.9,558.7 127.9,558.5 128.9,558.1 129.9,558.7 130.9,558.4 131.9,558.9 132.9,558.6 133.9,558.3 134.9,559.0 135.9,559.1 136.9,558.7 137.9,558.6 138.9,558.3 139.9,559.2 140.9,558.3 141.9,558.9 142.9,559.3 143.9,558.7 144.9,558.1 145.9,559.0 146.9,558.9 147.9,559.3 148.9,558.4 149.9,559.0 150.9,558.2 151.9,558.8 152.9,559.2 153.9,559.1 154.9,558.7 155.9,558.6 156.9,558.8 157.9,558.6 158.9,558.7 159.9,558.8 160.9,558.4 161.9,558.6 162.9,558.9 163.9,558.4 164.9,559.0 165.9,559.1 166.9,558.6 167.9,558.9 168.9,558.8 169.9,558.2 170.9,559.1 171.9,559.0 172.9,558.4 173.9,558.7 174.9,558.5 175.9,559.1 176.9,558.6 177.9,559.0 178.9,558.8 179.9,558.2 180.9,559.0 181.9,558.6 182.9,558.9 183.9,559.3 184.9,558.9 185.9,558.6 186.9,558.7 187.9,558.6 188.9,559.0 189.9,559.1 190.9,557.9 191.9,558.5 192.9,558.6 193.9,559.0 194.9,558.7 195.9,559.1 196.9,559.1 197.9,558.4 198.9,558.6 199.9,558.7 200.9,558.3 201.9,558.5 202.9,558.3 203.9,558.7 204.9,558.5 205.9,558.9 206.9,559.0 207.9,558.8 208.9,558.9 209.9,558.6 210.9,559.2 211.9,559.0 212.9,558.7 213.9,558.4 214.9,558.6 215.9,558.5 216.9,559.1 217.9,558.6 218.9,558.2 219.9,558.3 220.9,558.1 221.9,558.5 222.9,558.8 223.9,558.8 224.9,558.6 225.9,558.8 226.9,559.1 227.9,558.8 228.9,558.6 229.9,558.1 230.9,558.4 231.9,558.6 232.9,559.1 233.9,558.3 234.9,558.6 235.9,558.2 236.9,558.0 237.9,558.8 238.9,558.1 239.9,558.6 240.9,558.3 241.9,557.8 242.9,558.6 243.9,558.2 244.9,557.6 245.9,558.8 246.9,559.2 247.9,558.3 248.9,558.4 249.9,558.4 250.9,558.2 251.9,558.6 252.9,558.0 253.9,558.3 254.9,559.2 255.9,558.8 256.9,558.7 257.9,558.8 258.9,558.6 259.9,558.4 260.9,558.5 261.9,558.1 262.9,557.9 263.9,558.5 264.9,558.2 265.9,558.6 266.9,558.8 267.9,558.5 268.9,558.5 269.9,558.2 270.9,558.2 271.9,558.3 272.9,558.2 273.9,558.5 274.9,558.1 275.9,558.7 276.9,558.3 277.9,558.5 278.9,558.6 279.9,558.3 280.9,558.5 281.9,558.1 282.9,558.6 283.9,558.7 284.9,558.5 285.9,558.2 286.9,558.7 287.9,557.9 288.9,558.3 289.9,558.3 290.9,558.6 291.9,557.9 292.9,558.1 293.9,558.0 294.9,557.6 295.9,557.6 296.9,558.3 297.9,558.1 298.9,557.9 299.9,558.2 300.9,558.0 301.9,557.7 302.9,557.5 303.9,558.0 304.9,557.4 305.9,557.9 306.9,557.8 307.9,558.2 308.9,558.2 309.9,557.5 310.9,557.6 311.9,558.0 312.9,557.5 313.9,556.9 314.9,556.9 315.9,557.2 316.9,556.8 317.9,556.7 318.9,556.9 319.9,556.6 320.9,556.8 321.9,556.9 322.9,556.2 323.9,556.2 324.9,555.5 325.9,555.7 326.9,554.7 327.9,554.8 328.9,554.5 329.9,553.5 330.9,552.6 331.9,551.9 332.9,550.8 333.9,549.2 334.9,548.1 335.9,547.1 336.9,545.0 337.9,542.9 338.9,540.5 339.9,538.5 340.9,535.6 341.9,534.3 342.9,531.8 343.9,529.2 344.9,527.5 345.9,525.6 346.9,524.5 347.9,524.3 348.9,524.8 349.9,525.4 350.9,526.6 351.9,528.1 352.9,530.5 353.9,533.2 354.9,534.7 355.9,537.0 356.9,539.2 357.9,541.4 358.9,542.9 359.9,545.5 360.9,546.6 361.9,547.9 362.9,549.7 363.9,551.1 364.9,551.7 365.9,551.8 366.9,553.2 367.9,553.8 368.9,553.8 369.9,554.6 370.9,554.6 371.9,555.0 372.9,555.2 373.9,554.8 374.9,554.9 375.9,555.0 376.9,555.0 377.9,554.5 378.9,554.5 379.9,554.6 380.9,554.5 381.9,553.3 382.9,553.6 383.9,553.6 384.9,553.3 385.9,551.8 386.9,551.3 387.9,550.7 388.9,550.2 389.9,549.4 390.9,548.3 391.9,547.3 392.9,546.2 393.9,545.2 394.9,544.3 395.9,543.5 396.9,541.9 397.9,540.5 398.9,539.1 399.9,538.1 400.9,536.3 401.9,536.0 402.9,535.3 403.9,534.3 404.9,533.8 405.9,533.7 406.9,533.6 407.9,533.8 408.9,534.4 409.9,534.9 410.9,535.5 411.9,536.4 412.9,537.0 413.9,538.2 414.9,539.6 415.9,540.5 416.9,541.2 417.9,542.4 418.9,542.5 419.9,543.8 420.9,544.2 421.9,544.6 422.9,545.1 423.9,545.2 424.9,544.4 425.9,544.1 426.9,543.5 427.9,543.0 428.9,541.9 429.9,540.3 430.9,538.1 431.9,536.2 432.9,533.8 433.9,530.7 434.9,527.8 435.9,525.3 436.9,521.6 437.9,518.6 438.9,515.0 439.9,512.2 440.9,509.4 441.9,507.6 442.9,505.8 443.9,505.4 444.9,504.9 445.9,505.7 446.9,506.8 447.9,509.5 448.9,511.9 449.9,515.4 450.9,518.4 451.9,521.4 452.9,525.1 453.9,527.6 454.9,532.1 455.9,534.9 456.9,537.9 457.9,540.0 458.9,543.1 459.9,545.4 460.9,546.8 461.9,547.3 462.9,549.6 463.9,550.6 464.9,551.5 465.9,552.1 466.9,553.1 467.9,553.6 468.9,553.4 469.9,554.2 470.9,554.5 471.9,554.8 472.9,555.4 473.9,555.9 474.9,556.0 475.9,556.3 476.9,556.2 477.9,555.6 478.9,556.7 479.9,556.7 480.9,557.0 481.9,556.4 482.9,556.7 483.9,557.0 484.9,557.1 485.9,557.1 486.9,557.1 487.9,556.8 488.9,557.2 489.9,557.6 490.9,557.7 491.9,557.5 492.9,557.4 493.9,557.5 494.9,557.5 495.9,557.9 496.9,557.8 497.9,557.8 498.9,557.5 499.9,557.6 500.9,558.2 501.9,557.8 502.9,557.8 503.9,558.7 504.9,557.7 505.9,557.5 506.9,558.1 507.9,557.9 508.9,558.4 509.9,557.9 510.9,558.2 511.9,558.3 512.9,558.1 513.9,557.6 514.9,558.1 515.9,558.2 516.9,558.2 517.9,558.2 518.9,557.3 519.9,558.5 520.9,558.3 521.9,558.5 522.9,558.0 523.9,558.3 524.9,558.4 525.9,558.2 526.9,558.4 527.9,558.0 528.9,558.6 529.9,558.8 530.9,558.5 531.9,558.5 532.9,557.8 533.9,558.2 534.9,558.4 535.9,558.3 536.9,558.4 537.9,558.2 538.9,558.4 539.9,558.6 540.9,558.4 541.9,558.5 542.9,558.7 543.9,558.0 544.9,557.9 545.9,558.3 546.9,558.4 547.9,558.1 548.9,558.8 549.9,558.0 550.9,558.1 551.9,558.4 552.9,558.4 553.9,558.3 554.9,558.3 555.9,558.5 556.9,558.4 557.9,558.7 558.9,558.8 559.9,558.3 560.9,558.2 561.9,558.4 562.9,558.5 563.9,557.7 564.9,558.7 565.9,558.7 566.9,558.3 567.9,558.3 568.9,559.3 569.9,558.3 570.9,558.4 571.9,558.5 572.9,558.9 573.9,558.2 574.9,558.9 575.9,558.5 576.9,558.3 577.9,558.0 578.9,559.1 579.9,558.3 580.9,558.3 581.9,558.7 582.9,557.9 583.9,558.5 584.9,558.1 585.9,558.6 586.9,558.5 587.9,558.9 588.9,558.5 589.9,558.7 590.9,558.4 591.9,558.6 592.9,558.5 593.9,558.4 594.9,558.9 595.9,558.6 596.9,558.6 597.9,558.8 598.9,558.4 599.9,558.7 600.9,558.6 601.9,558.2 602.9,558.4 603.9,558.8 604.9,558.7 605.9,558.5 606.9,558.7 607.9,558.0 608.9,558.9 609.9,558.4 610.9,558.6 611.9,558.5 612.9,558.3 613.9,558.2 614.9,558.7 615.9,558.7 616.9,559.1 617.9,558.6 618.9,558.4 619.9,558.6 620.9,558.1 621.9,558.6 622.9,558.3 623.9,558.7 624.9,558.2 625.9,558.5 626.9,558.8 627.9,558.6 628.9,558.7 629.9,558.7 630.9,558.7 631.9,558.2 632.9,558.8 633.9,559.5 634.9,558.4 635.9,558.4 636.9,558.6 637.9,557.9 638.9,557.8 639.9,558.5 640.9,558.5 641.9,558.5 642.9,558.6 643.9,558.0 644.9,558.1 645.9,558.3 646.9,558.2 647.9,558.5 648.9,558.8 649.9,558.6 650.9,558.0 651.9,557.8 652.9,558.3 653.9,558.5 654.9,558.3 655.9,558.0 656.9,558.6 657.9,557.8 658.9,558.0 659.9,558.1 660.9,557.6 661.9,557.6 662.9,557.6 663.9,557.2 664.9,557.1 665.9,556.7 666.9,556.9 667.9,557.3 668.9,556.2 669.9,555.8 670.9,555.8 671.9,555.6 672.9,555.1 673.9,553.9 674.9,554.3 675.9,552.9 676.9,553.6 677.9,552.5 678.9,552.5 679.9,551.2 680.9,550.8 681.9,550.3 682.9,549.4 683.9,548.9 684.9,548.9 685.9,547.9 686.9,548.5 687.9,549.0 688.9,549.0 689.9,548.6 690.9,549.3 691.9,549.7 692.9,549.9 693.9,551.1 694.9,551.3 695.9,552.0 696.9,552.0 697.9,552.8 698.9,553.8 699.9,554.4 700.9,554.2 701.9,555.0 702.9,555.6 703.9,556.0 704.9,556.1 705.9,556.4 706.9,557.0 707.9,557.2 708.9,556.8 709.9,557.6 710.9,557.4 711.9,557.7 712.9,557.5 713.9,557.5 714.9,557.8 715.9,558.6 716.9,558.5 717.9,558.1 718.9,558.2 719.9,558.6 720.9,557.7 721.9,558.1 722.9,558.0 723.9,558.6 724.9,558.1 725.9,557.9 726.9,558.3 727.9,558.0 728.9,558.2 729.9,558.6 730.9,558.4 731.9,558.4 732.9,558.2 733.9,558.4 734.9,558.4 735.9,558.1 736.9,558.1 737.9,558.3 738.9,558.4 739.9,557.9 740.9,558.4 741.9,558.2 742.9,557.8 743.9,558.6 744.9,558.9 745.9,558.5 746.9,558.4 747.9,558.7 748.9,558.5 749.9,558.3 750.9,558.7 751.9,558.9 752.9,558.6 753.9,558.1 754.9,558.6 755.9,558.6 756.9,558.8 757.9,558.5 758.9,558.7 759.9,558.3 760.9,558.0 761.9,558.6 762.9,558.2 763.9,558.5 764.9,558.5 765.9,558.5 766.9,558.6 767.9,558.2 768.9,558.3 769.9,558.6 770.9,558.5 771.9,558.1 772.9,558.7 773.9,558.8 774.9,558.9 775.9,558.6 776.9,558.2 777.9,558.8 778.9,558.7 779.9,558.1 780.9,558.6 781.9,558.3 782.9,558.7 783.9,558.3 784.9,558.8 785.9,558.9 786.9,558.7 787.9,558.8 788.9,558.1 789.9,557.9 790.9,558.9 791.9,558.7 792.9,558.5 793.9,558.7 794.9,559.0 795.9,558.5 796.9,558.6 797.9,558.9 798.9,558.4 799.9,558.3 800.9,558.3 801.9,558.1 802.9,558.1 803.9,557.9 804.9,558.5 805.9,558.2 806.9,558.4 807.9,558.3 808.9,558.6 809.9,558.3 810.9,558.4 811.9,558.9 812.9,558.7 813.9,558.5 814.9,558.3 815.9,558.0 816.9,558.2 817.9,558.7 818.9,557.9 819.9,558.1 820.9,557.9 821.9,558.0 822.9,558.5 823.9,558.1 824.9,557.7 825.9,558.3 826.9,558.4 827.9,558.1 828.9,558.9 829.9,558.4 830.9,557.3 831.9,558.3 832.9,558.5 833.9,558.0 834.9,558.2 835.9,557.6 836.9,558.1 837.9,557.9 838.9,557.8 839.9,558.0 840.9,557.5 841.9,557.8 842.9,557.9 843.9,558.2 844.9,557.7 845.9,556.9 846.9,556.6 847.9,557.1 848.9,557.4 849.9,557.1 850.9,556.9 851.9,556.9 852.9,556.7 853.9,556.9 854.9,556.7 855.9,556.2 856.9,556.1 857.9,555.6 858.9,555.2 859.9,554.6 860.9,554.4 861.9,554.1 862.9,553.7 863.9,552.5 864.9,551.8 865.9,551.4 866.9,550.7 867.9,549.3 868.9,548.4 869.9,547.9 870.9,546.3 871.9,545.5 872.9,544.6 873.9,543.1 874.9,542.1 875.9,541.8 876.9,540.6 877.9,540.1 878.9,539.0 879.9,538.4 880.9,537.9 881.9,538.0 882.9,538.4 883.9,538.2 884.9,538.9 885.9,539.7 886.9,540.1 887.9,541.0 888.9,542.1 889.9,543.3 890.9,544.5 891.9,545.2 892.9,545.8 893.9,547.8 894.9,548.4 895.9,549.5 896.9,550.6 897.9,551.3 898.9,551.7 899.9,552.5 900.9,553.4 901.9,553.8 902.9,554.2 903.9,555.0 904.9,554.8 905.9,555.9 906.9,555.7 907.9,556.2 908.9,556.4 909.9,556.6 910.9,556.8 911.9,556.6 912.9,556.9 913.9,557.2 914.9,557.5 915.9,557.3 916.9,556.8 917.9,557.3 918.9,557.4 919.9,558.5 920.9,557.9 921.9,557.9 922.9,557.9 923.9,558.0 924.9,557.7 925.9,558.2 926.9,558.0 927.9,558.0 928.9,557.5 929.9,558.0 930.9,557.9 931.9,557.8 932.9,558.1 933.9,558.2 934.9,558.0 935.9,558.5 936.9,557.9 937.9,558.3 938.9,558.5 939.9,558.4 940.9,558.2 941.9,557.6 942.9,558.3 943.9,558.1 944.9,558.3 945.9,558.8 946.9,557.9 947.9,557.7 948.9,558.2 949.9,558.1 950.9,558.4 951.9,558.1 952.9,557.9 953.9,558.0 954.9,558.2 955.9,558.0 956.9,558.0 957.9,558.5 958.9,557.9 959.9,558.1 960.9,558.0 961.9,557.6 962.9,558.2 963.9,558.3 964.9,558.2 965.9,558.4 966.9,557.8 967.9,558.3 968.9,557.8 969.9,557.9 970.9,557.9 971.9,557.8 972.9,557.8 973.9,558.2 974.9,557.8 975.9,558.3 976.9,558.3 977.9,557.7 978.9,557.9 979.9,557.8 980.9,557.9 981.9,558.0 982.9,557.5 983.9,557.6 984.9,557.8 985.9,557.7 986.9,557.5 987.9,557.4 988.9,557.3 989.9,557.1 990.9,556.8 991.9,556.8 992.9,556.4 993.9,556.3 994.9,556.3 995.9,555.3 996.9,555.2 997.9,554.4 998.9,554.3 999.9,553.3 1000.9,552.9 1001.9,552.9 1002.9,552.0 1003.9,551.5 1004.9,550.9 1005.9,550.9 1006.9,549.7 1007.9,548.6 1008.9,549.0 1009.9,547.6 1010.9,547.6 1011.9,546.9 1012.9,546.8 1013.9,545.8 1014.9,545.5 1015.9,545.2 1016.9,545.8 1017.9,546.3 1018.9,546.1 1019.9,546.3 1020.9,547.0 1021.9,547.7 1022.9,547.9 1023.9,548.7 1024.9,548.9 1025.9,549.4 1026.9,550.6 1027.9,550.6 1028.9,551.5 1029.9,552.0 1030.9,552.5 1031.9,552.8 1032.9,553.8 1033.9,554.2 1034.9,554.4 1035.9,554.4 1036.9,555.4 1037.9,555.7 1038.9,556.1 1039.9,556.4 1040.9,556.0 1041.9,556.4 1042.9,556.4 1043.9,557.0 1044.9,557.4 1045.9,557.4 1046.9,557.5 1047.9,557.2 1048.9,557.6 1049.9,557.6 1050.9,557.3 1051.9,557.5 1052.9,557.2 1053.9,557.7 1054.9,557.5 1055.9,557.9 1056.9,557.9 1057.9,557.7 1058.9,558.2 1059.9,557.5 1060.9,557.7 1061.9,557.7 1062.9,558.0 1063.9,558.3 1064.9,558.2 1065.9,557.7 1066.9,558.1 1067.9,558.1 1068.9,558.3 1069.9,557.7 1070.9,557.9 1071.9,557.3 1072.9,557.5 1073.9,557.5 1074.9,557.2 1075.9,557.0 1076.9,556.8 1077.9,556.7 1078.9,556.8 1079.9,556.4 1080.9,556.7 1081.9,557.4 1082.9,556.5 1083.9,556.8 1084.9,556.4 1085.9,556.5 1086.9,556.2 1087.9,555.9 1088.9,556.0 1089.9,556.0 1090.9,555.9 1091.9,555.7 1092.9,555.6 1093.9,556.3 1094.9,555.8 1095.9,555.7 1096.9,555.3 1097.9,555.8 1098.9,555.4 1099.9,555.4 1100.9,555.6 1101.9,555.2 1102.9,554.8 1103.9,554.6 1104.9,554.0 1105.9,554.5 1106.9,553.4 1107.9,553.7 1108.9,553.0 1109.9,552.9 1110.9,552.5 1111.9,551.7 1112.9,551.3 1113.9,550.1 1114.9,549.8 1115.9,549.3 1116.9,548.3 1117.9,548.0 1118.9,547.5 1119.9,546.6 1120.9,545.6 1121.9,545.7 1122.9,544.8 1123.9,544.9 1124.9,544.4 1125.9,544.5 1126.9,544.0 1127.9,544.6 1128.9,544.2 1129.9,545.0 1130.9,545.5 1131.9,545.7 1132.9,546.5 1133.9,546.7 1134.9,547.0 1135.9,547.0 1136.9,548.1 1137.9,548.6 1138.9,549.4 1139.9,549.5 1140.9,549.1 1141.9,550.1 1142.9,550.1 1143.9,550.7 1144.9,550.9 1145.9,550.6 1146.9,551.4 1147.9,550.8 1148.9,551.2 1149.9,551.8 1150.9,552.2 1151.9,552.5 1152.9,552.1 1153.9,552.7 1154.9,553.0 1155.9,553.2 1156.9,553.6 1157.9,554.3 1158.9,554.4 1159.9,554.5 1160.9,554.9 1161.9,555.3 1162.9,555.2 1163.9,555.7 1164.9,556.3 1165.9,556.8 1166.9,555.7 1167.9,556.4 1168.9,556.5 1169.9,557.1 1170.9,556.5 1171.9,557.5 1172.9,557.5 1173.9,557.7 1174.9,557.5 1175.9,557.8 1176.9,558.1 1177.9,557.9 1178.9,557.4 1179.9,557.5 1180.9,557.9 1181.9,557.9 1182.9,557.7 1183.9,557.7 1184.9,557.7 1185.9,557.7 1186.9,558.8 1187.9,558.4 1188.9,558.1 1189.9,558.1 1190.9,558.4 1191.9,558.2 1192.9,558.1 1193.9,558.0 1194.9,558.2 1195.9,558.2 1196.9,558.0 1197.9,557.9 1198.9,558.3 1199.9,558.0 1200.9,558.5 1201.9,559.2 1202.9,557.9 1203.9,557.8 1204.9,558.1 1205.9,558.0 1206.9,558.1 1207.9,558.5 1208.9,558.2 1209.9,558.7 1210.9,557.8 1211.9,558.9 1212.9,557.9 1213.9,557.7 1214.9,558.1 1215.9,557.7 1216.9,557.7 1217.9,557.7 1218.9,557.4 1219.9,557.2 1220.9,557.8 1221.9,557.5 1222.9,557.2 1223.9,557.2 1224.9,558.1 1225.9,557.7 1226.9,557.8 1227.9,558.0 1228.9,558.2 1229.9,558.1 1230.9,558.0 1231.9,558.0 1232.9,557.9 1233.9,558.2 1234.9,557.7 1235.9,558.2 1236.9,558.3 1237.9,558.5 1238.9,557.7 1239.9,558.0 1240.9,558.4 1241.9,558.2 1242.9,558.3 1243.9,558.0 1244.9,558.7 1245.9,558.5 1246.9,558.5 1247.9,558.1 1248.9,558.3 1249.9,558.4 1250.9,558.5 1251.9,558.4 1252.9,558.3 1253.9,558.3 1254.9,557.9 1255.9,558.7 1256.9,558.8 1257.9,558.4 1258.9,558.3 1259.9,558.4 1260.9,558.7 1261.9,559.2 1262.9,558.3 1263.9,558.8 1264.9,558.9 1265.9,558.4 1266.9,558.8 1267.9,559.0 1268.9,558.7 1269.9,558.5 1270.9,558.2 1271.9,558.7 1272.9,559.1" stroke="#000" stroke-width="3.4"/>
<path d="M94.9,658.7 95.9,659.1 96.9,659.3 97.9,658.7 98.9,658.6 99.9,659.0 100.9,658.7 101.9,658.9 102.9,659.2 103.9,658.8 104.9,659.0 105.9,658.0 106.9,659.0 107.9,658.6 108.9,658.4 109.9,658.6 110.9,658.3 111.9,658.3 112.9,658.1 113.9,658.5 114.9,658.3 115.9,658.4 116.9,658.9 117.9,658.7 118.9,658.3 119.9,658.8 120.9,659.0 121.9,658.7 122.9,658.7 123.9,658.6 124.9,658.4 125.9,659.0 126.9,658.8 127.9,658.6 128.9,658.6 129.9,658.6 130.9,659.1 131.9,658.6 132.9,658.1 133.9,658.7 134.9,658.9 135.9,658.8 136.9,658.5 137.9,658.1 138.9,659.3 139.9,658.3 140.9,658.7 141.9,658.6 142.9,658.4 143.9,658.5 144.9,658.3 145.9,658.3 146.9,658.5 147.9,658.6 148.9,659.3 149.9,658.3 150.9,658.9 151.9,658.6 152.9,658.5 153.9,658.2 154.9,658.6 155.9,658.3 156.9,658.7 157.9,658.7 158.9,658.2 159.9,658.9 160.9,658.5 161.9,658.6 162.9,658.7 163.9,658.5 164.9,658.9 165.9,659.1 166.9,658.7 167.9,658.9 168.9,659.2 169.9,658.8 170.9,658.5 171.9,659.0 172.9,658.6 173.9,658.5 174.9,658.2 175.9,658.6 176.9,658.3 177.9,658.7 178.9,658.0 179.9,658.2 180.9,659.0 181.9,659.1 182.9,658.7 183.9,658.7 184.9,657.9 185.9,658.7 186.9,658.3 187.9,657.9 188.9,658.2 189.9,658.2 190.9,658.7 191.9,658.6 192.9,659.3 193.9,659.0 194.9,658.5 195.9,658.7 196.9,658.2 197.9,658.8 198.9,658.4 199.9,658.6 200.9,658.6 201.9,658.5 202.9,658.4 203.9,658.7 204.9,658.8 205.9,657.7 206.9,658.3 207.9,658.5 208.9,658.3 209.9,658.6 210.9,658.8 211.9,658.5 212.9,658.4 213.9,658.8 214.9,658.6 215.9,658.6 216.9,659.1 217.9,658.8 218.9,658.2 219.9,658.9 220.9,658.3 221.9,658.5 222.9,657.9 223.9,658.8 224.9,657.9 225.9,658.6 226.9,659.1 227.9,658.6 228.9,658.4 229.9,658.1 230.9,658.3 231.9,658.7 232.9,657.7 233.9,658.0 234.9,658.7 235.9,658.2 236.9,658.7 237.9,658.5 238.9,658.1 239.9,658.3 240.9,658.8 241.9,658.2 242.9,658.3 243.9,658.5 244.9,658.1 245.9,658.2 246.9,658.4 247.9,658.2 248.9,658.3 249.9,658.5 250.9,658.8 251.9,658.2 252.9,658.1 253.9,659.2 254.9,658.5 255.9,657.7 256.9,658.1 257.9,657.7 258.9,658.4 259.9,657.8 260.9,658.0 261.9,658.7 262.9,658.0 263.9,658.2 264.9,658.3 265.9,658.5 266.9,658.5 267.9,658.6 268.9,657.9 269.9,658.2 270.9,657.5 271.9,658.1 272.9,658.0 273.9,658.6 274.9,658.1 275.9,657.9 276.9,657.8 277.9,657.7 278.9,657.8 279.9,657.7 280.9,657.9 281.9,657.7 282.9,657.8 283.9,658.1 284.9,657.4 285.9,657.5 286.9,657.3 287.9,658.3 288.9,658.2 289.9,657.8 290.9,657.6 291.9,657.3 292.9,657.9 293.9,657.5 294.9,657.6 295.9,657.5 296.9,656.5 297.9,656.8 298.9,657.1 299.9,657.4 300.9,656.9 301.9,657.2 302.9,657.0 303.9,656.7 304.9,657.2 305.9,656.5 306.9,656.4 307.9,657.3 308.9,657.1 309.9,656.6 310.9,656.8 311.9,656.1 312.9,656.1 313.9,656.2 314.9,656.0 315.9,655.9 316.9,655.1 317.9,655.6 318.9,654.7 319.9,654.7 320.9,655.2 321.9,654.3 322.9,653.3 323.9,653.1 324.9,652.1 325.9,651.5 326.9,650.6 327.9,649.9 328.9,649.0 329.9,648.2 330.9,647.4 331.9,645.6 332.9,644.2 333.9,642.2 334.9,641.4 335.9,639.4 336.9,638.1 337.9,635.8 338.9,634.5 339.9,632.1 340.9,630.4 341.9,628.9 342.9,627.4 343.9,626.3 344.9,625.3 345.9,624.0 346.9,623.9 347.9,624.0 348.9,624.8 349.9,625.3 350.9,626.6 351.9,627.8 352.9,629.2 353.9,630.0 354.9,632.9 355.9,634.2 356.9,635.6 357.9,637.5 358.9,638.9 359.9,640.6 360.9,641.8 361.9,644.1 362.9,644.6 363.9,645.9 364.9,646.6 365.9,647.9 366.9,648.9 367.9,649.2 368.9,649.4 369.9,650.2 370.9,650.4 371.9,651.0 372.9,650.9 373.9,651.0 374.9,650.8 375.9,650.7 376.9,650.6 377.9,650.7 378.9,650.0 379.9,649.7 380.9,648.9 381.9,648.4 382.9,647.5 383.9,647.1 384.9,646.2 385.9,644.9 386.9,644.3 387.9,643.2 388.9,642.5 389.9,641.4 390.9,640.8 391.9,639.3 392.9,638.0 393.9,636.8 394.9,635.7 395.9,634.6 396.9,633.8 397.9,632.5 398.9,631.8 399.9,631.3 400.9,630.2 401.9,629.8 402.9,630.0 403.9,629.5 404.9,629.3 405.9,629.8 406.9,629.9 407.9,630.2 408.9,631.2 409.9,631.3 410.9,632.1 411.9,632.9 412.9,633.9 413.9,634.5 414.9,634.7 415.9,635.3 416.9,635.6 417.9,636.2 418.9,636.1 419.9,635.7 420.9,635.9 421.9,634.8 422.9,634.4 423.9,633.1 424.9,632.9 425.9,631.3 426.9,630.1 427.9,629.1 428.9,626.6 429.9,624.7 430.9,622.4 431.9,620.6 432.9,618.2 433.9,616.4 434.9,614.3 435.9,612.3 436.9,610.4 437.9,608.9 438.9,607.8 439.9,607.0 440.9,606.9 441.9,606.7 442.9,607.4 443.9,608.6 444.9,610.4 445.9,611.8 446.9,613.7 447.9,615.9 448.9,618.8 449.9,620.7 450.9,623.2 451.9,625.9 452.9,628.2 453.9,630.7 454.9,633.3 455.9,635.3 456.9,636.9 457.9,639.5 458.9,641.4 459.9,642.7 460.9,644.9 461.9,645.8 462.9,647.1 463.9,647.7 464.9,649.8 465.9,650.6 466.9,651.2 467.9,652.0 468.9,651.9 469.9,652.5 470.9,653.2 471.9,653.5 472.9,653.5 473.9,654.3 474.9,654.7 475.9,654.7 476.9,655.4 477.9,655.3 478.9,655.2 479.9,655.3 480.9,655.3 481.9,656.1 482.9,655.5 483.9,656.2 484.9,656.3 485.9,655.9 486.9,656.5 487.9,656.5 488.9,657.1 489.9,656.7 490.9,656.6 491.9,656.9 492.9,657.2 493.9,656.6 494.9,656.7 495.9,657.3 496.9,657.7 497.9,656.7 498.9,657.6 499.9,657.4 500.9,657.5 501.9,657.5 502.9,657.2 503.9,657.2 504.9,658.1 505.9,657.1 506.9,657.5 507.9,658.0 508.9,657.5 509.9,657.8 510.9,657.6 511.9,657.4 512.9,657.8 513.9,657.7 514.9,657.5 515.9,657.9 516.9,657.7 517.9,657.9 518.9,657.7 519.9,658.3 520.9,658.1 521.9,658.0 522.9,657.8 523.9,657.8 524.9,657.9 525.9,657.7 526.9,658.4 527.9,657.7 528.9,658.2 529.9,658.3 530.9,657.9 531.9,658.0 532.9,657.6 533.9,658.0 534.9,657.9 535.9,658.3 536.9,657.9 537.9,657.9 538.9,658.3 539.9,657.6 540.9,657.9 541.9,658.5 542.9,658.1 543.9,658.4 544.9,657.3 545.9,657.9 546.9,658.1 547.9,657.7 548.9,658.4 549.9,657.7 550.9,658.0 551.9,658.3 552.9,658.2 553.9,658.1 554.9,657.9 555.9,658.3 556.9,658.0 557.9,658.6 558.9,658.1 559.9,657.9 560.9,658.6 561.9,658.8 562.9,658.4 563.9,658.1 564.9,657.8 565.9,658.1 566.9,658.5 567.9,658.5 568.9,657.7 569.9,658.4 570.9,657.8 571.9,658.5 572.9,658.8 573.9,658.2 574.9,658.6 575.9,658.2 576.9,658.3 577.9,658.6 578.9,658.6 579.9,658.2 580.9,658.7 581.9,658.3 582.9,657.4 583.9,658.5 584.9,658.5 585.9,657.5 586.9,658.3 587.9,658.6 588.9,658.4 589.9,658.1 590.9,658.1 591.9,658.4 592.9,658.3 593.9,658.6 594.9,658.5 595.9,658.9 596.9,658.2 597.9,658.6 598.9,658.6 599.9,658.4 600.9,658.6 601.9,657.9 602.9,658.3 603.9,659.0 604.9,658.6 605.9,658.4 606.9,658.7 607.9,658.4 608.9,658.1 609.9,658.5 610.9,658.7 611.9,658.3 612.9,658.9 613.9,658.5 614.9,658.4 615.9,658.2 616.9,659.0 617.9,659.1 618.9,658.1 619.9,658.4 620.9,658.2 621.9,658.8 622.9,658.4 623.9,658.7 624.9,658.4 625.9,658.1 626.9,658.9 627.9,658.4 628.9,658.3 629.9,658.1 630.9,658.5 631.9,658.7 632.9,658.3 633.9,659.0 634.9,658.9 635.9,658.4 636.9,658.5 637.9,658.2 638.9,658.5 639.9,658.0 640.9,658.0 641.9,659.0 642.9,658.4 643.9,658.5 644.9,658.0 645.9,658.4 646.9,658.2 647.9,657.6 648.9,658.1 649.9,658.1 650.9,658.1 651.9,658.4 652.9,658.2 653.9,657.6 654.9,657.8 655.9,657.9 656.9,657.9 657.9,657.8 658.9,657.3 659.9,657.7 660.9,657.4 661.9,656.7 662.9,656.6 663.9,656.6 664.9,656.6 665.9,656.2 666.9,656.1 667.9,655.7 668.9,655.6 669.9,655.6 670.9,655.1 671.9,654.1 672.9,654.3 673.9,654.0 674.9,652.8 675.9,653.0 676.9,651.9 677.9,651.0 678.9,651.2 679.9,650.1 680.9,649.5 681.9,649.8 682.9,649.4 683.9,648.6 684.9,648.4 685.9,648.6 686.9,648.8 687.9,649.2 688.9,648.5 689.9,649.8 690.9,650.3 691.9,650.7 692.9,651.4 693.9,652.2 694.9,652.1 695.9,652.7 696.9,653.6 697.9,654.1 698.9,654.6 699.9,655.2 700.9,656.1 701.9,655.7 702.9,656.2 703.9,656.7 704.9,656.6 705.9,656.8 706.9,657.2 707.9,657.4 708.9,657.2 709.9,657.7 710.9,657.8 711.9,657.8 712.9,658.1 713.9,657.4 714.9,658.2 715.9,657.8 716.9,658.0 717.9,658.0 718.9,657.8 719.9,658.2 720.9,658.7 721.9,658.2 722.9,658.6 723.9,658.0 724.9,658.0 725.9,658.2 726.9,658.1 727.9,658.0 728.9,658.5 729.9,658.4 730.9,658.6 731.9,658.4 732.9,658.3 733.9,658.2 734.9,658.7 735.9,658.3 736.9,658.7 737.9,658.7 738.9,659.0 739.9,658.3 740.9,658.8 741.9,658.1 742.9,658.8 743.9,658.7 744.9,658.8 745.9,657.9 746.9,658.9 747.9,658.4 748.9,658.4 749.9,658.0 750.9,658.2 751.9,658.8 752.9,659.0 753.9,658.6 754.9,658.3 755.9,658.7 756.9,658.0 757.9,658.4 758.9,658.3 759.9,658.8 760.9,658.0 761.9,658.4 762.9,658.6 763.9,658.7 764.9,658.1 765.9,658.3 766.9,657.8 767.9,658.7 768.9,658.3 769.9,658.4 770.9,658.3 771.9,658.9 772.9,658.5 773.9,658.2 774.9,658.8 775.9,658.7 776.9,658.5 777.9,658.2 778.9,658.5 779.9,658.6 780.9,658.4 781.9,658.4 782.9,658.7 783.9,658.2 784.9,658.7 785.9,658.4 786.9,658.1 787.9,658.7 788.9,658.7 789.9,658.2 790.9,658.2 791.9,658.8 792.9,658.5 793.9,657.9 794.9,658.2 795.9,658.6 796.9,658.3 797.9,658.7 798.9,658.3 799.9,658.6 800.9,658.5 801.9,658.5 802.9,658.5 803.9,658.4 804.9,658.1 805.9,658.8 806.9,658.3 807.9,658.1 808.9,658.8 809.9,658.2 810.9,658.8 811.9,657.7 812.9,658.5 813.9,658.4 814.9,658.1 815.9,658.7 816.9,658.0 817.9,658.3 818.9,658.1 819.9,658.5 820.9,658.0 821.9,658.3 822.9,658.3 823.9,657.6 824.9,659.1 825.9,658.3 826.9,658.3 827.9,658.4 828.9,658.0 829.9,658.0 830.9,657.4 831.9,657.9 832.9,658.0 833.9,658.2 834.9,658.0 835.9,658.0 836.9,658.0 837.9,658.0 838.9,658.0 839.9,657.9 840.9,658.0 841.9,657.3 842.9,657.6 843.9,657.8 844.9,657.5 845.9,657.2 846.9,657.3 847.9,657.2 848.9,657.2 849.9,657.7 850.9,657.3 851.9,656.6 852.9,656.6 853.9,656.9 854.9,655.9 855.9,656.0 856.9,655.4 857.9,654.8 858.9,654.6 859.9,654.1 860.9,653.9 861.9,652.7 862.9,652.7 863.9,651.5 864.9,650.7 865.9,649.5 866.9,648.3 867.9,647.9 868.9,646.6 869.9,645.8 870.9,644.6 871.9,643.0 872.9,642.3 873.9,641.4 874.9,640.5 875.9,639.7 876.9,639.0 877.9,638.2 878.9,638.1 879.9,637.8 880.9,638.1 881.9,638.4 882.9,638.9 883.9,640.1 884.9,640.1 885.9,640.8 886.9,642.5 887.9,643.2 888.9,644.6 889.9,645.5 890.9,646.8 891.9,647.6 892.9,648.6 893.9,650.2 894.9,650.9 895.9,651.1 896.9,652.0 897.9,653.2 898.9,653.5 899.9,653.7 900.9,654.6 901.9,655.2 902.9,655.3 903.9,655.8 904.9,655.8 905.9,656.6 906.9,657.1 907.9,656.7 908.9,656.7 909.9,657.2 910.9,657.2 911.9,657.3 912.9,657.0 913.9,657.2 914.9,657.2 915.9,657.3 916.9,657.5 917.9,657.5 918.9,658.2 919.9,657.7 920.9,657.6 921.9,657.8 922.9,658.1 923.9,658.2 924.9,657.6 925.9,657.6 926.9,657.7 927.9,657.9 928.9,658.0 929.9,658.5 930.9,658.5 931.9,657.8 932.9,657.3 933.9,657.6 934.9,657.8 935.9,658.1 936.9,658.3 937.9,657.7 938.9,658.4 939.9,658.4 940.9,657.4 941.9,657.7 942.9,658.6 943.9,658.0 944.9,658.1 945.9,659.2 946.9,658.2 947.9,658.1 948.9,657.5 949.9,658.1 950.9,658.3 951.9,657.9 952.9,658.6 953.9,657.9 954.9,658.5 955.9,658.3 956.9,658.0 957.9,658.3 958.9,658.6 959.9,658.3 960.9,657.7 961.9,658.4 962.9,658.0 963.9,658.3 964.9,658.3 965.9,658.0 966.9,658.4 967.9,657.8 968.9,658.4 969.9,657.9 970.9,658.2 971.9,658.1 972.9,657.8 973.9,658.3 974.9,657.5 975.9,658.2 976.9,657.7 977.9,657.8 978.9,657.8 979.9,657.5 980.9,657.8 981.9,657.3 982.9,656.7 983.9,657.4 984.9,656.9 985.9,657.6 986.9,657.1 987.9,657.0 988.9,656.4 989.9,656.9 990.9,656.2 991.9,655.8 992.9,655.4 993.9,655.3 994.9,655.5 995.9,655.0 996.9,654.4 997.9,653.8 998.9,653.4 999.9,653.3 1000.9,652.5 1001.9,651.8 1002.9,651.6 1003.9,650.5 1004.9,649.9 1005.9,648.7 1006.9,648.4 1007.9,647.8 1008.9,647.4 1009.9,647.0 1010.9,646.2 1011.9,646.2 1012.9,646.1 1013.9,645.5 1014.9,645.7 1015.9,645.9 1016.9,645.6 1017.9,646.7 1018.9,646.7 1019.9,647.4 1020.9,647.4 1021.9,648.7 1022.9,649.3 1023.9,649.8 1024.9,650.2 1025.9,651.2 1026.9,651.2 1027.9,652.5 1028.9,653.1 1029.9,653.6 1030.9,654.2 1031.9,654.3 1032.9,654.8 1033.9,655.4 1034.9,655.6 1035.9,655.5 1036.9,656.0 1037.9,656.2 1038.9,656.6 1039.9,656.8 1040.9,657.2 1041.9,657.3 1042.9,657.5 1043.9,657.1 1044.9,657.8 1045.9,657.7 1046.9,658.4 1047.9,657.7 1048.9,657.0 1049.9,658.2 1050.9,657.4 1051.9,657.7 1052.9,657.7 1053.9,657.7 1054.9,658.3 1055.9,658.0 1056.9,658.0 1057.9,657.7 1058.9,657.7 1059.9,657.9 1060.9,657.9 1061.9,657.8 1062.9,657.3 1063.9,657.9 1064.9,657.8 1065.9,657.5 1066.9,657.9 1067.9,657.9 1068.9,657.6 1069.9,658.4 1070.9,657.3 1071.9,657.5 1072.9,657.5 1073.9,657.4 1074.9,657.6 1075.9,657.0 1076.9,656.8 1077.9,657.5 1078.9,656.9 1079.9,656.9 1080.9,656.9 1081.9,656.9 1082.9,656.6 1083.9,656.0 1084.9,656.1 1085.9,656.2 1086.9,656.2 1087.9,656.4 1088.9,655.6 1089.9,655.9 1090.9,655.8 1091.9,655.8 1092.9,655.1 1093.9,655.2 1094.9,655.5 1095.9,655.3 1096.9,655.3 1097.9,655.3 1098.9,655.4 1099.9,654.7 1100.9,654.6 1101.9,654.5 1102.9,654.8 1103.9,654.0 1104.9,654.3 1105.9,653.8 1106.9,653.3 1107.9,652.5 1108.9,652.3 1109.9,651.8 1110.9,651.1 1111.9,650.2 1112.9,649.8 1113.9,649.1 1114.9,648.5 1115.9,648.0 1116.9,647.1 1117.9,646.4 1118.9,646.6 1119.9,645.7 1120.9,645.7 1121.9,645.0 1122.9,644.4 1123.9,644.5 1124.9,644.4 1125.9,644.6 1126.9,644.8 1127.9,644.9 1128.9,645.6 1129.9,646.0 1130.9,645.6 1131.9,646.8 1132.9,647.3 1133.9,647.5 1134.9,648.6 1135.9,648.7 1136.9,649.4 1137.9,649.8 1138.9,650.1 1139.9,649.9 1140.9,650.3 1141.9,650.5 1142.9,650.4 1143.9,650.8 1144.9,651.3 1145.9,650.8 1146.9,651.6 1147.9,651.3 1148.9,651.5 1149.9,652.2 1150.9,652.0 1151.9,652.9 1152.9,653.2 1153.9,653.3 1154.9,653.4 1155.9,653.9 1156.9,654.5 1157.9,655.0 1158.9,654.6 1159.9,654.5 1160.9,655.3 1161.9,655.6 1162.9,655.9 1163.9,656.3 1164.9,656.0 1165.9,656.2 1166.9,656.4 1167.9,657.0 1168.9,657.0 1169.9,657.4 1170.9,657.4 1171.9,657.6 1172.9,657.5 1173.9,657.7 1174.9,657.5 1175.9,657.9 1176.9,657.9 1177.9,657.9 1178.9,658.0 1179.9,658.1 1180.9,658.0 1181.9,658.0 1182.9,657.9 1183.9,657.6 1184.9,658.3 1185.9,658.5 1186.9,657.7 1187.9,658.7 1188.9,658.5 1189.9,658.3 1190.9,658.2 1191.9,658.2 1192.9,658.0 1193.9,658.1 1194.9,658.2 1195.9,658.4 1196.9,657.7 1197.9,658.1 1198.9,657.9 1199.9,658.0 1200.9,657.8 1201.9,658.0 1202.9,658.2 1203.9,657.9 1204.9,658.4 1205.9,658.2 1206.9,658.0 1207.9,658.4 1208.9,657.8 1209.9,657.9 1210.9,657.6 1211.9,657.4 1212.9,658.4 1213.9,657.7 1214.9,657.5 1215.9,657.7 1216.9,657.8 1217.9,657.3 1218.9,657.6 1219.9,658.0 1220.9,657.9 1221.9,657.5 1222.9,657.2 1223.9,658.0 1224.9,658.0 1225.9,657.6 1226.9,657.6 1227.9,658.0 1228.9,658.1 1229.9,658.2 1230.9,658.0 1231.9,657.9 1232.9,658.0 1233.9,657.9 1234.9,658.2 1235.9,658.5 1236.9,658.0 1237.9,657.9 1238.9,658.2 1239.9,658.5 1240.9,658.0 1241.9,658.3 1242.9,658.1 1243.9,658.1 1244.9,658.8 1245.9,658.5 1246.9,658.3 1247.9,658.5 1248.9,658.5 1249.9,658.6 1250.9,658.8 1251.9,658.4 1252.9,658.9 1253.9,658.5 1254.9,658.7 1255.9,658.3 1256.9,658.3 1257.9,658.7 1258.9,658.6 1259.9,658.5 1260.9,658.7 1261.9,658.3 1262.9,658.9 1263.9,659.1 1264.9,658.6 1265.9,658.8 1266.9,658.5 1267.9,658.9 1268.9,658.6 1269.9,658.5 1270.9,658.7 1271.9,658.5 1272.9,658.6" stroke="#f0282a" stroke-width="3.9"/>
<path d="M94.9,658.6 95.9,659.3 96.9,659.3 97.9,658.9 98.9,658.8 99.9,658.7 100.9,658.9 101.9,659.1 102.9,658.8 103.9,659.2 104.9,658.8 105.9,659.0 106.9,658.2 107.9,659.3 108.9,658.6 109.9,659.0 110.9,658.5 111.9,659.4 112.9,658.6 113.9,658.2 114.9,658.4 115.9,658.8 116.9,658.4 117.9,659.0 118.9,658.7 119.9,658.0 120.9,658.4 121.9,658.5 122.9,658.7 123.9,658.7 124.9,658.5 125.9,658.3 126.9,658.5 127.9,659.0 128.9,658.6 129.9,658.5 130.9,658.6 131.9,659.2 132.9,658.8 133.9,658.0 134.9,659.0 135.9,658.9 136.9,658.7 137.9,658.4 138.9,658.8 139.9,657.8 140.9,659.0 141.9,658.5 142.9,658.6 143.9,659.0 144.9,658.8 145.9,658.6 146.9,658.4 147.9,658.9 148.9,658.5 149.9,658.8 150.9,658.6 151.9,659.0 152.9,658.6 153.9,659.2 154.9,658.3 155.9,658.7 156.9,658.4 157.9,658.7 158.9,658.9 159.9,658.5 160.9,659.1 161.9,658.9 162.9,658.9 163.9,658.6 164.9,658.6 165.9,658.7 166.9,658.7 167.9,658.2 168.9,658.3 169.9,658.8 170.9,658.4 171.9,658.8 172.9,658.7 173.9,658.9 174.9,658.6 175.9,658.4 176.9,658.9 177.9,658.9 178.9,658.6 179.9,658.5 180.9,659.0 181.9,658.2 182.9,658.5 183.9,658.6 184.9,658.6 185.9,658.7 186.9,658.8 187.9,658.3 188.9,658.4 189.9,658.7 190.9,658.7 191.9,658.6 192.9,658.4 193.9,658.7 194.9,658.6 195.9,658.9 196.9,658.6 197.9,658.7 198.9,659.1 199.9,659.3 200.9,658.6 201.9,658.7 202.9,659.1 203.9,658.0 204.9,658.9 205.9,658.8 206.9,658.8 207.9,658.4 208.9,658.7 209.9,658.4 210.9,658.2 211.9,658.9 212.9,658.8 213.9,658.4 214.9,658.7 215.9,658.0 216.9,658.7 217.9,659.0 218.9,658.7 219.9,658.5 220.9,658.3 221.9,658.4 222.9,658.1 223.9,658.3 224.9,658.7 225.9,658.6 226.9,658.3 227.9,658.5 228.9,659.1 229.9,658.7 230.9,658.7 231.9,658.7 232.9,658.4 233.9,658.4 234.9,658.2 235.9,659.2 236.9,658.5 237.9,658.1 238.9,658.5 239.9,658.9 240.9,658.1 241.9,658.0 242.9,658.1 243.9,658.6 244.9,658.6 245.9,659.0 246.9,658.3 247.9,658.4 248.9,658.4 249.9,658.5 250.9,658.8 251.9,658.4 252.9,658.0 253.9,658.3 254.9,658.1 255.9,658.5 256.9,658.6 257.9,658.3 258.9,658.7 259.9,658.7 260.9,658.2 261.9,658.1 262.9,659.0 263.9,658.5 264.9,659.0 265.9,658.3 266.9,658.1 267.9,658.5 268.9,658.1 269.9,658.2 270.9,658.2 271.9,658.8 272.9,658.1 273.9,658.9 274.9,658.1 275.9,658.2 276.9,658.5 277.9,658.7 278.9,658.0 279.9,658.2 280.9,658.1 281.9,658.6 282.9,658.0 283.9,658.1 284.9,658.9 285.9,658.7 286.9,658.3 287.9,658.2 288.9,658.1 289.9,657.9 290.9,657.8 291.9,657.9 292.9,658.3 293.9,658.2 294.9,658.5 295.9,657.9 296.9,657.6 297.9,658.1 298.9,658.2 299.9,657.2 300.9,657.8 301.9,658.0 302.9,657.6 303.9,657.0 304.9,658.0 305.9,656.8 306.9,657.4 307.9,657.8 308.9,657.1 309.9,658.0 310.9,657.5 311.9,657.2 312.9,656.7 313.9,657.4 314.9,657.0 315.9,657.4 316.9,656.4 317.9,657.1 318.9,656.8 319.9,656.2 320.9,656.5 321.9,656.0 322.9,655.4 323.9,655.6 324.9,655.8 325.9,654.2 326.9,654.4 327.9,653.8 328.9,652.9 329.9,652.5 330.9,651.1 331.9,650.2 332.9,648.5 333.9,647.1 334.9,645.3 335.9,642.9 336.9,640.5 337.9,638.3 338.9,636.0 339.9,632.9 340.9,630.1 341.9,628.0 342.9,625.5 343.9,622.8 344.9,621.3 345.9,620.4 346.9,620.1 347.9,619.9 348.9,620.6 349.9,622.9 350.9,624.7 351.9,627.1 352.9,629.7 353.9,632.4 354.9,634.9 355.9,637.1 356.9,639.9 357.9,641.9 358.9,644.4 359.9,645.7 360.9,647.3 361.9,648.4 362.9,649.6 363.9,651.0 364.9,651.8 365.9,652.6 366.9,652.8 367.9,653.5 368.9,653.3 369.9,654.1 370.9,654.1 371.9,654.2 372.9,653.6 373.9,654.8 374.9,653.7 375.9,653.8 376.9,653.9 377.9,653.1 378.9,653.5 379.9,653.2 380.9,652.8 381.9,651.6 382.9,652.0 383.9,651.5 384.9,650.5 385.9,650.0 386.9,648.7 387.9,647.9 388.9,645.7 389.9,645.6 390.9,644.7 391.9,642.8 392.9,642.4 393.9,640.1 394.9,638.6 395.9,637.7 396.9,635.9 397.9,634.9 398.9,633.6 399.9,632.6 400.9,632.2 401.9,630.5 402.9,631.1 403.9,630.3 404.9,630.4 405.9,630.3 406.9,631.7 407.9,632.1 408.9,633.0 409.9,634.1 410.9,635.9 411.9,636.5 412.9,637.8 413.9,638.6 414.9,639.7 415.9,640.9 416.9,642.1 417.9,642.6 418.9,643.8 419.9,643.7 420.9,644.3 421.9,643.9 422.9,643.8 423.9,643.7 424.9,643.1 425.9,641.7 426.9,641.0 427.9,638.5 428.9,636.5 429.9,634.4 430.9,631.6 431.9,629.0 432.9,625.1 433.9,621.2 434.9,618.0 435.9,614.8 436.9,611.0 437.9,606.7 438.9,604.3 439.9,601.7 440.9,600.1 441.9,599.3 442.9,598.7 443.9,600.2 444.9,602.5 445.9,604.9 446.9,607.6 447.9,611.1 448.9,615.7 449.9,619.6 450.9,623.3 451.9,627.1 452.9,630.5 453.9,634.2 454.9,636.6 455.9,639.7 456.9,641.9 457.9,643.9 458.9,646.8 459.9,647.6 460.9,649.0 461.9,650.1 462.9,651.0 463.9,652.2 464.9,652.7 465.9,653.6 466.9,653.5 467.9,654.5 468.9,654.9 469.9,655.1 470.9,655.1 471.9,655.6 472.9,655.8 473.9,656.1 474.9,655.8 475.9,656.6 476.9,656.3 477.9,656.9 478.9,656.2 479.9,656.6 480.9,657.0 481.9,656.6 482.9,657.7 483.9,657.1 484.9,656.9 485.9,656.7 486.9,657.0 487.9,657.1 488.9,656.7 489.9,657.4 490.9,657.5 491.9,657.8 492.9,657.3 493.9,657.4 494.9,657.3 495.9,657.6 496.9,657.5 497.9,657.8 498.9,657.9 499.9,657.2 500.9,657.9 501.9,657.6 502.9,657.9 503.9,657.5 504.9,657.8 505.9,658.0 506.9,657.8 507.9,658.3 508.9,657.9 509.9,657.8 510.9,657.9 511.9,657.9 512.9,658.3 513.9,658.1 514.9,658.4 515.9,658.4 516.9,658.1 517.9,658.7 518.9,657.7 519.9,658.2 520.9,657.7 521.9,657.6 522.9,657.7 523.9,658.9 524.9,658.0 525.9,658.0 526.9,658.5 527.9,658.1 528.9,657.9 529.9,657.7 530.9,658.0 531.9,658.4 532.9,658.0 533.9,658.5 534.9,658.3 535.9,658.3 536.9,658.2 537.9,658.4 538.9,658.5 539.9,657.6 540.9,658.1 541.9,658.0 542.9,658.1 543.9,658.4 544.9,657.7 545.9,658.4 546.9,658.2 547.9,657.7 548.9,658.2 549.9,658.7 550.9,658.6 551.9,658.6 552.9,658.2 553.9,658.1 554.9,658.4 555.9,658.4 556.9,659.0 557.9,658.3 558.9,658.0 559.9,658.2 560.9,658.8 561.9,658.0 562.9,658.7 563.9,658.6 564.9,658.8 565.9,659.0 566.9,658.8 567.9,658.0 568.9,658.5 569.9,658.1 570.9,658.1 571.9,658.9 572.9,658.0 573.9,658.2 574.9,658.1 575.9,658.8 576.9,659.1 577.9,658.9 578.9,659.1 579.9,658.9 580.9,659.0 581.9,658.1 582.9,658.5 583.9,658.6 584.9,658.5 585.9,658.5 586.9,658.6 587.9,658.1 588.9,658.3 589.9,658.6 590.9,658.2 591.9,658.4 592.9,658.6 593.9,658.7 594.9,658.1 595.9,658.8 596.9,658.4 597.9,658.2 598.9,658.9 599.9,658.5 600.9,658.2 601.9,658.8 602.9,658.4 603.9,658.3 604.9,658.7 605.9,658.3 606.9,658.9 607.9,658.3 608.9,658.7 609.9,658.3 610.9,658.0 611.9,658.2 612.9,658.3 613.9,659.0 614.9,658.2 615.9,658.2 616.9,658.4 617.9,657.8 618.9,658.6 619.9,658.4 620.9,658.7 621.9,659.1 622.9,658.2 623.9,658.3 624.9,658.3 625.9,658.7 626.9,658.6 627.9,658.6 628.9,658.4 629.9,658.6 630.9,658.4 631.9,658.2 632.9,658.3 633.9,658.0 634.9,658.9 635.9,658.3 636.9,658.2 637.9,658.7 638.9,658.0 639.9,658.4 640.9,658.6 641.9,658.5 642.9,658.0 643.9,658.6 644.9,658.6 645.9,658.3 646.9,658.6 647.9,657.7 648.9,657.7 649.9,657.9 650.9,658.4 651.9,658.1 652.9,658.7 653.9,658.3 654.9,658.0 655.9,658.4 656.9,657.9 657.9,657.4 658.9,657.6 659.9,657.5 660.9,657.2 661.9,657.0 662.9,657.7 663.9,657.1 664.9,656.4 665.9,656.5 666.9,656.4 667.9,656.7 668.9,655.9 669.9,655.1 670.9,655.3 671.9,654.0 672.9,654.7 673.9,653.6 674.9,653.1 675.9,652.7 676.9,651.6 677.9,651.1 678.9,650.8 679.9,650.4 680.9,649.6 681.9,649.5 682.9,648.6 683.9,648.6 684.9,648.3 685.9,648.1 686.9,649.3 687.9,649.4 688.9,649.5 689.9,649.8 690.9,650.0 691.9,650.6 692.9,651.8 693.9,651.9 694.9,652.6 695.9,653.3 696.9,653.5 697.9,653.9 698.9,654.4 699.9,654.9 700.9,655.9 701.9,656.2 702.9,655.9 703.9,656.1 704.9,656.5 705.9,656.9 706.9,657.1 707.9,657.6 708.9,657.4 709.9,657.3 710.9,657.1 711.9,657.9 712.9,658.4 713.9,658.2 714.9,658.2 715.9,657.6 716.9,658.3 717.9,657.9 718.9,657.7 719.9,658.2 720.9,658.3 721.9,657.9 722.9,658.0 723.9,658.6 724.9,658.4 725.9,657.9 726.9,658.5 727.9,658.1 728.9,658.4 729.9,658.2 730.9,659.2 731.9,658.9 732.9,658.3 733.9,658.9 734.9,658.4 735.9,658.3 736.9,658.5 737.9,658.3 738.9,659.2 739.9,658.3 740.9,658.6 741.9,658.8 742.9,658.6 743.9,658.3 744.9,658.6 745.9,658.7 746.9,658.4 747.9,659.0 748.9,658.7 749.9,658.7 750.9,658.5 751.9,658.9 752.9,658.5 753.9,658.5 754.9,658.4 755.9,658.3 756.9,658.8 757.9,658.3 758.9,658.0 759.9,658.4 760.9,658.6 761.9,658.7 762.9,658.7 763.9,658.4 764.9,658.3 765.9,658.1 766.9,658.7 767.9,658.5 768.9,658.5 769.9,658.3 770.9,658.6 771.9,659.1 772.9,658.5 773.9,658.9 774.9,658.6 775.9,658.3 776.9,658.8 777.9,658.5 778.9,658.3 779.9,658.9 780.9,658.7 781.9,658.8 782.9,658.6 783.9,657.6 784.9,658.7 785.9,659.0 786.9,659.1 787.9,658.1 788.9,658.8 789.9,658.3 790.9,658.9 791.9,659.0 792.9,659.1 793.9,658.9 794.9,658.6 795.9,658.4 796.9,658.2 797.9,658.6 798.9,658.5 799.9,658.4 800.9,658.2 801.9,658.9 802.9,658.8 803.9,658.3 804.9,658.4 805.9,658.4 806.9,658.6 807.9,658.7 808.9,658.3 809.9,658.6 810.9,658.5 811.9,658.2 812.9,658.3 813.9,658.3 814.9,658.5 815.9,658.2 816.9,658.2 817.9,657.8 818.9,658.9 819.9,658.2 820.9,658.2 821.9,657.8 822.9,658.6 823.9,658.5 824.9,658.0 825.9,658.4 826.9,658.5 827.9,657.8 828.9,658.0 829.9,658.6 830.9,657.1 831.9,658.0 832.9,657.5 833.9,657.8 834.9,658.3 835.9,657.6 836.9,657.8 837.9,657.8 838.9,657.9 839.9,657.6 840.9,657.8 841.9,657.8 842.9,657.8 843.9,657.7 844.9,657.7 845.9,657.8 846.9,657.2 847.9,657.2 848.9,657.0 849.9,657.3 850.9,657.2 851.9,657.1 852.9,656.2 853.9,656.4 854.9,656.0 855.9,656.0 856.9,655.2 857.9,654.6 858.9,654.5 859.9,654.3 860.9,653.7 861.9,653.3 862.9,651.8 863.9,651.6 864.9,650.5 865.9,649.7 866.9,649.2 867.9,647.8 868.9,646.8 869.9,645.8 870.9,644.4 871.9,643.3 872.9,642.6 873.9,641.5 874.9,640.2 875.9,639.4 876.9,639.2 877.9,638.5 878.9,638.6 879.9,638.0 880.9,638.1 881.9,639.0 882.9,638.8 883.9,639.7 884.9,640.9 885.9,642.0 886.9,642.2 887.9,643.3 888.9,644.5 889.9,646.2 890.9,646.7 891.9,647.6 892.9,648.7 893.9,649.6 894.9,650.4 895.9,651.9 896.9,652.5 897.9,652.6 898.9,653.0 899.9,654.0 900.9,654.1 901.9,655.3 902.9,655.5 903.9,656.2 904.9,656.1 905.9,656.0 906.9,656.7 907.9,656.9 908.9,657.2 909.9,656.9 910.9,657.1 911.9,657.0 912.9,657.2 913.9,657.7 914.9,657.7 915.9,657.4 916.9,657.9 917.9,657.8 918.9,657.8 919.9,657.6 920.9,657.9 921.9,657.9 922.9,657.7 923.9,657.2 924.9,658.0 925.9,657.5 926.9,657.9 927.9,657.5 928.9,658.1 929.9,657.9 930.9,658.9 931.9,658.1 932.9,658.6 933.9,658.0 934.9,658.4 935.9,658.2 936.9,657.7 937.9,658.2 938.9,658.3 939.9,658.4 940.9,658.2 941.9,658.5 942.9,658.0 943.9,658.1 944.9,658.3 945.9,658.7 946.9,657.7 947.9,658.0 948.9,658.7 949.9,658.3 950.9,657.8 951.9,657.8 952.9,658.4 953.9,658.5 954.9,658.0 955.9,658.0 956.9,658.3 957.9,658.1 958.9,658.1 959.9,658.5 960.9,658.1 961.9,658.3 962.9,658.2 963.9,658.6 964.9,658.1 965.9,658.3 966.9,658.1 967.9,657.9 968.9,658.7 969.9,658.6 970.9,658.1 971.9,657.8 972.9,657.7 973.9,657.9 974.9,657.8 975.9,657.8 976.9,657.8 977.9,657.7 978.9,657.8 979.9,657.7 980.9,657.7 981.9,657.1 982.9,657.7 983.9,657.4 984.9,657.5 985.9,657.4 986.9,657.0 987.9,656.9 988.9,656.9 989.9,655.8 990.9,657.2 991.9,656.3 992.9,655.5 993.9,655.4 994.9,654.7 995.9,654.4 996.9,654.6 997.9,654.3 998.9,653.4 999.9,652.8 1000.9,652.4 1001.9,652.4 1002.9,650.5 1003.9,650.7 1004.9,650.4 1005.9,649.2 1006.9,649.4 1007.9,648.5 1008.9,647.6 1009.9,646.7 1010.9,646.5 1011.9,646.3 1012.9,645.6 1013.9,645.7 1014.9,645.9 1015.9,646.0 1016.9,646.0 1017.9,646.5 1018.9,646.9 1019.9,647.3 1020.9,648.0 1021.9,648.2 1022.9,649.2 1023.9,649.7 1024.9,650.6 1025.9,651.5 1026.9,651.8 1027.9,652.8 1028.9,652.8 1029.9,653.5 1030.9,653.6 1031.9,654.0 1032.9,654.6 1033.9,654.9 1034.9,655.5 1035.9,656.0 1036.9,656.0 1037.9,656.1 1038.9,655.9 1039.9,656.8 1040.9,657.2 1041.9,657.4 1042.9,657.5 1043.9,658.0 1044.9,657.6 1045.9,657.0 1046.9,657.6 1047.9,657.1 1048.9,657.7 1049.9,658.0 1050.9,658.2 1051.9,657.1 1052.9,657.5 1053.9,657.8 1054.9,658.3 1055.9,657.9 1056.9,657.3 1057.9,657.8 1058.9,657.7 1059.9,657.6 1060.9,657.4 1061.9,658.0 1062.9,657.5 1063.9,658.1 1064.9,657.8 1065.9,657.7 1066.9,657.8 1067.9,657.9 1068.9,657.6 1069.9,657.5 1070.9,657.8 1071.9,657.3 1072.9,657.5 1073.9,657.3 1074.9,657.4 1075.9,657.5 1076.9,656.9 1077.9,657.4 1078.9,656.7 1079.9,657.0 1080.9,656.9 1081.9,656.8 1082.9,656.9 1083.9,655.9 1084.9,656.3 1085.9,655.7 1086.9,656.2 1087.9,655.8 1088.9,655.9 1089.9,656.5 1090.9,656.0 1091.9,655.7 1092.9,655.5 1093.9,655.3 1094.9,655.7 1095.9,655.6 1096.9,655.0 1097.9,655.6 1098.9,655.5 1099.9,655.0 1100.9,654.2 1101.9,654.1 1102.9,654.8 1103.9,654.4 1104.9,654.3 1105.9,653.5 1106.9,653.5 1107.9,653.1 1108.9,651.7 1109.9,652.0 1110.9,651.5 1111.9,650.8 1112.9,650.0 1113.9,649.3 1114.9,648.8 1115.9,648.5 1116.9,647.2 1117.9,646.1 1118.9,646.1 1119.9,645.8 1120.9,644.7 1121.9,645.3 1122.9,644.7 1123.9,644.1 1124.9,644.8 1125.9,644.6 1126.9,644.8 1127.9,644.9 1128.9,645.1 1129.9,645.7 1130.9,645.9 1131.9,646.5 1132.9,647.6 1133.9,647.8 1134.9,647.9 1135.9,648.4 1136.9,648.9 1137.9,649.1 1138.9,650.1 1139.9,650.2 1140.9,650.5 1141.9,650.7 1142.9,650.8 1143.9,651.0 1144.9,650.8 1145.9,651.3 1146.9,651.0 1147.9,651.5 1148.9,651.4 1149.9,652.0 1150.9,652.1 1151.9,652.4 1152.9,652.7 1153.9,653.1 1154.9,653.8 1155.9,653.6 1156.9,654.4 1157.9,654.3 1158.9,654.4 1159.9,655.6 1160.9,655.5 1161.9,655.7 1162.9,655.8 1163.9,655.9 1164.9,656.5 1165.9,656.8 1166.9,656.5 1167.9,656.9 1168.9,657.5 1169.9,657.1 1170.9,656.9 1171.9,657.4 1172.9,657.7 1173.9,656.7 1174.9,658.0 1175.9,658.0 1176.9,657.5 1177.9,657.8 1178.9,658.0 1179.9,657.5 1180.9,657.9 1181.9,657.8 1182.9,658.3 1183.9,658.5 1184.9,658.7 1185.9,658.4 1186.9,658.2 1187.9,658.3 1188.9,658.0 1189.9,658.5 1190.9,658.4 1191.9,658.7 1192.9,658.0 1193.9,658.6 1194.9,658.2 1195.9,658.5 1196.9,658.6 1197.9,658.0 1198.9,658.1 1199.9,658.1 1200.9,658.1 1201.9,657.5 1202.9,658.6 1203.9,658.3 1204.9,658.4 1205.9,658.5 1206.9,657.4 1207.9,658.4 1208.9,657.4 1209.9,657.9 1210.9,657.8 1211.9,657.6 1212.9,657.9 1213.9,657.9 1214.9,658.0 1215.9,657.2 1216.9,657.5 1217.9,657.9 1218.9,657.6 1219.9,657.2 1220.9,657.5 1221.9,657.7 1222.9,658.3 1223.9,657.7 1224.9,658.1 1225.9,657.5 1226.9,658.2 1227.9,657.8 1228.9,657.4 1229.9,657.6 1230.9,658.2 1231.9,657.8 1232.9,658.2 1233.9,658.0 1234.9,657.9 1235.9,658.4 1236.9,658.5 1237.9,658.4 1238.9,657.7 1239.9,658.3 1240.9,657.9 1241.9,658.8 1242.9,658.8 1243.9,658.6 1244.9,658.2 1245.9,658.7 1246.9,658.5 1247.9,658.3 1248.9,657.9 1249.9,658.0 1250.9,658.1 1251.9,658.9 1252.9,658.8 1253.9,658.5 1254.9,658.2 1255.9,657.9 1256.9,658.8 1257.9,658.9 1258.9,658.4 1259.9,659.1 1260.9,658.9 1261.9,658.4 1262.9,658.4 1263.9,658.2 1264.9,658.9 1265.9,658.6 1266.9,658.8 1267.9,658.2 1268.9,659.0 1269.9,658.9 1270.9,658.5 1271.9,659.0 1272.9,658.6" stroke="#000" stroke-width="3.4"/>
</g>
<line x1="196.2" y1="70" x2="196.2" y2="675.8" stroke="#000" stroke-width="5.4" stroke-linecap="round"/>
<path d="M196,33 L180.5,77.5 L212,77.5 Z" fill="#000" stroke="#000" stroke-width="2.5" stroke-linejoin="round"/>
<text x="858.9" y="102.3" font-family='"Liberation Serif", serif' font-size="62" fill="#c4166f">Zn<tspan font-size="36" dy="23.6">0.98</tspan><tspan dy="-23.6">Fe</tspan><tspan font-size="36" dy="23.6">0.02</tspan><tspan dy="-23.6">O</tspan><tspan fill="#000">(-C)</tspan></text>
<text x="861.4" y="218.1" font-family='"Liberation Serif", serif' font-size="62" fill="#1b6abf">Zn<tspan font-size="36" dy="23.6">0.96</tspan><tspan dy="-23.6">Fe</tspan><tspan font-size="36" dy="23.6">0.04</tspan><tspan dy="-23.6">O</tspan><tspan fill="#000">(-C)</tspan></text>
<text x="859.5" y="315.0" font-family='"Liberation Serif", serif' font-size="62" fill="#1ec4bd">Zn<tspan font-size="36" dy="23.6">0.94</tspan><tspan dy="-23.6">Fe</tspan><tspan font-size="36" dy="23.6">0.06</tspan><tspan dy="-23.6">O</tspan><tspan fill="#000">(-C)</tspan></text>
<text x="858.9" y="418.1" font-family='"Liberation Serif", serif' font-size="62" fill="#45a236">Zn<tspan font-size="36" dy="23.6">0.92</tspan><tspan dy="-23.6">Fe</tspan><tspan font-size="36" dy="23.6">0.08</tspan><tspan dy="-23.6">O</tspan><tspan fill="#000">(-C)</tspan></text>
<text x="861.4" y="518.1" font-family='"Liberation Serif", serif' font-size="62" fill="#d7ab1b">Zn<tspan font-size="36" dy="23.6">0.90</tspan><tspan dy="-23.6">Fe</tspan><tspan font-size="36" dy="23.6">0.10</tspan><tspan dy="-23.6">O</tspan><tspan fill="#000">(-C)</tspan></text>
<text x="860.5" y="613.75" font-family='"Liberation Serif", serif' font-size="62" fill="#f01c24">Zn<tspan font-size="36" dy="23.6">0.88</tspan><tspan dy="-23.6">Fe</tspan><tspan font-size="36" dy="23.6">0.12</tspan><tspan dy="-23.6">O</tspan><tspan fill="#000">(-C)</tspan></text>
<g fill="none" stroke="#000" stroke-width="3.3" stroke-linejoin="round">
<rect x="93.3" y="7.3" width="1181.5" height="682.2"/>
<rect x="93.3" y="692.8" width="1181.5" height="238.9"/>
<line x1="93.3" y1="691.15" x2="1274.8" y2="691.15" stroke-width="6.4"/>
</g>
<g stroke="#000" stroke-width="3">
<line x1="346.1" y1="807" x2="346.1" y2="931"/>
<line x1="403.0" y1="842.3" x2="403.0" y2="931"/>
<line x1="442.4" y1="715.3" x2="442.4" y2="931"/>
<line x1="684.9" y1="885.5" x2="684.9" y2="931"/>
<line x1="879.5" y1="866.6" x2="879.5" y2="931"/>
<line x1="1013.9" y1="874.9" x2="1013.9" y2="931"/>
<line x1="1089.5" y1="923" x2="1089.5" y2="931"/>
<line x1="1123.5" y1="885.7" x2="1123.5" y2="931"/>
<line x1="1148.0" y1="909" x2="1148.0" y2="931"/>
<line x1="1222.3" y1="927.5" x2="1222.3" y2="931"/>
</g>
<text transform="translate(358.9,800.1) rotate(-90)" font-family='"Liberation Serif", serif' font-size="38.8" fill="#000">(100)</text>
<text transform="translate(411.2,833.5) rotate(-90)" font-family='"Liberation Serif", serif' font-size="38.8" fill="#000">(002)</text>
<text transform="translate(483.9,781.7) rotate(-90)" font-family='"Liberation Serif", serif' font-size="38.8" fill="#000">(101)</text>
<text transform="translate(698.2,872.4) rotate(-90)" font-family='"Liberation Serif", serif' font-size="38.8" fill="#000">(102)</text>
<text transform="translate(890.2,853.3) rotate(-90)" font-family='"Liberation Serif", serif' font-size="38.8" fill="#000">(110)</text>
<text transform="translate(1026.0,864.9) rotate(-90)" font-family='"Liberation Serif", serif' font-size="38.8" fill="#000">(103)</text>
<text transform="translate(1092.4,907.4) rotate(-90)" font-family='"Liberation Serif", serif' font-size="38.8" fill="#000">(200)</text>
<text transform="translate(1132.9,873.8) rotate(-90)" font-family='"Liberation Serif", serif' font-size="38.8" fill="#000">(112)</text>
<text transform="translate(1172.8,896.0) rotate(-90)" font-family='"Liberation Serif", serif' font-size="38.8" fill="#000">(201)</text>
<text transform="translate(1239.0,919.1) rotate(-90)" font-family='"Liberation Serif", serif' font-size="38.8" fill="#000">(004)</text>
<text x="668.4" y="740.8" font-family='"Liberation Serif", serif' font-size="49.3" fill="#000">JCPDS card No. 01-071-6424</text>
<g stroke="#000" stroke-width="3.3">
<line x1="93.3" y1="930" x2="93.3" y2="948.2"/>
<line x1="200.7" y1="930" x2="200.7" y2="940.2"/>
<line x1="308.1" y1="930" x2="308.1" y2="948.2"/>
<line x1="415.5" y1="930" x2="415.5" y2="940.2"/>
<line x1="522.9" y1="930" x2="522.9" y2="948.2"/>
<line x1="630.3" y1="930" x2="630.3" y2="940.2"/>
<line x1="737.7" y1="930" x2="737.7" y2="948.2"/>
<line x1="845.1" y1="930" x2="845.1" y2="940.2"/>
<line x1="952.5" y1="930" x2="952.5" y2="948.2"/>
<line x1="1059.9" y1="930" x2="1059.9" y2="940.2"/>
<line x1="1167.3" y1="930" x2="1167.3" y2="948.2"/>
<line x1="1274.7" y1="930" x2="1274.7" y2="940.2"/>
</g>
<text x="93.3" y="996.4" text-anchor="middle" font-family='"Liberation Serif", serif' font-size="48" fill="#000">20</text>
<text x="308.1" y="996.4" text-anchor="middle" font-family='"Liberation Serif", serif' font-size="48" fill="#000">30</text>
<text x="522.9" y="996.4" text-anchor="middle" font-family='"Liberation Serif", serif' font-size="48" fill="#000">40</text>
<text x="737.7" y="996.4" text-anchor="middle" font-family='"Liberation Serif", serif' font-size="48" fill="#000">50</text>
<text x="952.5" y="996.4" text-anchor="middle" font-family='"Liberation Serif", serif' font-size="48" fill="#000">60</text>
<text x="1167.3" y="996.4" text-anchor="middle" font-family='"Liberation Serif", serif' font-size="48" fill="#000">70</text>
<text x="571.1" y="1073.5" font-family='"Liberation Serif", serif' font-size="70.5" fill="#000">2θ / deg.</text>
<text transform="translate(59.5,523.4) rotate(-90)" font-family='"Liberation Serif", serif' font-size="71.7" fill="#000">Intensity / a.u.</text>
</svg></body></html>
